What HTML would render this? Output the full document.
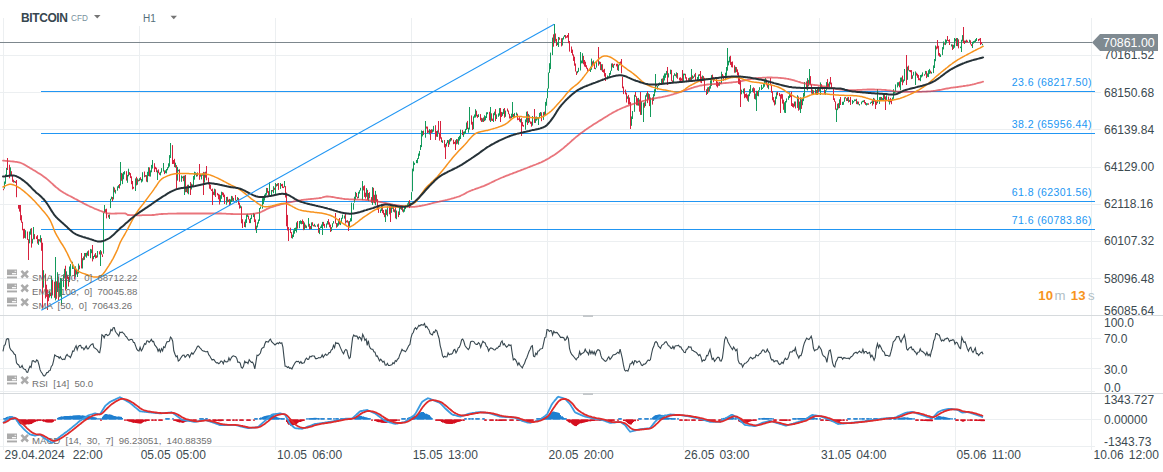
<!DOCTYPE html><html><head><meta charset="utf-8"><style>
html,body{margin:0;padding:0;background:#fff;width:1163px;height:472px;overflow:hidden}
svg{display:block}
text{font-family:"Liberation Sans",sans-serif}
</style></head><body>
<svg width="1163" height="472" viewBox="0 0 1163 472" shape-rendering="auto">
<rect width="1163" height="472" fill="#fff"/>
<line x1="3.5" y1="18" x2="3.5" y2="450" stroke="#eceff1" stroke-width="1"/>
<line x1="139.5" y1="18" x2="139.5" y2="450" stroke="#eceff1" stroke-width="1"/>
<line x1="275.5" y1="18" x2="275.5" y2="450" stroke="#eceff1" stroke-width="1"/>
<line x1="411.5" y1="18" x2="411.5" y2="450" stroke="#eceff1" stroke-width="1"/>
<line x1="547.5" y1="18" x2="547.5" y2="450" stroke="#eceff1" stroke-width="1"/>
<line x1="683.5" y1="18" x2="683.5" y2="450" stroke="#eceff1" stroke-width="1"/>
<line x1="819.5" y1="18" x2="819.5" y2="450" stroke="#eceff1" stroke-width="1"/>
<line x1="955.5" y1="18" x2="955.5" y2="450" stroke="#eceff1" stroke-width="1"/>
<line x1="1091.5" y1="18" x2="1091.5" y2="450" stroke="#eceff1" stroke-width="1"/>
<line x1="0" y1="55.5" x2="1101" y2="55.5" stroke="#eceff1" stroke-width="1"/>
<line x1="0" y1="92.5" x2="1101" y2="92.5" stroke="#eceff1" stroke-width="1"/>
<line x1="0" y1="129.5" x2="1101" y2="129.5" stroke="#eceff1" stroke-width="1"/>
<line x1="0" y1="167.5" x2="1101" y2="167.5" stroke="#eceff1" stroke-width="1"/>
<line x1="0" y1="204.5" x2="1101" y2="204.5" stroke="#eceff1" stroke-width="1"/>
<line x1="0" y1="241.5" x2="1101" y2="241.5" stroke="#eceff1" stroke-width="1"/>
<line x1="0" y1="278.5" x2="1101" y2="278.5" stroke="#eceff1" stroke-width="1"/>
<line x1="0" y1="338.5" x2="1101" y2="338.5" stroke="#eceff1" stroke-width="1"/>
<line x1="0" y1="368.5" x2="1101" y2="368.5" stroke="#eceff1" stroke-width="1"/>
<line x1="0" y1="391.5" x2="1095" y2="391.5" stroke="#eceff1" stroke-width="1"/>
<line x1="0" y1="419.5" x2="1101" y2="419.5" stroke="#eceff1" stroke-width="1"/>
<line x1="0" y1="446.5" x2="1095" y2="446.5" stroke="#eceff1" stroke-width="1"/>
<line x1="0" y1="315.5" x2="1163" y2="315.5" stroke="#d6dadd" stroke-width="1"/>
<line x1="0" y1="393.5" x2="1163" y2="393.5" stroke="#d6dadd" stroke-width="1"/>
<rect x="583" y="315" width="10" height="2" fill="#c4c8cb"/>
<rect x="583" y="393" width="10" height="2" fill="#c4c8cb"/>
<line x1="41" y1="91.5" x2="1095" y2="91.5" stroke="#2196f3" stroke-width="1"/>
<text x="1092" y="85.5" font-size="10.5" fill="#2196f3" text-anchor="end" letter-spacing="0.4">23.6 (68217.50)</text>
<line x1="41" y1="133.5" x2="1095" y2="133.5" stroke="#2196f3" stroke-width="1"/>
<text x="1092" y="127.5" font-size="10.5" fill="#2196f3" text-anchor="end" letter-spacing="0.4">38.2 (65956.44)</text>
<line x1="41" y1="201.5" x2="1095" y2="201.5" stroke="#2196f3" stroke-width="1"/>
<text x="1092" y="195.5" font-size="10.5" fill="#2196f3" text-anchor="end" letter-spacing="0.4">61.8 (62301.56)</text>
<line x1="41" y1="229.5" x2="1095" y2="229.5" stroke="#2196f3" stroke-width="1"/>
<text x="1092" y="223.5" font-size="10.5" fill="#2196f3" text-anchor="end" letter-spacing="0.4">71.6 (60783.86)</text>
<line x1="0" y1="42.5" x2="1092" y2="42.5" stroke="#7d878d" stroke-width="1"/>
<g><rect x="3" y="188.7" width="1" height="1.5" fill="#d7223e"/><rect x="4" y="181.5" width="1" height="7.1" fill="#139a5b"/><rect x="5" y="174.4" width="1" height="9.4" fill="#139a5b"/><rect x="6" y="167.9" width="1" height="9.2" fill="#139a5b"/><rect x="7" y="158.0" width="1" height="12.0" fill="#d7223e"/><rect x="9" y="164.7" width="1" height="13.6" fill="#d7223e"/><rect x="10" y="167.3" width="1" height="8.5" fill="#139a5b"/><rect x="11" y="171.2" width="1" height="4.1" fill="#d7223e"/><rect x="12" y="175.0" width="1" height="6.8" fill="#d7223e"/><rect x="13" y="179.7" width="1" height="2.9" fill="#d7223e"/><rect x="14" y="180.9" width="1" height="1.5" fill="#139a5b"/><rect x="15" y="181.3" width="1" height="1.7" fill="#d7223e"/><rect x="16" y="180.0" width="1" height="17.2" fill="#d7223e"/><rect x="18" y="205.0" width="1" height="3.7" fill="#d7223e"/><rect x="19" y="205.0" width="1" height="6.6" fill="#d7223e"/><rect x="20" y="205.0" width="1" height="15.3" fill="#d7223e"/><rect x="21" y="215.2" width="1" height="7.5" fill="#d7223e"/><rect x="22" y="221.8" width="1" height="8.5" fill="#d7223e"/><rect x="23" y="228.9" width="1" height="9.7" fill="#d7223e"/><rect x="24" y="228.8" width="1" height="9.1" fill="#d7223e"/><rect x="25" y="230.2" width="1" height="8.3" fill="#139a5b"/><rect x="27" y="231.5" width="1" height="8.4" fill="#d7223e"/><rect x="28" y="239.2" width="1" height="20.8" fill="#d7223e"/><rect x="29" y="231.5" width="1" height="11.8" fill="#139a5b"/><rect x="30" y="228.8" width="1" height="5.9" fill="#139a5b"/><rect x="31" y="228.1" width="1" height="19.5" fill="#d7223e"/><rect x="32" y="238.8" width="1" height="4.7" fill="#139a5b"/><rect x="33" y="227.0" width="1" height="12.3" fill="#139a5b"/><rect x="34" y="234.1" width="1" height="5.2" fill="#d7223e"/><rect x="36" y="236.3" width="1" height="2.7" fill="#d7223e"/><rect x="37" y="235.1" width="1" height="8.5" fill="#d7223e"/><rect x="38" y="239.1" width="1" height="5.8" fill="#139a5b"/><rect x="39" y="239.2" width="1" height="2.1" fill="#d7223e"/><rect x="40" y="235.2" width="1" height="7.2" fill="#139a5b"/><rect x="41" y="238.0" width="1" height="12.8" fill="#d7223e"/><rect x="42" y="242.7" width="1" height="65.4" fill="#d7223e"/><rect x="43" y="270.2" width="1" height="17.4" fill="#139a5b"/><rect x="45" y="273.7" width="1" height="24.7" fill="#d7223e"/><rect x="46" y="284.7" width="1" height="12.1" fill="#d7223e"/><rect x="47" y="289.5" width="1" height="20.5" fill="#d7223e"/><rect x="48" y="293.9" width="1" height="7.3" fill="#d7223e"/><rect x="49" y="290.5" width="1" height="7.1" fill="#139a5b"/><rect x="50" y="292.9" width="1" height="3.2" fill="#d7223e"/><rect x="51" y="275.7" width="1" height="22.7" fill="#139a5b"/><rect x="52" y="280.0" width="1" height="15.5" fill="#d7223e"/><rect x="54" y="281.7" width="1" height="16.1" fill="#d7223e"/><rect x="55" y="257.0" width="1" height="43.4" fill="#139a5b"/><rect x="56" y="281.3" width="1" height="17.5" fill="#d7223e"/><rect x="57" y="272.2" width="1" height="19.8" fill="#139a5b"/><rect x="58" y="276.7" width="1" height="23.7" fill="#d7223e"/><rect x="59" y="282.9" width="1" height="14.3" fill="#139a5b"/><rect x="60" y="277.9" width="1" height="18.6" fill="#139a5b"/><rect x="61" y="278.3" width="1" height="26.7" fill="#139a5b"/><rect x="63" y="274.3" width="1" height="12.8" fill="#139a5b"/><rect x="64" y="268.8" width="1" height="9.6" fill="#139a5b"/><rect x="65" y="265.7" width="1" height="24.9" fill="#d7223e"/><rect x="66" y="271.3" width="1" height="17.6" fill="#139a5b"/><rect x="67" y="274.7" width="1" height="4.2" fill="#d7223e"/><rect x="68" y="276.7" width="1" height="9.9" fill="#d7223e"/><rect x="69" y="266.5" width="1" height="15.6" fill="#139a5b"/><rect x="70" y="264.1" width="1" height="12.3" fill="#139a5b"/><rect x="72" y="261.8" width="1" height="7.2" fill="#139a5b"/><rect x="73" y="267.3" width="1" height="1.5" fill="#139a5b"/><rect x="74" y="266.8" width="1" height="12.4" fill="#d7223e"/><rect x="75" y="266.3" width="1" height="10.8" fill="#139a5b"/><rect x="76" y="268.9" width="1" height="5.5" fill="#d7223e"/><rect x="77" y="271.4" width="1" height="5.6" fill="#139a5b"/><rect x="78" y="263.6" width="1" height="9.9" fill="#139a5b"/><rect x="79" y="265.5" width="1" height="3.7" fill="#d7223e"/><rect x="81" y="253.0" width="1" height="15.4" fill="#d7223e"/><rect x="82" y="258.2" width="1" height="10.3" fill="#139a5b"/><rect x="83" y="256.5" width="1" height="3.7" fill="#d7223e"/><rect x="84" y="253.0" width="1" height="6.8" fill="#139a5b"/><rect x="85" y="253.0" width="1" height="3.6" fill="#d7223e"/><rect x="86" y="252.8" width="1" height="4.9" fill="#139a5b"/><rect x="87" y="251.3" width="1" height="4.3" fill="#139a5b"/><rect x="88" y="250.4" width="1" height="5.7" fill="#d7223e"/><rect x="90" y="248.9" width="1" height="9.3" fill="#139a5b"/><rect x="91" y="249.4" width="1" height="3.8" fill="#139a5b"/><rect x="92" y="245.0" width="1" height="16.4" fill="#d7223e"/><rect x="93" y="256.0" width="1" height="3.2" fill="#139a5b"/><rect x="94" y="254.5" width="1" height="2.5" fill="#139a5b"/><rect x="95" y="253.0" width="1" height="5.4" fill="#d7223e"/><rect x="96" y="255.4" width="1" height="2.6" fill="#d7223e"/><rect x="97" y="251.0" width="1" height="6.4" fill="#139a5b"/><rect x="99" y="251.3" width="1" height="3.1" fill="#d7223e"/><rect x="100" y="250.0" width="1" height="16.0" fill="#139a5b"/><rect x="101" y="251.3" width="1" height="3.3" fill="#d7223e"/><rect x="102" y="254.4" width="1" height="2.6" fill="#d7223e"/><rect x="103" y="212.7" width="1" height="41.0" fill="#139a5b"/><rect x="104" y="205.0" width="1" height="7.7" fill="#139a5b"/><rect x="105" y="209.2" width="1" height="2.8" fill="#d7223e"/><rect x="106" y="208.7" width="1" height="9.7" fill="#d7223e"/><rect x="108" y="215.0" width="1" height="2.5" fill="#d7223e"/><rect x="109" y="214.5" width="1" height="4.5" fill="#139a5b"/><rect x="110" y="198.8" width="1" height="9.3" fill="#139a5b"/><rect x="111" y="196.6" width="1" height="2.7" fill="#139a5b"/><rect x="112" y="197.0" width="1" height="4.3" fill="#d7223e"/><rect x="113" y="186.7" width="1" height="12.7" fill="#139a5b"/><rect x="114" y="187.6" width="1" height="4.7" fill="#d7223e"/><rect x="115" y="189.8" width="1" height="3.8" fill="#139a5b"/><rect x="117" y="186.3" width="1" height="4.4" fill="#139a5b"/><rect x="118" y="185.1" width="1" height="2.8" fill="#139a5b"/><rect x="119" y="184.0" width="1" height="4.5" fill="#d7223e"/><rect x="120" y="162.0" width="1" height="23.5" fill="#139a5b"/><rect x="121" y="172.9" width="1" height="7.9" fill="#d7223e"/><rect x="122" y="173.5" width="1" height="10.6" fill="#139a5b"/><rect x="123" y="172.0" width="1" height="7.3" fill="#139a5b"/><rect x="124" y="171.1" width="1" height="3.4" fill="#139a5b"/><rect x="126" y="171.2" width="1" height="9.4" fill="#d7223e"/><rect x="127" y="174.9" width="1" height="7.9" fill="#139a5b"/><rect x="128" y="168.7" width="1" height="7.6" fill="#139a5b"/><rect x="129" y="172.1" width="1" height="2.8" fill="#d7223e"/><rect x="130" y="173.1" width="1" height="5.0" fill="#d7223e"/><rect x="131" y="176.3" width="1" height="7.9" fill="#d7223e"/><rect x="132" y="181.0" width="1" height="8.4" fill="#d7223e"/><rect x="133" y="186.8" width="1" height="1.9" fill="#d7223e"/><rect x="135" y="178.4" width="1" height="12.6" fill="#139a5b"/><rect x="136" y="176.8" width="1" height="8.6" fill="#d7223e"/><rect x="137" y="178.4" width="1" height="6.3" fill="#139a5b"/><rect x="138" y="179.7" width="1" height="1.7" fill="#d7223e"/><rect x="139" y="178.2" width="1" height="2.8" fill="#139a5b"/><rect x="140" y="177.2" width="1" height="3.0" fill="#d7223e"/><rect x="141" y="178.9" width="1" height="3.6" fill="#139a5b"/><rect x="142" y="172.2" width="1" height="9.3" fill="#139a5b"/><rect x="144" y="171.5" width="1" height="5.7" fill="#d7223e"/><rect x="145" y="175.1" width="1" height="1.6" fill="#139a5b"/><rect x="146" y="175.1" width="1" height="6.6" fill="#d7223e"/><rect x="147" y="171.8" width="1" height="10.4" fill="#139a5b"/><rect x="148" y="167.2" width="1" height="8.9" fill="#139a5b"/><rect x="149" y="167.4" width="1" height="9.0" fill="#d7223e"/><rect x="150" y="170.4" width="1" height="6.2" fill="#139a5b"/><rect x="151" y="164.9" width="1" height="7.4" fill="#139a5b"/><rect x="152" y="160.0" width="1" height="8.5" fill="#139a5b"/><rect x="154" y="163.2" width="1" height="8.8" fill="#d7223e"/><rect x="155" y="166.8" width="1" height="2.4" fill="#d7223e"/><rect x="156" y="167.7" width="1" height="4.5" fill="#d7223e"/><rect x="157" y="170.4" width="1" height="9.6" fill="#139a5b"/><rect x="158" y="169.4" width="1" height="3.8" fill="#d7223e"/><rect x="159" y="172.6" width="1" height="2.2" fill="#d7223e"/><rect x="160" y="171.8" width="1" height="3.6" fill="#139a5b"/><rect x="161" y="168.1" width="1" height="4.5" fill="#139a5b"/><rect x="163" y="163.0" width="1" height="8.5" fill="#139a5b"/><rect x="164" y="170.4" width="1" height="3.7" fill="#d7223e"/><rect x="165" y="170.3" width="1" height="2.8" fill="#139a5b"/><rect x="166" y="169.0" width="1" height="4.4" fill="#139a5b"/><rect x="167" y="167.1" width="1" height="3.2" fill="#139a5b"/><rect x="168" y="163.3" width="1" height="4.9" fill="#139a5b"/><rect x="169" y="155.1" width="1" height="11.5" fill="#139a5b"/><rect x="170" y="143.0" width="1" height="15.0" fill="#139a5b"/><rect x="172" y="145.1" width="1" height="18.9" fill="#d7223e"/><rect x="173" y="160.0" width="1" height="3.9" fill="#d7223e"/><rect x="174" y="158.8" width="1" height="8.3" fill="#d7223e"/><rect x="175" y="162.7" width="1" height="5.0" fill="#139a5b"/><rect x="176" y="165.1" width="1" height="24.9" fill="#d7223e"/><rect x="177" y="166.9" width="1" height="13.7" fill="#139a5b"/><rect x="178" y="169.8" width="1" height="1.5" fill="#139a5b"/><rect x="179" y="169.3" width="1" height="12.4" fill="#d7223e"/><rect x="181" y="175.5" width="1" height="6.3" fill="#139a5b"/><rect x="182" y="176.5" width="1" height="1.7" fill="#139a5b"/><rect x="183" y="175.8" width="1" height="5.4" fill="#d7223e"/><rect x="184" y="175.6" width="1" height="19.4" fill="#139a5b"/><rect x="185" y="175.0" width="1" height="17.2" fill="#d7223e"/><rect x="186" y="186.5" width="1" height="5.6" fill="#139a5b"/><rect x="187" y="184.8" width="1" height="8.5" fill="#d7223e"/><rect x="188" y="184.7" width="1" height="9.6" fill="#139a5b"/><rect x="190" y="182.0" width="1" height="13.0" fill="#d7223e"/><rect x="191" y="183.6" width="1" height="5.9" fill="#139a5b"/><rect x="192" y="184.4" width="1" height="2.0" fill="#d7223e"/><rect x="193" y="176.0" width="1" height="9.8" fill="#139a5b"/><rect x="194" y="171.7" width="1" height="8.0" fill="#139a5b"/><rect x="195" y="172.3" width="1" height="2.8" fill="#139a5b"/><rect x="196" y="173.0" width="1" height="3.7" fill="#139a5b"/><rect x="197" y="172.4" width="1" height="3.9" fill="#d7223e"/><rect x="199" y="164.0" width="1" height="15.8" fill="#d7223e"/><rect x="200" y="174.2" width="1" height="2.4" fill="#d7223e"/><rect x="201" y="174.3" width="1" height="5.1" fill="#139a5b"/><rect x="202" y="173.5" width="1" height="2.2" fill="#139a5b"/><rect x="203" y="171.9" width="1" height="23.1" fill="#d7223e"/><rect x="204" y="172.3" width="1" height="10.3" fill="#139a5b"/><rect x="205" y="171.7" width="1" height="6.0" fill="#d7223e"/><rect x="206" y="166.0" width="1" height="14.3" fill="#d7223e"/><rect x="208" y="177.6" width="1" height="6.8" fill="#d7223e"/><rect x="209" y="182.1" width="1" height="6.6" fill="#d7223e"/><rect x="210" y="184.7" width="1" height="4.8" fill="#d7223e"/><rect x="211" y="189.3" width="1" height="1.7" fill="#d7223e"/><rect x="212" y="188.6" width="1" height="16.4" fill="#d7223e"/><rect x="213" y="191.7" width="1" height="3.2" fill="#d7223e"/><rect x="214" y="188.7" width="1" height="6.7" fill="#139a5b"/><rect x="215" y="189.3" width="1" height="7.7" fill="#d7223e"/><rect x="217" y="192.9" width="1" height="2.4" fill="#d7223e"/><rect x="218" y="193.9" width="1" height="5.4" fill="#d7223e"/><rect x="219" y="194.6" width="1" height="9.9" fill="#d7223e"/><rect x="220" y="195.2" width="1" height="6.9" fill="#139a5b"/><rect x="221" y="191.7" width="1" height="7.1" fill="#139a5b"/><rect x="222" y="192.1" width="1" height="3.1" fill="#d7223e"/><rect x="223" y="192.7" width="1" height="4.4" fill="#d7223e"/><rect x="224" y="194.6" width="1" height="9.4" fill="#d7223e"/><rect x="226" y="197.0" width="1" height="7.7" fill="#139a5b"/><rect x="227" y="196.8" width="1" height="5.6" fill="#d7223e"/><rect x="228" y="199.6" width="1" height="2.4" fill="#139a5b"/><rect x="229" y="198.9" width="1" height="7.0" fill="#d7223e"/><rect x="230" y="199.4" width="1" height="5.5" fill="#139a5b"/><rect x="231" y="195.9" width="1" height="6.1" fill="#139a5b"/><rect x="232" y="196.3" width="1" height="4.5" fill="#d7223e"/><rect x="233" y="197.9" width="1" height="3.1" fill="#139a5b"/><rect x="235" y="195.0" width="1" height="5.6" fill="#d7223e"/><rect x="236" y="199.9" width="1" height="2.7" fill="#139a5b"/><rect x="237" y="197.1" width="1" height="2.9" fill="#139a5b"/><rect x="238" y="197.9" width="1" height="6.8" fill="#d7223e"/><rect x="239" y="202.7" width="1" height="5.9" fill="#d7223e"/><rect x="240" y="205.4" width="1" height="2.7" fill="#139a5b"/><rect x="241" y="206.4" width="1" height="16.9" fill="#d7223e"/><rect x="242" y="219.2" width="1" height="8.8" fill="#d7223e"/><rect x="244" y="221.7" width="1" height="5.3" fill="#d7223e"/><rect x="245" y="219.4" width="1" height="8.0" fill="#139a5b"/><rect x="246" y="214.4" width="1" height="8.5" fill="#139a5b"/><rect x="247" y="213.8" width="1" height="3.1" fill="#139a5b"/><rect x="248" y="215.6" width="1" height="3.8" fill="#d7223e"/><rect x="249" y="219.1" width="1" height="4.0" fill="#d7223e"/><rect x="250" y="217.9" width="1" height="5.2" fill="#139a5b"/><rect x="251" y="214.6" width="1" height="4.5" fill="#139a5b"/><rect x="253" y="213.0" width="1" height="4.1" fill="#139a5b"/><rect x="254" y="213.8" width="1" height="8.3" fill="#d7223e"/><rect x="255" y="219.4" width="1" height="10.8" fill="#d7223e"/><rect x="256" y="225.7" width="1" height="7.3" fill="#139a5b"/><rect x="257" y="222.3" width="1" height="5.1" fill="#139a5b"/><rect x="258" y="219.5" width="1" height="4.1" fill="#139a5b"/><rect x="259" y="208.0" width="1" height="12.9" fill="#139a5b"/><rect x="260" y="206.5" width="1" height="2.3" fill="#139a5b"/><rect x="262" y="198.2" width="1" height="10.4" fill="#139a5b"/><rect x="263" y="197.2" width="1" height="6.9" fill="#139a5b"/><rect x="264" y="194.6" width="1" height="6.0" fill="#139a5b"/><rect x="265" y="193.2" width="1" height="4.4" fill="#139a5b"/><rect x="266" y="187.9" width="1" height="6.9" fill="#139a5b"/><rect x="267" y="188.0" width="1" height="4.8" fill="#d7223e"/><rect x="268" y="191.1" width="1" height="4.3" fill="#d7223e"/><rect x="269" y="182.0" width="1" height="13.0" fill="#139a5b"/><rect x="271" y="190.0" width="1" height="5.0" fill="#139a5b"/><rect x="272" y="190.0" width="1" height="1.5" fill="#d7223e"/><rect x="273" y="186.2" width="1" height="7.0" fill="#139a5b"/><rect x="274" y="187.7" width="1" height="2.2" fill="#d7223e"/><rect x="275" y="183.0" width="1" height="12.0" fill="#139a5b"/><rect x="276" y="184.1" width="1" height="2.4" fill="#d7223e"/><rect x="277" y="183.4" width="1" height="2.4" fill="#139a5b"/><rect x="278" y="183.0" width="1" height="6.9" fill="#d7223e"/><rect x="280" y="183.0" width="1" height="5.9" fill="#139a5b"/><rect x="281" y="184.1" width="1" height="2.1" fill="#d7223e"/><rect x="282" y="183.8" width="1" height="4.2" fill="#d7223e"/><rect x="283" y="186.6" width="1" height="1.5" fill="#d7223e"/><rect x="284" y="181.0" width="1" height="6.2" fill="#139a5b"/><rect x="285" y="186.1" width="1" height="11.4" fill="#d7223e"/><rect x="286" y="192.6" width="1" height="33.7" fill="#d7223e"/><rect x="287" y="214.9" width="1" height="15.6" fill="#d7223e"/><rect x="288" y="227.1" width="1" height="13.9" fill="#d7223e"/><rect x="290" y="227.7" width="1" height="5.4" fill="#d7223e"/><rect x="291" y="232.1" width="1" height="6.0" fill="#d7223e"/><rect x="292" y="234.6" width="1" height="4.0" fill="#139a5b"/><rect x="293" y="230.3" width="1" height="6.7" fill="#139a5b"/><rect x="294" y="228.1" width="1" height="5.6" fill="#139a5b"/><rect x="295" y="227.6" width="1" height="3.4" fill="#139a5b"/><rect x="296" y="222.4" width="1" height="10.1" fill="#139a5b"/><rect x="297" y="221.0" width="1" height="7.6" fill="#d7223e"/><rect x="299" y="221.0" width="1" height="7.2" fill="#139a5b"/><rect x="300" y="220.3" width="1" height="3.5" fill="#139a5b"/><rect x="301" y="221.0" width="1" height="3.3" fill="#139a5b"/><rect x="302" y="219.5" width="1" height="4.5" fill="#d7223e"/><rect x="303" y="221.1" width="1" height="9.1" fill="#d7223e"/><rect x="304" y="222.5" width="1" height="7.4" fill="#139a5b"/><rect x="305" y="224.6" width="1" height="3.3" fill="#d7223e"/><rect x="306" y="225.6" width="1" height="2.6" fill="#139a5b"/><rect x="308" y="218.0" width="1" height="8.7" fill="#139a5b"/><rect x="309" y="223.8" width="1" height="5.6" fill="#d7223e"/><rect x="310" y="226.0" width="1" height="3.0" fill="#d7223e"/><rect x="311" y="222.4" width="1" height="6.8" fill="#139a5b"/><rect x="312" y="222.2" width="1" height="3.4" fill="#d7223e"/><rect x="313" y="224.9" width="1" height="1.5" fill="#d7223e"/><rect x="314" y="223.8" width="1" height="2.7" fill="#139a5b"/><rect x="315" y="225.4" width="1" height="1.5" fill="#d7223e"/><rect x="317" y="224.4" width="1" height="2.4" fill="#139a5b"/><rect x="318" y="223.6" width="1" height="9.2" fill="#d7223e"/><rect x="319" y="228.0" width="1" height="6.1" fill="#139a5b"/><rect x="320" y="226.5" width="1" height="1.8" fill="#139a5b"/><rect x="321" y="224.5" width="1" height="3.5" fill="#139a5b"/><rect x="322" y="221.9" width="1" height="13.1" fill="#139a5b"/><rect x="323" y="221.9" width="1" height="4.0" fill="#d7223e"/><rect x="324" y="223.9" width="1" height="3.9" fill="#d7223e"/><rect x="326" y="223.4" width="1" height="4.4" fill="#139a5b"/><rect x="327" y="221.0" width="1" height="3.5" fill="#139a5b"/><rect x="328" y="219.1" width="1" height="5.5" fill="#d7223e"/><rect x="329" y="222.3" width="1" height="5.0" fill="#d7223e"/><rect x="330" y="224.6" width="1" height="7.4" fill="#d7223e"/><rect x="331" y="227.1" width="1" height="4.1" fill="#139a5b"/><rect x="332" y="223.2" width="1" height="4.1" fill="#139a5b"/><rect x="333" y="221.1" width="1" height="2.4" fill="#139a5b"/><rect x="335" y="213.0" width="1" height="10.6" fill="#d7223e"/><rect x="336" y="223.0" width="1" height="4.7" fill="#d7223e"/><rect x="337" y="223.2" width="1" height="3.6" fill="#139a5b"/><rect x="338" y="219.6" width="1" height="6.0" fill="#139a5b"/><rect x="339" y="218.0" width="1" height="6.4" fill="#d7223e"/><rect x="340" y="221.4" width="1" height="3.7" fill="#139a5b"/><rect x="341" y="217.8" width="1" height="5.1" fill="#139a5b"/><rect x="342" y="214.6" width="1" height="4.1" fill="#139a5b"/><rect x="344" y="215.5" width="1" height="3.1" fill="#139a5b"/><rect x="345" y="214.0" width="1" height="9.6" fill="#d7223e"/><rect x="346" y="220.6" width="1" height="1.8" fill="#139a5b"/><rect x="347" y="220.2" width="1" height="2.4" fill="#d7223e"/><rect x="348" y="221.3" width="1" height="9.7" fill="#d7223e"/><rect x="349" y="220.9" width="1" height="6.3" fill="#139a5b"/><rect x="350" y="218.2" width="1" height="3.5" fill="#139a5b"/><rect x="351" y="202.7" width="1" height="18.6" fill="#139a5b"/><rect x="353" y="203.2" width="1" height="6.5" fill="#139a5b"/><rect x="354" y="196.7" width="1" height="5.9" fill="#139a5b"/><rect x="355" y="191.9" width="1" height="7.7" fill="#139a5b"/><rect x="356" y="192.9" width="1" height="4.0" fill="#d7223e"/><rect x="357" y="196.7" width="1" height="1.8" fill="#d7223e"/><rect x="358" y="191.8" width="1" height="6.3" fill="#139a5b"/><rect x="359" y="190.2" width="1" height="3.4" fill="#139a5b"/><rect x="360" y="187.8" width="1" height="2.8" fill="#139a5b"/><rect x="362" y="181.0" width="1" height="19.0" fill="#139a5b"/><rect x="363" y="186.2" width="1" height="4.2" fill="#d7223e"/><rect x="364" y="185.4" width="1" height="11.5" fill="#d7223e"/><rect x="365" y="192.7" width="1" height="5.9" fill="#d7223e"/><rect x="366" y="188.1" width="1" height="8.7" fill="#139a5b"/><rect x="367" y="189.8" width="1" height="10.2" fill="#d7223e"/><rect x="368" y="193.0" width="1" height="8.2" fill="#139a5b"/><rect x="369" y="192.2" width="1" height="6.1" fill="#d7223e"/><rect x="371" y="197.1" width="1" height="5.6" fill="#d7223e"/><rect x="372" y="187.1" width="1" height="17.8" fill="#139a5b"/><rect x="373" y="187.8" width="1" height="14.8" fill="#d7223e"/><rect x="374" y="194.8" width="1" height="8.5" fill="#d7223e"/><rect x="375" y="190.9" width="1" height="14.4" fill="#139a5b"/><rect x="376" y="194.6" width="1" height="6.6" fill="#d7223e"/><rect x="377" y="199.2" width="1" height="10.4" fill="#d7223e"/><rect x="378" y="205.1" width="1" height="7.8" fill="#d7223e"/><rect x="380" y="209.5" width="1" height="3.4" fill="#139a5b"/><rect x="381" y="204.1" width="1" height="7.0" fill="#139a5b"/><rect x="382" y="205.7" width="1" height="7.4" fill="#d7223e"/><rect x="383" y="210.0" width="1" height="4.6" fill="#d7223e"/><rect x="384" y="213.1" width="1" height="4.1" fill="#d7223e"/><rect x="385" y="209.4" width="1" height="12.6" fill="#139a5b"/><rect x="386" y="209.5" width="1" height="5.4" fill="#d7223e"/><rect x="387" y="206.3" width="1" height="10.0" fill="#139a5b"/><rect x="389" y="206.0" width="1" height="8.3" fill="#d7223e"/><rect x="390" y="205.0" width="1" height="17.0" fill="#d7223e"/><rect x="391" y="205.5" width="1" height="7.3" fill="#139a5b"/><rect x="392" y="206.3" width="1" height="2.5" fill="#139a5b"/><rect x="393" y="205.2" width="1" height="6.6" fill="#d7223e"/><rect x="394" y="209.4" width="1" height="3.0" fill="#139a5b"/><rect x="395" y="205.0" width="1" height="13.4" fill="#d7223e"/><rect x="396" y="210.5" width="1" height="8.7" fill="#139a5b"/><rect x="398" y="211.4" width="1" height="5.7" fill="#d7223e"/><rect x="399" y="206.3" width="1" height="8.7" fill="#139a5b"/><rect x="400" y="205.0" width="1" height="4.2" fill="#d7223e"/><rect x="401" y="205.2" width="1" height="4.7" fill="#139a5b"/><rect x="402" y="205.4" width="1" height="6.2" fill="#d7223e"/><rect x="403" y="209.4" width="1" height="3.1" fill="#139a5b"/><rect x="404" y="206.3" width="1" height="5.4" fill="#139a5b"/><rect x="405" y="205.2" width="1" height="3.9" fill="#139a5b"/><rect x="407" y="203.4" width="1" height="3.9" fill="#139a5b"/><rect x="408" y="201.3" width="1" height="3.5" fill="#139a5b"/><rect x="409" y="200.1" width="1" height="8.0" fill="#d7223e"/><rect x="410" y="202.7" width="1" height="3.9" fill="#139a5b"/><rect x="411" y="192.1" width="1" height="7.8" fill="#139a5b"/><rect x="412" y="168.6" width="1" height="22.8" fill="#139a5b"/><rect x="413" y="161.3" width="1" height="10.0" fill="#139a5b"/><rect x="414" y="162.8" width="1" height="2.1" fill="#139a5b"/><rect x="416" y="160.0" width="1" height="3.1" fill="#139a5b"/><rect x="417" y="158.2" width="1" height="5.0" fill="#139a5b"/><rect x="418" y="153.5" width="1" height="5.5" fill="#139a5b"/><rect x="419" y="150.9" width="1" height="4.9" fill="#139a5b"/><rect x="420" y="145.0" width="1" height="5.0" fill="#139a5b"/><rect x="421" y="130.4" width="1" height="16.7" fill="#139a5b"/><rect x="422" y="131.0" width="1" height="5.4" fill="#139a5b"/><rect x="423" y="130.6" width="1" height="4.3" fill="#d7223e"/><rect x="425" y="121.0" width="1" height="16.7" fill="#139a5b"/><rect x="426" y="126.5" width="1" height="2.1" fill="#d7223e"/><rect x="427" y="126.6" width="1" height="6.6" fill="#d7223e"/><rect x="428" y="130.5" width="1" height="2.1" fill="#d7223e"/><rect x="429" y="129.1" width="1" height="5.3" fill="#139a5b"/><rect x="430" y="129.9" width="1" height="10.1" fill="#d7223e"/><rect x="431" y="129.2" width="1" height="3.8" fill="#d7223e"/><rect x="432" y="129.5" width="1" height="3.1" fill="#139a5b"/><rect x="433" y="125.9" width="1" height="5.7" fill="#139a5b"/><rect x="435" y="125.2" width="1" height="14.8" fill="#d7223e"/><rect x="436" y="131.0" width="1" height="5.7" fill="#d7223e"/><rect x="437" y="130.5" width="1" height="6.4" fill="#139a5b"/><rect x="438" y="121.0" width="1" height="11.8" fill="#d7223e"/><rect x="439" y="132.7" width="1" height="7.9" fill="#d7223e"/><rect x="440" y="121.0" width="1" height="17.7" fill="#d7223e"/><rect x="441" y="137.3" width="1" height="4.9" fill="#d7223e"/><rect x="442" y="140.3" width="1" height="2.6" fill="#139a5b"/><rect x="444" y="140.0" width="1" height="7.4" fill="#d7223e"/><rect x="445" y="144.0" width="1" height="15.0" fill="#d7223e"/><rect x="446" y="142.7" width="1" height="3.8" fill="#139a5b"/><rect x="447" y="140.0" width="1" height="3.2" fill="#139a5b"/><rect x="448" y="140.2" width="1" height="6.8" fill="#d7223e"/><rect x="449" y="139.2" width="1" height="5.3" fill="#139a5b"/><rect x="450" y="138.0" width="1" height="3.5" fill="#139a5b"/><rect x="451" y="138.0" width="1" height="2.5" fill="#d7223e"/><rect x="453" y="139.7" width="1" height="4.5" fill="#d7223e"/><rect x="454" y="141.9" width="1" height="1.9" fill="#d7223e"/><rect x="455" y="140.2" width="1" height="9.8" fill="#d7223e"/><rect x="456" y="139.0" width="1" height="5.3" fill="#139a5b"/><rect x="457" y="139.3" width="1" height="4.4" fill="#d7223e"/><rect x="458" y="137.1" width="1" height="7.6" fill="#139a5b"/><rect x="459" y="135.8" width="1" height="4.8" fill="#139a5b"/><rect x="460" y="129.6" width="1" height="9.4" fill="#139a5b"/><rect x="462" y="129.9" width="1" height="5.2" fill="#d7223e"/><rect x="463" y="131.7" width="1" height="5.2" fill="#139a5b"/><rect x="464" y="131.3" width="1" height="3.0" fill="#139a5b"/><rect x="465" y="128.9" width="1" height="4.5" fill="#139a5b"/><rect x="466" y="122.5" width="1" height="7.5" fill="#139a5b"/><rect x="467" y="120.9" width="1" height="8.1" fill="#d7223e"/><rect x="468" y="127.7" width="1" height="5.0" fill="#139a5b"/><rect x="469" y="107.0" width="1" height="22.5" fill="#139a5b"/><rect x="471" y="115.4" width="1" height="9.2" fill="#d7223e"/><rect x="472" y="121.8" width="1" height="8.2" fill="#d7223e"/><rect x="473" y="116.4" width="1" height="12.8" fill="#139a5b"/><rect x="474" y="114.5" width="1" height="3.2" fill="#139a5b"/><rect x="475" y="109.2" width="1" height="8.3" fill="#139a5b"/><rect x="476" y="110.7" width="1" height="5.7" fill="#d7223e"/><rect x="477" y="114.8" width="1" height="3.1" fill="#d7223e"/><rect x="478" y="114.2" width="1" height="2.8" fill="#139a5b"/><rect x="480" y="114.1" width="1" height="6.4" fill="#d7223e"/><rect x="481" y="117.8" width="1" height="4.2" fill="#d7223e"/><rect x="482" y="118.3" width="1" height="3.5" fill="#139a5b"/><rect x="483" y="117.4" width="1" height="4.6" fill="#d7223e"/><rect x="484" y="115.3" width="1" height="5.8" fill="#139a5b"/><rect x="485" y="116.2" width="1" height="4.1" fill="#139a5b"/><rect x="486" y="112.3" width="1" height="5.7" fill="#139a5b"/><rect x="487" y="112.2" width="1" height="2.0" fill="#139a5b"/><rect x="489" y="111.8" width="1" height="8.7" fill="#d7223e"/><rect x="490" y="107.0" width="1" height="15.0" fill="#139a5b"/><rect x="491" y="113.3" width="1" height="7.4" fill="#d7223e"/><rect x="492" y="118.6" width="1" height="2.4" fill="#d7223e"/><rect x="493" y="113.2" width="1" height="8.8" fill="#139a5b"/><rect x="494" y="111.6" width="1" height="3.6" fill="#139a5b"/><rect x="495" y="109.1" width="1" height="12.0" fill="#d7223e"/><rect x="496" y="114.4" width="1" height="4.6" fill="#139a5b"/><rect x="498" y="113.4" width="1" height="3.4" fill="#139a5b"/><rect x="499" y="108.1" width="1" height="7.5" fill="#139a5b"/><rect x="500" y="108.0" width="1" height="14.0" fill="#d7223e"/><rect x="501" y="111.9" width="1" height="5.1" fill="#d7223e"/><rect x="502" y="112.3" width="1" height="3.5" fill="#139a5b"/><rect x="503" y="108.9" width="1" height="5.0" fill="#139a5b"/><rect x="504" y="108.0" width="1" height="9.7" fill="#d7223e"/><rect x="505" y="110.6" width="1" height="6.2" fill="#139a5b"/><rect x="507" y="108.5" width="1" height="3.0" fill="#d7223e"/><rect x="508" y="110.5" width="1" height="3.7" fill="#d7223e"/><rect x="509" y="113.8" width="1" height="4.7" fill="#d7223e"/><rect x="510" y="116.3" width="1" height="2.3" fill="#d7223e"/><rect x="511" y="113.7" width="1" height="4.4" fill="#139a5b"/><rect x="512" y="102.0" width="1" height="15.0" fill="#139a5b"/><rect x="513" y="114.0" width="1" height="4.0" fill="#d7223e"/><rect x="514" y="112.9" width="1" height="5.2" fill="#139a5b"/><rect x="516" y="112.5" width="1" height="2.9" fill="#139a5b"/><rect x="517" y="113.7" width="1" height="6.5" fill="#d7223e"/><rect x="518" y="118.4" width="1" height="1.5" fill="#d7223e"/><rect x="519" y="117.1" width="1" height="4.5" fill="#d7223e"/><rect x="520" y="118.9" width="1" height="3.5" fill="#139a5b"/><rect x="521" y="118.2" width="1" height="17.8" fill="#d7223e"/><rect x="522" y="122.1" width="1" height="4.1" fill="#d7223e"/><rect x="523" y="124.9" width="1" height="1.9" fill="#d7223e"/><rect x="525" y="119.5" width="1" height="10.2" fill="#139a5b"/><rect x="526" y="111.7" width="1" height="10.6" fill="#139a5b"/><rect x="527" y="111.3" width="1" height="13.6" fill="#d7223e"/><rect x="528" y="113.9" width="1" height="9.2" fill="#139a5b"/><rect x="529" y="115.3" width="1" height="6.9" fill="#d7223e"/><rect x="530" y="121.4" width="1" height="2.4" fill="#d7223e"/><rect x="531" y="121.7" width="1" height="5.0" fill="#d7223e"/><rect x="532" y="116.0" width="1" height="9.6" fill="#139a5b"/><rect x="534" y="109.0" width="1" height="13.9" fill="#d7223e"/><rect x="535" y="116.8" width="1" height="6.1" fill="#139a5b"/><rect x="536" y="116.5" width="1" height="4.2" fill="#139a5b"/><rect x="537" y="117.1" width="1" height="2.4" fill="#139a5b"/><rect x="538" y="117.4" width="1" height="7.6" fill="#139a5b"/><rect x="539" y="112.9" width="1" height="5.3" fill="#139a5b"/><rect x="540" y="112.0" width="1" height="3.9" fill="#139a5b"/><rect x="541" y="112.4" width="1" height="8.8" fill="#d7223e"/><rect x="543" y="112.1" width="1" height="7.8" fill="#139a5b"/><rect x="544" y="111.6" width="1" height="3.7" fill="#d7223e"/><rect x="545" y="101.9" width="1" height="13.6" fill="#139a5b"/><rect x="546" y="98.4" width="1" height="7.3" fill="#139a5b"/><rect x="547" y="88.4" width="1" height="9.8" fill="#139a5b"/><rect x="548" y="72.5" width="1" height="16.1" fill="#139a5b"/><rect x="549" y="63.2" width="1" height="9.7" fill="#139a5b"/><rect x="550" y="52.6" width="1" height="16.5" fill="#139a5b"/><rect x="552" y="37.6" width="1" height="17.5" fill="#139a5b"/><rect x="553" y="34.3" width="1" height="12.4" fill="#d7223e"/><rect x="554" y="24.0" width="1" height="19.1" fill="#139a5b"/><rect x="555" y="33.5" width="1" height="8.0" fill="#d7223e"/><rect x="556" y="38.9" width="1" height="7.1" fill="#d7223e"/><rect x="557" y="42.4" width="1" height="2.7" fill="#139a5b"/><rect x="558" y="37.0" width="1" height="10.0" fill="#139a5b"/><rect x="559" y="37.4" width="1" height="2.4" fill="#d7223e"/><rect x="561" y="38.2" width="1" height="8.2" fill="#d7223e"/><rect x="562" y="38.1" width="1" height="7.4" fill="#139a5b"/><rect x="563" y="36.6" width="1" height="2.9" fill="#139a5b"/><rect x="564" y="35.0" width="1" height="1.9" fill="#139a5b"/><rect x="565" y="35.0" width="1" height="3.5" fill="#d7223e"/><rect x="566" y="36.3" width="1" height="1.5" fill="#d7223e"/><rect x="567" y="35.0" width="1" height="2.6" fill="#d7223e"/><rect x="568" y="33.0" width="1" height="10.2" fill="#d7223e"/><rect x="569" y="41.0" width="1" height="10.6" fill="#d7223e"/><rect x="571" y="46.5" width="1" height="6.5" fill="#d7223e"/><rect x="572" y="49.6" width="1" height="5.9" fill="#d7223e"/><rect x="573" y="54.4" width="1" height="6.5" fill="#d7223e"/><rect x="574" y="56.7" width="1" height="9.0" fill="#d7223e"/><rect x="575" y="63.5" width="1" height="8.0" fill="#d7223e"/><rect x="576" y="71.4" width="1" height="3.6" fill="#d7223e"/><rect x="577" y="70.9" width="1" height="2.4" fill="#139a5b"/><rect x="578" y="67.8" width="1" height="4.0" fill="#139a5b"/><rect x="580" y="52.0" width="1" height="18.5" fill="#139a5b"/><rect x="581" y="60.5" width="1" height="2.9" fill="#139a5b"/><rect x="582" y="53.2" width="1" height="10.1" fill="#139a5b"/><rect x="583" y="55.9" width="1" height="8.4" fill="#d7223e"/><rect x="584" y="60.0" width="1" height="6.5" fill="#d7223e"/><rect x="585" y="61.7" width="1" height="5.4" fill="#d7223e"/><rect x="586" y="65.2" width="1" height="3.5" fill="#d7223e"/><rect x="587" y="67.8" width="1" height="3.2" fill="#d7223e"/><rect x="589" y="69.4" width="1" height="1.5" fill="#d7223e"/><rect x="590" y="66.7" width="1" height="5.3" fill="#139a5b"/><rect x="591" y="58.6" width="1" height="11.2" fill="#139a5b"/><rect x="592" y="61.4" width="1" height="3.8" fill="#d7223e"/><rect x="593" y="60.4" width="1" height="4.6" fill="#139a5b"/><rect x="594" y="62.5" width="1" height="6.5" fill="#d7223e"/><rect x="595" y="67.8" width="1" height="1.5" fill="#139a5b"/><rect x="596" y="61.2" width="1" height="6.4" fill="#139a5b"/><rect x="598" y="47.0" width="1" height="18.7" fill="#d7223e"/><rect x="599" y="61.4" width="1" height="2.9" fill="#139a5b"/><rect x="600" y="61.9" width="1" height="8.2" fill="#d7223e"/><rect x="601" y="64.2" width="1" height="6.2" fill="#139a5b"/><rect x="602" y="64.2" width="1" height="7.8" fill="#d7223e"/><rect x="603" y="69.7" width="1" height="2.9" fill="#d7223e"/><rect x="604" y="68.8" width="1" height="7.7" fill="#d7223e"/><rect x="605" y="73.1" width="1" height="7.9" fill="#d7223e"/><rect x="607" y="75.5" width="1" height="3.9" fill="#139a5b"/><rect x="608" y="76.5" width="1" height="1.8" fill="#139a5b"/><rect x="609" y="73.0" width="1" height="3.7" fill="#139a5b"/><rect x="610" y="70.7" width="1" height="4.0" fill="#139a5b"/><rect x="611" y="63.5" width="1" height="7.3" fill="#139a5b"/><rect x="612" y="63.3" width="1" height="4.0" fill="#d7223e"/><rect x="613" y="64.3" width="1" height="3.7" fill="#139a5b"/><rect x="614" y="63.7" width="1" height="1.5" fill="#d7223e"/><rect x="616" y="63.8" width="1" height="2.6" fill="#d7223e"/><rect x="617" y="63.7" width="1" height="6.5" fill="#d7223e"/><rect x="618" y="64.6" width="1" height="6.3" fill="#139a5b"/><rect x="619" y="62.2" width="1" height="3.1" fill="#139a5b"/><rect x="620" y="61.5" width="1" height="3.4" fill="#d7223e"/><rect x="621" y="59.0" width="1" height="14.3" fill="#d7223e"/><rect x="622" y="76.8" width="1" height="11.4" fill="#d7223e"/><rect x="623" y="86.6" width="1" height="7.5" fill="#d7223e"/><rect x="625" y="89.6" width="1" height="4.8" fill="#d7223e"/><rect x="626" y="92.7" width="1" height="9.8" fill="#d7223e"/><rect x="627" y="96.3" width="1" height="2.5" fill="#139a5b"/><rect x="628" y="94.9" width="1" height="9.7" fill="#d7223e"/><rect x="629" y="97.5" width="1" height="7.0" fill="#d7223e"/><rect x="630" y="102.1" width="1" height="26.9" fill="#d7223e"/><rect x="631" y="116.4" width="1" height="9.4" fill="#139a5b"/><rect x="632" y="111.0" width="1" height="8.0" fill="#139a5b"/><rect x="634" y="94.8" width="1" height="17.0" fill="#139a5b"/><rect x="635" y="92.0" width="1" height="4.9" fill="#d7223e"/><rect x="636" y="96.3" width="1" height="9.0" fill="#d7223e"/><rect x="637" y="98.2" width="1" height="7.3" fill="#d7223e"/><rect x="638" y="97.9" width="1" height="7.8" fill="#139a5b"/><rect x="639" y="99.5" width="1" height="12.2" fill="#d7223e"/><rect x="640" y="92.0" width="1" height="22.9" fill="#d7223e"/><rect x="641" y="101.4" width="1" height="13.5" fill="#139a5b"/><rect x="643" y="102.6" width="1" height="19.4" fill="#139a5b"/><rect x="644" y="102.3" width="1" height="5.4" fill="#d7223e"/><rect x="645" y="95.3" width="1" height="10.8" fill="#139a5b"/><rect x="646" y="93.3" width="1" height="3.4" fill="#139a5b"/><rect x="647" y="91.2" width="1" height="11.9" fill="#d7223e"/><rect x="648" y="93.3" width="1" height="6.3" fill="#139a5b"/><rect x="649" y="94.1" width="1" height="12.0" fill="#d7223e"/><rect x="650" y="97.5" width="1" height="19.5" fill="#139a5b"/><rect x="652" y="97.4" width="1" height="7.2" fill="#d7223e"/><rect x="653" y="94.1" width="1" height="6.8" fill="#139a5b"/><rect x="654" y="89.2" width="1" height="7.0" fill="#139a5b"/><rect x="655" y="74.0" width="1" height="18.3" fill="#139a5b"/><rect x="656" y="83.8" width="1" height="2.6" fill="#d7223e"/><rect x="657" y="85.9" width="1" height="3.6" fill="#139a5b"/><rect x="658" y="83.4" width="1" height="2.7" fill="#139a5b"/><rect x="659" y="82.5" width="1" height="1.5" fill="#139a5b"/><rect x="661" y="78.8" width="1" height="5.4" fill="#139a5b"/><rect x="662" y="78.4" width="1" height="4.6" fill="#d7223e"/><rect x="663" y="75.6" width="1" height="8.2" fill="#139a5b"/><rect x="664" y="73.4" width="1" height="7.1" fill="#139a5b"/><rect x="665" y="73.4" width="1" height="4.4" fill="#139a5b"/><rect x="666" y="70.9" width="1" height="3.9" fill="#139a5b"/><rect x="667" y="67.0" width="1" height="18.0" fill="#d7223e"/><rect x="668" y="73.3" width="1" height="4.2" fill="#139a5b"/><rect x="670" y="69.6" width="1" height="4.6" fill="#139a5b"/><rect x="671" y="69.9" width="1" height="11.0" fill="#d7223e"/><rect x="672" y="80.4" width="1" height="2.7" fill="#d7223e"/><rect x="673" y="75.3" width="1" height="6.8" fill="#139a5b"/><rect x="674" y="73.2" width="1" height="2.6" fill="#139a5b"/><rect x="675" y="74.3" width="1" height="1.9" fill="#d7223e"/><rect x="676" y="72.3" width="1" height="5.4" fill="#139a5b"/><rect x="677" y="73.0" width="1" height="5.8" fill="#d7223e"/><rect x="679" y="77.7" width="1" height="2.8" fill="#d7223e"/><rect x="680" y="77.3" width="1" height="4.7" fill="#d7223e"/><rect x="681" y="78.3" width="1" height="2.4" fill="#d7223e"/><rect x="682" y="70.0" width="1" height="12.0" fill="#d7223e"/><rect x="683" y="73.6" width="1" height="8.4" fill="#139a5b"/><rect x="684" y="73.6" width="1" height="1.6" fill="#139a5b"/><rect x="685" y="73.8" width="1" height="4.8" fill="#d7223e"/><rect x="686" y="77.2" width="1" height="4.8" fill="#d7223e"/><rect x="688" y="78.1" width="1" height="3.9" fill="#d7223e"/><rect x="689" y="77.6" width="1" height="3.7" fill="#139a5b"/><rect x="690" y="77.2" width="1" height="3.7" fill="#d7223e"/><rect x="691" y="69.0" width="1" height="12.2" fill="#139a5b"/><rect x="692" y="75.4" width="1" height="3.5" fill="#d7223e"/><rect x="693" y="76.3" width="1" height="1.9" fill="#139a5b"/><rect x="694" y="74.3" width="1" height="2.5" fill="#139a5b"/><rect x="695" y="72.9" width="1" height="7.2" fill="#d7223e"/><rect x="697" y="76.9" width="1" height="3.3" fill="#139a5b"/><rect x="698" y="74.5" width="1" height="5.2" fill="#139a5b"/><rect x="699" y="74.1" width="1" height="1.8" fill="#d7223e"/><rect x="700" y="71.0" width="1" height="11.5" fill="#d7223e"/><rect x="701" y="76.7" width="1" height="6.4" fill="#d7223e"/><rect x="702" y="75.5" width="1" height="5.1" fill="#139a5b"/><rect x="703" y="76.1" width="1" height="5.0" fill="#d7223e"/><rect x="704" y="77.8" width="1" height="12.9" fill="#d7223e"/><rect x="706" y="89.2" width="1" height="5.8" fill="#d7223e"/><rect x="707" y="87.4" width="1" height="6.6" fill="#139a5b"/><rect x="708" y="87.1" width="1" height="5.3" fill="#d7223e"/><rect x="709" y="86.2" width="1" height="5.0" fill="#139a5b"/><rect x="710" y="80.3" width="1" height="8.3" fill="#139a5b"/><rect x="711" y="75.1" width="1" height="10.8" fill="#139a5b"/><rect x="712" y="74.6" width="1" height="4.8" fill="#d7223e"/><rect x="713" y="77.2" width="1" height="5.0" fill="#d7223e"/><rect x="714" y="77.9" width="1" height="2.2" fill="#139a5b"/><rect x="716" y="78.1" width="1" height="8.2" fill="#d7223e"/><rect x="717" y="81.6" width="1" height="5.9" fill="#d7223e"/><rect x="718" y="82.6" width="1" height="3.2" fill="#d7223e"/><rect x="719" y="82.1" width="1" height="3.7" fill="#139a5b"/><rect x="720" y="82.5" width="1" height="1.5" fill="#d7223e"/><rect x="721" y="71.7" width="1" height="11.8" fill="#139a5b"/><rect x="722" y="74.0" width="1" height="4.1" fill="#d7223e"/><rect x="723" y="75.6" width="1" height="5.2" fill="#d7223e"/><rect x="725" y="72.7" width="1" height="7.5" fill="#139a5b"/><rect x="726" y="67.0" width="1" height="8.9" fill="#139a5b"/><rect x="727" y="48.0" width="1" height="22.7" fill="#139a5b"/><rect x="728" y="60.8" width="1" height="4.6" fill="#139a5b"/><rect x="729" y="56.6" width="1" height="5.8" fill="#139a5b"/><rect x="730" y="55.8" width="1" height="9.1" fill="#d7223e"/><rect x="731" y="61.9" width="1" height="5.3" fill="#d7223e"/><rect x="732" y="61.5" width="1" height="6.0" fill="#d7223e"/><rect x="734" y="65.3" width="1" height="7.4" fill="#d7223e"/><rect x="735" y="66.8" width="1" height="5.8" fill="#139a5b"/><rect x="736" y="67.1" width="1" height="5.0" fill="#d7223e"/><rect x="737" y="69.4" width="1" height="5.9" fill="#d7223e"/><rect x="738" y="72.4" width="1" height="11.5" fill="#d7223e"/><rect x="739" y="77.0" width="1" height="7.5" fill="#d7223e"/><rect x="740" y="80.3" width="1" height="26.7" fill="#d7223e"/><rect x="741" y="89.7" width="1" height="4.6" fill="#139a5b"/><rect x="743" y="88.7" width="1" height="4.8" fill="#139a5b"/><rect x="744" y="88.2" width="1" height="10.0" fill="#d7223e"/><rect x="745" y="94.0" width="1" height="3.4" fill="#d7223e"/><rect x="746" y="93.4" width="1" height="5.1" fill="#d7223e"/><rect x="747" y="94.8" width="1" height="5.9" fill="#d7223e"/><rect x="748" y="94.3" width="1" height="7.5" fill="#139a5b"/><rect x="749" y="89.2" width="1" height="7.0" fill="#139a5b"/><rect x="750" y="85.0" width="1" height="8.5" fill="#139a5b"/><rect x="752" y="88.3" width="1" height="3.4" fill="#139a5b"/><rect x="753" y="87.3" width="1" height="5.4" fill="#d7223e"/><rect x="754" y="88.2" width="1" height="10.7" fill="#d7223e"/><rect x="755" y="93.6" width="1" height="6.0" fill="#139a5b"/><rect x="756" y="90.8" width="1" height="20.2" fill="#139a5b"/><rect x="757" y="91.0" width="1" height="4.9" fill="#d7223e"/><rect x="758" y="90.2" width="1" height="6.1" fill="#139a5b"/><rect x="759" y="87.2" width="1" height="3.3" fill="#139a5b"/><rect x="761" y="84.8" width="1" height="5.2" fill="#139a5b"/><rect x="762" y="87.5" width="1" height="1.5" fill="#139a5b"/><rect x="763" y="83.4" width="1" height="4.4" fill="#139a5b"/><rect x="764" y="79.4" width="1" height="7.3" fill="#139a5b"/><rect x="765" y="78.0" width="1" height="4.8" fill="#139a5b"/><rect x="766" y="79.4" width="1" height="5.9" fill="#d7223e"/><rect x="767" y="83.8" width="1" height="3.9" fill="#d7223e"/><rect x="768" y="81.2" width="1" height="8.0" fill="#139a5b"/><rect x="770" y="78.0" width="1" height="7.2" fill="#d7223e"/><rect x="771" y="84.9" width="1" height="7.9" fill="#d7223e"/><rect x="772" y="91.1" width="1" height="9.2" fill="#d7223e"/><rect x="773" y="97.1" width="1" height="5.2" fill="#d7223e"/><rect x="774" y="100.3" width="1" height="5.1" fill="#d7223e"/><rect x="775" y="96.6" width="1" height="7.9" fill="#139a5b"/><rect x="776" y="92.4" width="1" height="6.4" fill="#139a5b"/><rect x="777" y="91.7" width="1" height="3.5" fill="#d7223e"/><rect x="779" y="93.0" width="1" height="3.2" fill="#d7223e"/><rect x="780" y="94.5" width="1" height="18.5" fill="#d7223e"/><rect x="781" y="93.9" width="1" height="4.8" fill="#d7223e"/><rect x="782" y="94.2" width="1" height="9.4" fill="#d7223e"/><rect x="783" y="99.7" width="1" height="10.1" fill="#d7223e"/><rect x="784" y="102.3" width="1" height="10.4" fill="#139a5b"/><rect x="785" y="101.0" width="1" height="12.0" fill="#139a5b"/><rect x="786" y="98.4" width="1" height="4.0" fill="#139a5b"/><rect x="788" y="96.1" width="1" height="3.7" fill="#139a5b"/><rect x="789" y="92.3" width="1" height="5.7" fill="#139a5b"/><rect x="790" y="93.8" width="1" height="3.3" fill="#d7223e"/><rect x="791" y="91.6" width="1" height="14.4" fill="#d7223e"/><rect x="792" y="103.2" width="1" height="3.7" fill="#d7223e"/><rect x="793" y="103.6" width="1" height="4.0" fill="#d7223e"/><rect x="794" y="101.5" width="1" height="5.0" fill="#139a5b"/><rect x="795" y="101.5" width="1" height="6.9" fill="#d7223e"/><rect x="797" y="95.2" width="1" height="12.7" fill="#139a5b"/><rect x="798" y="96.5" width="1" height="14.2" fill="#d7223e"/><rect x="799" y="101.6" width="1" height="8.1" fill="#139a5b"/><rect x="800" y="97.3" width="1" height="15.7" fill="#139a5b"/><rect x="801" y="99.3" width="1" height="9.6" fill="#d7223e"/><rect x="802" y="98.8" width="1" height="6.4" fill="#139a5b"/><rect x="803" y="93.0" width="1" height="8.1" fill="#139a5b"/><rect x="804" y="82.0" width="1" height="14.6" fill="#139a5b"/><rect x="806" y="81.4" width="1" height="7.9" fill="#d7223e"/><rect x="807" y="78.1" width="1" height="12.4" fill="#139a5b"/><rect x="808" y="79.9" width="1" height="6.5" fill="#d7223e"/><rect x="809" y="69.0" width="1" height="15.4" fill="#139a5b"/><rect x="810" y="76.1" width="1" height="9.1" fill="#d7223e"/><rect x="811" y="84.4" width="1" height="9.2" fill="#d7223e"/><rect x="812" y="89.5" width="1" height="5.5" fill="#139a5b"/><rect x="813" y="90.4" width="1" height="4.6" fill="#d7223e"/><rect x="815" y="87.8" width="1" height="6.5" fill="#139a5b"/><rect x="816" y="89.9" width="1" height="5.1" fill="#d7223e"/><rect x="817" y="88.0" width="1" height="7.0" fill="#139a5b"/><rect x="818" y="86.6" width="1" height="5.9" fill="#d7223e"/><rect x="819" y="87.3" width="1" height="3.7" fill="#139a5b"/><rect x="820" y="82.4" width="1" height="12.6" fill="#139a5b"/><rect x="821" y="84.2" width="1" height="3.7" fill="#d7223e"/><rect x="822" y="86.6" width="1" height="3.0" fill="#d7223e"/><rect x="824" y="89.2" width="1" height="5.0" fill="#d7223e"/><rect x="825" y="90.1" width="1" height="4.9" fill="#139a5b"/><rect x="826" y="82.1" width="1" height="8.4" fill="#139a5b"/><rect x="827" y="79.1" width="1" height="8.8" fill="#d7223e"/><rect x="828" y="83.5" width="1" height="3.8" fill="#d7223e"/><rect x="829" y="81.8" width="1" height="7.3" fill="#139a5b"/><rect x="830" y="77.0" width="1" height="7.4" fill="#d7223e"/><rect x="831" y="82.6" width="1" height="5.8" fill="#d7223e"/><rect x="833" y="88.8" width="1" height="11.2" fill="#d7223e"/><rect x="834" y="98.3" width="1" height="3.5" fill="#d7223e"/><rect x="835" y="101.4" width="1" height="8.3" fill="#d7223e"/><rect x="836" y="108.6" width="1" height="13.4" fill="#139a5b"/><rect x="837" y="103.7" width="1" height="6.4" fill="#139a5b"/><rect x="838" y="103.1" width="1" height="5.4" fill="#d7223e"/><rect x="839" y="99.3" width="1" height="8.8" fill="#139a5b"/><rect x="840" y="97.0" width="1" height="8.0" fill="#d7223e"/><rect x="842" y="101.8" width="1" height="3.2" fill="#139a5b"/><rect x="843" y="101.6" width="1" height="3.2" fill="#139a5b"/><rect x="844" y="97.4" width="1" height="4.4" fill="#139a5b"/><rect x="845" y="97.0" width="1" height="1.5" fill="#d7223e"/><rect x="846" y="98.2" width="1" height="2.8" fill="#d7223e"/><rect x="847" y="97.4" width="1" height="3.6" fill="#139a5b"/><rect x="848" y="97.0" width="1" height="5.5" fill="#d7223e"/><rect x="849" y="99.9" width="1" height="2.0" fill="#139a5b"/><rect x="850" y="97.0" width="1" height="8.0" fill="#d7223e"/><rect x="852" y="100.1" width="1" height="4.0" fill="#139a5b"/><rect x="853" y="101.1" width="1" height="1.5" fill="#139a5b"/><rect x="854" y="99.4" width="1" height="1.9" fill="#139a5b"/><rect x="855" y="99.5" width="1" height="1.5" fill="#139a5b"/><rect x="856" y="98.8" width="1" height="5.3" fill="#d7223e"/><rect x="857" y="101.3" width="1" height="3.0" fill="#139a5b"/><rect x="858" y="101.6" width="1" height="2.9" fill="#d7223e"/><rect x="859" y="104.0" width="1" height="1.5" fill="#139a5b"/><rect x="861" y="101.6" width="1" height="2.7" fill="#139a5b"/><rect x="862" y="100.8" width="1" height="1.5" fill="#139a5b"/><rect x="863" y="100.4" width="1" height="1.7" fill="#139a5b"/><rect x="864" y="100.0" width="1" height="3.4" fill="#d7223e"/><rect x="865" y="102.0" width="1" height="2.9" fill="#d7223e"/><rect x="866" y="103.1" width="1" height="2.4" fill="#139a5b"/><rect x="867" y="103.3" width="1" height="1.5" fill="#139a5b"/><rect x="868" y="103.3" width="1" height="1.5" fill="#d7223e"/><rect x="870" y="102.4" width="1" height="1.5" fill="#139a5b"/><rect x="871" y="101.5" width="1" height="1.5" fill="#139a5b"/><rect x="872" y="100.2" width="1" height="5.4" fill="#d7223e"/><rect x="873" y="97.9" width="1" height="6.3" fill="#139a5b"/><rect x="874" y="98.6" width="1" height="3.1" fill="#d7223e"/><rect x="875" y="100.5" width="1" height="8.5" fill="#d7223e"/><rect x="876" y="101.3" width="1" height="3.6" fill="#d7223e"/><rect x="877" y="89.0" width="1" height="14.3" fill="#139a5b"/><rect x="879" y="97.1" width="1" height="6.9" fill="#139a5b"/><rect x="880" y="96.9" width="1" height="3.2" fill="#139a5b"/><rect x="881" y="97.0" width="1" height="3.8" fill="#d7223e"/><rect x="882" y="98.1" width="1" height="2.4" fill="#139a5b"/><rect x="883" y="94.8" width="1" height="6.2" fill="#139a5b"/><rect x="884" y="94.5" width="1" height="5.0" fill="#d7223e"/><rect x="885" y="96.5" width="1" height="13.5" fill="#d7223e"/><rect x="886" y="95.3" width="1" height="5.8" fill="#139a5b"/><rect x="888" y="96.6" width="1" height="5.2" fill="#d7223e"/><rect x="889" y="99.4" width="1" height="5.1" fill="#139a5b"/><rect x="890" y="97.9" width="1" height="4.4" fill="#d7223e"/><rect x="891" y="99.4" width="1" height="4.8" fill="#d7223e"/><rect x="892" y="97.5" width="1" height="2.4" fill="#139a5b"/><rect x="893" y="89.2" width="1" height="9.6" fill="#139a5b"/><rect x="894" y="91.8" width="1" height="1.8" fill="#139a5b"/><rect x="895" y="84.4" width="1" height="8.2" fill="#139a5b"/><rect x="897" y="82.3" width="1" height="5.1" fill="#139a5b"/><rect x="898" y="82.2" width="1" height="3.5" fill="#139a5b"/><rect x="899" y="81.5" width="1" height="5.8" fill="#d7223e"/><rect x="900" y="77.6" width="1" height="12.6" fill="#139a5b"/><rect x="901" y="77.4" width="1" height="4.4" fill="#139a5b"/><rect x="902" y="75.6" width="1" height="9.6" fill="#d7223e"/><rect x="903" y="79.5" width="1" height="3.0" fill="#139a5b"/><rect x="904" y="69.0" width="1" height="11.9" fill="#139a5b"/><rect x="906" y="55.0" width="1" height="30.0" fill="#d7223e"/><rect x="907" y="66.6" width="1" height="13.2" fill="#139a5b"/><rect x="908" y="65.6" width="1" height="4.9" fill="#d7223e"/><rect x="909" y="70.0" width="1" height="1.6" fill="#139a5b"/><rect x="910" y="70.1" width="1" height="2.1" fill="#d7223e"/><rect x="911" y="70.1" width="1" height="9.0" fill="#d7223e"/><rect x="912" y="75.3" width="1" height="3.4" fill="#139a5b"/><rect x="913" y="71.8" width="1" height="3.8" fill="#139a5b"/><rect x="915" y="71.4" width="1" height="13.6" fill="#139a5b"/><rect x="916" y="72.7" width="1" height="2.9" fill="#d7223e"/><rect x="917" y="73.8" width="1" height="4.0" fill="#d7223e"/><rect x="918" y="74.9" width="1" height="5.3" fill="#d7223e"/><rect x="919" y="78.3" width="1" height="2.0" fill="#d7223e"/><rect x="920" y="75.0" width="1" height="6.2" fill="#139a5b"/><rect x="921" y="74.6" width="1" height="2.8" fill="#139a5b"/><rect x="922" y="72.4" width="1" height="4.0" fill="#139a5b"/><rect x="924" y="74.2" width="1" height="1.5" fill="#d7223e"/><rect x="925" y="70.9" width="1" height="3.5" fill="#139a5b"/><rect x="926" y="71.1" width="1" height="7.0" fill="#d7223e"/><rect x="927" y="73.4" width="1" height="3.4" fill="#139a5b"/><rect x="928" y="70.2" width="1" height="6.9" fill="#139a5b"/><rect x="929" y="68.9" width="1" height="5.0" fill="#139a5b"/><rect x="930" y="70.6" width="1" height="2.8" fill="#d7223e"/><rect x="931" y="71.8" width="1" height="1.9" fill="#139a5b"/><rect x="933" y="65.4" width="1" height="7.7" fill="#139a5b"/><rect x="934" y="59.0" width="1" height="9.0" fill="#139a5b"/><rect x="935" y="45.5" width="1" height="15.7" fill="#139a5b"/><rect x="936" y="46.5" width="1" height="2.9" fill="#d7223e"/><rect x="937" y="40.0" width="1" height="8.5" fill="#d7223e"/><rect x="938" y="45.8" width="1" height="9.8" fill="#d7223e"/><rect x="939" y="53.0" width="1" height="3.6" fill="#d7223e"/><rect x="940" y="54.4" width="1" height="2.6" fill="#139a5b"/><rect x="942" y="47.1" width="1" height="8.0" fill="#139a5b"/><rect x="943" y="41.4" width="1" height="8.0" fill="#139a5b"/><rect x="944" y="43.2" width="1" height="1.5" fill="#d7223e"/><rect x="945" y="39.3" width="1" height="5.8" fill="#139a5b"/><rect x="946" y="39.8" width="1" height="3.6" fill="#139a5b"/><rect x="947" y="36.0" width="1" height="4.9" fill="#d7223e"/><rect x="948" y="40.0" width="1" height="1.5" fill="#d7223e"/><rect x="949" y="39.3" width="1" height="5.7" fill="#d7223e"/><rect x="951" y="44.3" width="1" height="2.2" fill="#139a5b"/><rect x="952" y="44.5" width="1" height="5.5" fill="#d7223e"/><rect x="953" y="44.8" width="1" height="4.1" fill="#139a5b"/><rect x="954" y="38.0" width="1" height="9.7" fill="#139a5b"/><rect x="955" y="38.8" width="1" height="2.6" fill="#139a5b"/><rect x="956" y="38.0" width="1" height="8.0" fill="#d7223e"/><rect x="957" y="38.0" width="1" height="8.2" fill="#139a5b"/><rect x="958" y="39.3" width="1" height="9.1" fill="#d7223e"/><rect x="960" y="46.6" width="1" height="1.5" fill="#139a5b"/><rect x="961" y="39.8" width="1" height="12.2" fill="#139a5b"/><rect x="962" y="35.1" width="1" height="6.3" fill="#139a5b"/><rect x="963" y="27.0" width="1" height="16.1" fill="#d7223e"/><rect x="964" y="40.6" width="1" height="3.4" fill="#d7223e"/><rect x="965" y="40.6" width="1" height="2.2" fill="#139a5b"/><rect x="966" y="39.7" width="1" height="2.5" fill="#d7223e"/><rect x="967" y="40.6" width="1" height="1.5" fill="#d7223e"/><rect x="969" y="39.7" width="1" height="2.4" fill="#139a5b"/><rect x="970" y="40.3" width="1" height="4.1" fill="#d7223e"/><rect x="971" y="44.2" width="1" height="1.9" fill="#d7223e"/><rect x="972" y="41.8" width="1" height="6.2" fill="#139a5b"/><rect x="973" y="41.1" width="1" height="2.5" fill="#139a5b"/><rect x="974" y="40.6" width="1" height="2.1" fill="#139a5b"/><rect x="975" y="39.2" width="1" height="2.8" fill="#139a5b"/><rect x="976" y="38.0" width="1" height="3.0" fill="#139a5b"/><rect x="978" y="39.0" width="1" height="2.2" fill="#d7223e"/><rect x="979" y="38.6" width="1" height="1.7" fill="#d7223e"/><rect x="980" y="38.0" width="1" height="7.0" fill="#d7223e"/><rect x="981" y="42.0" width="1" height="2.1" fill="#d7223e"/><rect x="982" y="43.8" width="1" height="1.5" fill="#139a5b"/></g>
<polyline points="3.0,160.6 4.1,160.7 5.2,160.8 6.4,160.9 7.5,161.0 8.6,161.1 9.7,161.2 10.9,161.3 12.0,161.4 13.1,161.5 14.2,161.6 15.4,161.8 16.5,161.9 17.6,162.1 18.7,162.4 19.9,162.7 21.0,163.0 22.1,163.5 23.2,164.0 24.4,164.6 25.5,165.2 26.6,165.9 27.7,166.6 28.9,167.3 30.0,168.0 31.1,168.6 32.2,169.3 33.3,170.0 34.5,170.6 35.6,171.3 36.7,172.0 37.8,172.7 39.0,173.4 40.1,174.1 41.2,174.8 42.3,175.6 43.5,176.4 44.6,177.2 45.7,178.0 46.8,178.9 48.0,179.9 49.1,180.9 50.2,181.9 51.3,182.9 52.5,183.9 53.6,185.0 54.7,186.0 55.8,187.0 57.0,187.9 58.1,188.8 59.2,189.7 60.3,190.5 61.4,191.3 62.6,192.0 63.7,192.7 64.8,193.3 65.9,194.0 67.1,194.6 68.2,195.2 69.3,195.8 70.4,196.3 71.6,196.9 72.7,197.5 73.8,198.1 74.9,198.7 76.1,199.3 77.2,199.9 78.3,200.5 79.4,201.1 80.6,201.7 81.7,202.3 82.8,202.9 83.9,203.5 85.1,204.1 86.2,204.6 87.3,205.2 88.4,205.8 89.5,206.3 90.7,206.8 91.8,207.3 92.9,207.8 94.0,208.3 95.2,208.8 96.3,209.2 97.4,209.7 98.5,210.1 99.7,210.6 100.8,211.0 101.9,211.4 103.0,211.8 104.2,212.3 105.3,212.7 106.4,213.0 107.5,213.3 108.7,213.5 109.8,213.5 110.9,213.6 112.0,213.6 113.2,213.6 114.3,213.6 115.4,213.5 116.5,213.5 117.6,213.4 118.8,213.4 119.9,213.4 121.0,213.4 122.1,213.4 123.3,213.4 124.4,213.4 125.5,213.5 126.6,214.1 127.8,215.0 128.9,215.0 130.0,215.1 131.1,215.1 132.3,215.2 133.4,215.2 134.5,215.2 135.6,215.2 136.8,215.3 137.9,215.3 139.0,215.3 140.1,215.3 141.3,215.3 142.4,215.2 143.5,215.2 144.6,215.2 145.7,215.2 146.9,215.2 148.0,215.1 149.1,215.1 150.2,215.1 151.4,215.1 152.5,215.0 153.6,215.0 154.7,214.9 155.9,214.7 157.0,214.5 158.1,214.3 159.2,214.2 160.4,214.1 161.5,214.0 162.6,214.0 163.7,213.9 164.9,213.9 166.0,213.8 167.1,213.8 168.2,213.7 169.4,213.7 170.5,213.7 171.6,213.7 172.7,213.6 173.8,213.6 175.0,213.6 176.1,213.6 177.2,213.5 178.3,213.5 179.5,213.5 180.6,213.5 181.7,213.5 182.8,213.5 184.0,213.5 185.1,213.5 186.2,213.5 187.3,213.5 188.5,213.5 189.6,213.5 190.7,213.5 191.8,213.5 193.0,213.5 194.1,213.5 195.2,213.5 196.3,213.5 197.5,213.5 198.6,213.5 199.7,213.5 200.8,213.5 201.9,213.5 203.1,213.5 204.2,213.5 205.3,213.5 206.4,213.5 207.6,213.5 208.7,213.5 209.8,213.5 210.9,213.5 212.1,213.4 213.2,213.4 214.3,213.4 215.4,213.5 216.6,213.5 217.7,213.5 218.8,213.5 219.9,213.5 221.1,213.5 222.2,213.6 223.3,213.6 224.4,213.6 225.6,213.7 226.7,213.8 227.8,213.8 228.9,213.9 230.0,213.9 231.2,214.0 232.3,214.0 233.4,214.1 234.5,214.1 235.7,214.2 236.8,214.2 237.9,214.2 239.0,214.2 240.2,214.2 241.3,214.2 242.4,214.2 243.5,214.2 244.7,214.2 245.8,214.1 246.9,214.1 248.0,214.1 249.2,214.1 250.3,214.0 251.4,213.9 252.5,213.8 253.7,213.7 254.8,213.6 255.9,213.4 257.0,213.2 258.1,213.0 259.3,212.7 260.4,212.3 261.5,211.8 262.6,211.2 263.8,210.7 264.9,210.1 266.0,209.5 267.1,208.9 268.3,208.4 269.4,207.9 270.5,207.5 271.6,207.1 272.8,206.8 273.9,206.4 275.0,206.1 276.1,205.7 277.3,205.4 278.4,205.1 279.5,204.8 280.6,204.5 281.8,204.2 282.9,203.9 284.0,203.6 285.1,203.4 286.2,203.1 287.4,202.8 288.5,202.6 289.6,202.3 290.7,202.1 291.9,201.8 293.0,201.6 294.1,201.3 295.2,201.1 296.4,200.9 297.5,200.7 298.6,200.5 299.7,200.3 300.9,200.2 302.0,200.0 303.1,199.9 304.2,199.7 305.4,199.6 306.5,199.5 307.6,199.4 308.7,199.2 309.9,199.1 311.0,199.0 312.1,198.9 313.2,198.8 314.3,198.7 315.5,198.6 316.6,198.4 317.7,198.3 318.8,198.2 320.0,198.0 321.1,197.8 322.2,197.5 323.3,197.1 324.5,196.8 325.6,196.6 326.7,196.5 327.8,196.5 329.0,196.6 330.1,196.7 331.2,196.9 332.3,197.0 333.5,197.2 334.6,197.4 335.7,197.6 336.8,197.8 338.0,198.0 339.1,198.2 340.2,198.4 341.3,198.5 342.4,198.7 343.6,198.8 344.7,199.0 345.8,199.1 346.9,199.2 348.1,199.2 349.2,199.3 350.3,199.4 351.4,199.4 352.6,199.4 353.7,199.5 354.8,199.5 355.9,199.6 357.1,199.6 358.2,199.6 359.3,199.7 360.4,199.7 361.6,199.7 362.7,199.8 363.8,199.9 364.9,199.9 366.1,200.0 367.2,200.1 368.3,200.2 369.4,200.3 370.5,200.5 371.7,200.6 372.8,200.8 373.9,200.9 375.0,201.1 376.2,201.3 377.3,201.5 378.4,201.7 379.5,201.9 380.7,202.1 381.8,202.3 382.9,202.6 384.0,202.8 385.2,203.0 386.3,203.2 387.4,203.5 388.5,203.7 389.7,203.9 390.8,204.1 391.9,204.3 393.0,204.6 394.2,204.8 395.3,205.0 396.4,205.1 397.5,205.3 398.6,205.5 399.8,205.7 400.9,205.8 402.0,206.0 403.1,206.1 404.3,206.3 405.4,206.4 406.5,206.6 407.6,206.7 408.8,206.8 409.9,206.8 411.0,206.9 412.1,206.9 413.3,206.8 414.4,206.8 415.5,206.6 416.6,206.5 417.8,206.3 418.9,206.2 420.0,206.0 421.1,205.8 422.3,205.5 423.4,205.3 424.5,205.1 425.6,204.8 426.7,204.6 427.9,204.3 429.0,204.0 430.1,203.8 431.2,203.5 432.4,203.2 433.5,202.9 434.6,202.6 435.7,202.4 436.9,202.1 438.0,201.8 439.1,201.6 440.2,201.3 441.4,201.1 442.5,200.9 443.6,200.6 444.7,200.4 445.9,200.1 447.0,199.9 448.1,199.6 449.2,199.3 450.4,199.0 451.5,198.7 452.6,198.4 453.7,198.1 454.8,197.7 456.0,197.4 457.1,197.0 458.2,196.7 459.3,196.3 460.5,195.8 461.6,195.3 462.7,194.8 463.8,194.2 465.0,193.6 466.1,192.9 467.2,192.3 468.3,191.8 469.5,191.2 470.6,190.8 471.7,190.3 472.8,189.9 474.0,189.5 475.1,189.1 476.2,188.7 477.3,188.3 478.5,187.9 479.6,187.5 480.7,187.1 481.8,186.7 482.9,186.3 484.1,185.9 485.2,185.4 486.3,184.9 487.4,184.4 488.6,183.9 489.7,183.3 490.8,182.8 491.9,182.2 493.1,181.7 494.2,181.1 495.3,180.5 496.4,180.0 497.6,179.5 498.7,179.0 499.8,178.5 500.9,178.0 502.1,177.5 503.2,177.1 504.3,176.6 505.4,176.2 506.6,175.7 507.7,175.3 508.8,174.9 509.9,174.4 511.0,174.0 512.2,173.6 513.3,173.1 514.4,172.7 515.5,172.3 516.7,171.8 517.8,171.4 518.9,171.0 520.0,170.6 521.2,170.1 522.3,169.7 523.4,169.3 524.5,168.8 525.7,168.4 526.8,168.0 527.9,167.5 529.0,167.1 530.2,166.6 531.3,166.2 532.4,165.8 533.5,165.3 534.7,164.9 535.8,164.5 536.9,164.0 538.0,163.6 539.1,163.1 540.3,162.7 541.4,162.2 542.5,161.6 543.6,161.1 544.8,160.5 545.9,159.9 547.0,159.3 548.1,158.7 549.3,158.0 550.4,157.3 551.5,156.6 552.6,155.9 553.8,155.2 554.9,154.5 556.0,153.7 557.1,152.9 558.3,152.1 559.4,151.3 560.5,150.4 561.6,149.5 562.8,148.6 563.9,147.7 565.0,146.7 566.1,145.8 567.2,144.8 568.4,143.8 569.5,142.8 570.6,141.8 571.7,140.8 572.9,139.8 574.0,138.8 575.1,137.9 576.2,136.9 577.4,136.0 578.5,135.1 579.6,134.2 580.7,133.3 581.9,132.5 583.0,131.7 584.1,130.9 585.2,130.1 586.4,129.3 587.5,128.5 588.6,127.8 589.7,127.0 590.9,126.3 592.0,125.6 593.1,124.8 594.2,124.1 595.3,123.4 596.5,122.7 597.6,122.0 598.7,121.3 599.8,120.6 601.0,119.9 602.1,119.2 603.2,118.5 604.3,117.8 605.5,117.1 606.6,116.4 607.7,115.7 608.8,115.0 610.0,114.3 611.1,113.7 612.2,113.0 613.3,112.4 614.5,111.8 615.6,111.2 616.7,110.6 617.8,110.0 619.0,109.5 620.1,109.0 621.2,108.5 622.3,108.0 623.4,107.5 624.6,107.1 625.7,106.6 626.8,106.2 627.9,105.8 629.1,105.4 630.2,105.0 631.3,104.6 632.4,104.2 633.6,103.9 634.7,103.5 635.8,103.2 636.9,102.8 638.1,102.5 639.2,102.1 640.3,101.8 641.4,101.5 642.6,101.2 643.7,100.9 644.8,100.6 645.9,100.3 647.1,100.0 648.2,99.7 649.3,99.4 650.4,99.2 651.5,99.0 652.7,98.7 653.8,98.5 654.9,98.3 656.0,98.1 657.2,97.9 658.3,97.7 659.4,97.5 660.5,97.3 661.7,97.1 662.8,96.8 663.9,96.6 665.0,96.4 666.2,96.1 667.3,95.9 668.4,95.6 669.5,95.3 670.7,95.0 671.8,94.7 672.9,94.4 674.0,94.0 675.2,93.7 676.3,93.3 677.4,92.9 678.5,92.6 679.6,92.2 680.8,91.8 681.9,91.4 683.0,91.0 684.1,90.6 685.3,90.2 686.4,89.8 687.5,89.4 688.6,89.1 689.8,88.7 690.9,88.3 692.0,87.9 693.1,87.6 694.3,87.2 695.4,86.9 696.5,86.6 697.6,86.3 698.8,86.0 699.9,85.7 701.0,85.5 702.1,85.3 703.3,85.1 704.4,84.9 705.5,84.8 706.6,84.6 707.7,84.5 708.9,84.4 710.0,84.3 711.1,84.3 712.2,84.2 713.4,84.1 714.5,84.0 715.6,84.0 716.7,83.9 717.9,83.8 719.0,83.7 720.1,83.6 721.2,83.5 722.4,83.4 723.5,83.2 724.6,83.1 725.7,83.0 726.9,82.9 728.0,82.8 729.1,82.7 730.2,82.6 731.4,82.5 732.5,82.4 733.6,82.2 734.7,82.1 735.8,82.0 737.0,81.8 738.1,81.7 739.2,81.5 740.3,81.3 741.5,81.1 742.6,80.9 743.7,80.7 744.8,80.4 746.0,80.1 747.1,79.9 748.2,79.6 749.3,79.3 750.5,79.1 751.6,78.8 752.7,78.6 753.8,78.4 755.0,78.3 756.1,78.2 757.2,78.1 758.3,78.0 759.5,77.9 760.6,77.8 761.7,77.8 762.8,77.7 763.9,77.6 765.1,77.6 766.2,77.6 767.3,77.5 768.4,77.5 769.6,77.5 770.7,77.5 771.8,77.5 772.9,77.6 774.1,77.6 775.2,77.6 776.3,77.6 777.4,77.7 778.6,77.8 779.7,77.9 780.8,78.0 781.9,78.1 783.1,78.2 784.2,78.3 785.3,78.5 786.4,78.7 787.6,78.8 788.7,79.0 789.8,79.3 790.9,79.5 792.0,79.8 793.2,80.1 794.3,80.4 795.4,80.8 796.5,81.1 797.7,81.5 798.8,81.8 799.9,82.2 801.0,82.6 802.2,82.9 803.3,83.2 804.4,83.5 805.5,83.7 806.7,83.9 807.8,84.1 808.9,84.3 810.0,84.4 811.2,84.6 812.3,84.7 813.4,84.9 814.5,85.0 815.7,85.1 816.8,85.2 817.9,85.4 819.0,85.6 820.1,85.7 821.3,85.9 822.4,86.1 823.5,86.3 824.6,86.5 825.8,86.7 826.9,87.0 828.0,87.2 829.1,87.4 830.3,87.7 831.4,87.9 832.5,88.1 833.6,88.3 834.8,88.6 835.9,88.8 837.0,89.0 838.1,89.1 839.3,89.3 840.4,89.5 841.5,89.6 842.6,89.8 843.8,89.9 844.9,90.0 846.0,90.1 847.1,90.1 848.2,90.2 849.4,90.2 850.5,90.2 851.6,90.2 852.7,90.2 853.9,90.1 855.0,90.1 856.1,90.1 857.2,90.0 858.4,89.9 859.5,89.9 860.6,89.8 861.7,89.8 862.9,89.7 864.0,89.7 865.1,89.6 866.2,89.6 867.4,89.5 868.5,89.5 869.6,89.5 870.7,89.5 871.9,89.5 873.0,89.5 874.1,89.5 875.2,89.6 876.3,89.6 877.5,89.6 878.6,89.7 879.7,89.7 880.8,89.7 882.0,89.8 883.1,89.9 884.2,89.9 885.3,90.0 886.5,90.1 887.6,90.3 888.7,90.4 889.8,90.5 891.0,90.7 892.1,90.9 893.2,91.0 894.3,91.2 895.5,91.3 896.6,91.5 897.7,91.6 898.8,91.6 900.0,91.7 901.1,91.7 902.2,91.8 903.3,91.8 904.4,91.8 905.6,91.8 906.7,91.9 907.8,91.9 908.9,91.9 910.1,91.9 911.2,91.9 912.3,91.9 913.4,91.9 914.6,91.9 915.7,91.9 916.8,91.9 917.9,91.8 919.1,91.8 920.2,91.8 921.3,91.8 922.4,91.7 923.6,91.7 924.7,91.6 925.8,91.6 926.9,91.5 928.1,91.4 929.2,91.4 930.3,91.3 931.4,91.2 932.5,91.1 933.7,90.9 934.8,90.8 935.9,90.6 937.0,90.4 938.2,90.2 939.3,90.0 940.4,89.8 941.5,89.6 942.7,89.3 943.8,89.1 944.9,88.9 946.0,88.7 947.2,88.5 948.3,88.3 949.4,88.1 950.5,87.9 951.7,87.7 952.8,87.6 953.9,87.4 955.0,87.3 956.2,87.1 957.3,87.0 958.4,86.8 959.5,86.6 960.6,86.5 961.8,86.3 962.9,86.2 964.0,86.0 965.1,85.8 966.3,85.7 967.4,85.5 968.5,85.3 969.6,85.1 970.8,84.8 971.9,84.6 973.0,84.3 974.1,84.1 975.3,83.8 976.4,83.5 977.5,83.2 978.6,82.9 979.8,82.6 980.9,82.3 982.0,82.0 983.1,81.7" fill="none" stroke="#e0404a" stroke-width="1.8" stroke-opacity="0.72" stroke-linejoin="round" stroke-linecap="round"/>
<polyline points="3.0,187.0 4.1,186.5 5.2,185.9 6.4,185.4 7.5,184.9 8.6,184.5 9.7,184.3 10.9,184.3 12.0,184.5 13.1,184.8 14.2,185.1 15.4,185.6 16.5,186.1 17.6,186.8 18.7,187.5 19.9,188.2 21.0,189.0 22.1,189.8 23.2,190.7 24.4,191.6 25.5,192.6 26.6,193.5 27.7,194.5 28.9,195.6 30.0,196.6 31.1,197.6 32.2,198.7 33.3,199.9 34.5,201.0 35.6,202.2 36.7,203.5 37.8,204.7 39.0,206.0 40.1,207.3 41.2,208.6 42.3,209.9 43.5,211.2 44.6,212.5 45.7,213.9 46.8,215.3 48.0,216.9 49.1,218.5 50.2,220.4 51.3,222.7 52.5,225.6 53.6,228.6 54.7,231.4 55.8,233.7 57.0,235.8 58.1,237.7 59.2,239.6 60.3,241.5 61.4,243.3 62.6,245.0 63.7,246.8 64.8,248.7 65.9,250.8 67.1,253.0 68.2,255.4 69.3,257.7 70.4,260.1 71.6,262.4 72.7,264.5 73.8,266.3 74.9,267.9 76.1,269.2 77.2,270.3 78.3,271.1 79.4,271.8 80.6,272.4 81.7,272.9 82.8,273.3 83.9,273.6 85.1,274.0 86.2,274.4 87.3,274.8 88.4,275.3 89.5,275.7 90.7,276.1 91.8,276.4 92.9,276.7 94.0,276.9 95.2,277.1 96.3,277.1 97.4,277.1 98.5,276.9 99.7,276.5 100.8,276.0 101.9,275.1 103.0,274.0 104.2,272.6 105.3,271.0 106.4,269.3 107.5,267.6 108.7,265.8 109.8,264.0 110.9,262.3 112.0,260.3 113.2,258.3 114.3,256.1 115.4,253.9 116.5,251.6 117.6,249.2 118.8,246.1 119.9,243.2 121.0,241.0 122.1,238.9 123.3,236.9 124.4,235.0 125.5,233.0 126.6,231.0 127.8,228.9 128.9,226.7 130.0,224.6 131.1,222.4 132.3,220.2 133.4,218.1 134.5,216.1 135.6,214.2 136.8,212.5 137.9,210.8 139.0,209.3 140.1,207.8 141.3,206.3 142.4,204.9 143.5,203.5 144.6,202.0 145.7,200.5 146.9,198.9 148.0,197.4 149.1,195.9 150.2,194.4 151.4,192.9 152.5,191.4 153.6,189.8 154.7,188.2 155.9,186.5 157.0,184.8 158.1,183.1 159.2,181.6 160.4,180.3 161.5,179.2 162.6,178.4 163.7,177.6 164.9,177.1 166.0,176.6 167.1,176.1 168.2,175.6 169.4,175.2 170.5,174.8 171.6,174.5 172.7,174.2 173.8,174.0 175.0,173.8 176.1,173.7 177.2,173.6 178.3,173.6 179.5,173.5 180.6,173.5 181.7,173.5 182.8,173.5 184.0,173.5 185.1,173.5 186.2,173.5 187.3,173.6 188.5,173.6 189.6,173.7 190.7,173.7 191.8,173.8 193.0,173.8 194.1,173.9 195.2,173.9 196.3,173.9 197.5,173.9 198.6,173.9 199.7,173.9 200.8,173.9 201.9,173.9 203.1,174.0 204.2,174.0 205.3,174.1 206.4,174.2 207.6,174.4 208.7,174.6 209.8,174.9 210.9,175.3 212.1,175.7 213.2,176.1 214.3,176.6 215.4,177.1 216.6,177.6 217.7,178.1 218.8,178.7 219.9,179.2 221.1,179.8 222.2,180.4 223.3,181.0 224.4,181.6 225.6,182.2 226.7,182.8 227.8,183.4 228.9,184.0 230.0,184.5 231.2,185.1 232.3,185.6 233.4,186.1 234.5,186.7 235.7,187.3 236.8,187.9 237.9,188.5 239.0,189.2 240.2,189.9 241.3,190.7 242.4,191.5 243.5,192.4 244.7,193.3 245.8,194.2 246.9,195.1 248.0,196.0 249.2,197.0 250.3,197.9 251.4,198.8 252.5,199.6 253.7,200.5 254.8,201.2 255.9,202.0 257.0,202.8 258.1,203.6 259.3,204.3 260.4,205.0 261.5,205.6 262.6,206.1 263.8,206.5 264.9,206.7 266.0,206.7 267.1,206.7 268.3,206.6 269.4,206.4 270.5,206.2 271.6,206.0 272.8,205.7 273.9,205.4 275.0,205.1 276.1,204.8 277.3,204.5 278.4,204.2 279.5,204.0 280.6,203.8 281.8,203.6 282.9,203.6 284.0,203.5 285.1,203.6 286.2,203.8 287.4,204.1 288.5,204.5 289.6,205.0 290.7,205.6 291.9,206.1 293.0,206.8 294.1,207.4 295.2,208.0 296.4,208.6 297.5,209.1 298.6,209.6 299.7,209.9 300.9,210.2 302.0,210.5 303.1,210.7 304.2,210.9 305.4,211.1 306.5,211.3 307.6,211.5 308.7,211.6 309.9,211.7 311.0,211.9 312.1,212.0 313.2,212.1 314.3,212.3 315.5,212.4 316.6,212.5 317.7,212.7 318.8,212.8 320.0,213.0 321.1,213.1 322.2,213.3 323.3,213.5 324.5,213.7 325.6,214.0 326.7,214.3 327.8,214.6 329.0,214.9 330.1,215.2 331.2,215.7 332.3,216.2 333.5,216.8 334.6,217.5 335.7,218.2 336.8,219.0 338.0,219.8 339.1,220.6 340.2,221.4 341.3,222.3 342.4,223.1 343.6,223.8 344.7,224.5 345.8,225.2 346.9,226.1 348.1,226.7 349.2,227.0 350.3,226.8 351.4,226.2 352.6,225.6 353.7,224.8 354.8,224.1 355.9,223.2 357.1,222.4 358.2,221.5 359.3,220.6 360.4,219.7 361.6,218.8 362.7,217.9 363.8,217.1 364.9,216.3 366.1,215.6 367.2,214.9 368.3,214.1 369.4,213.4 370.5,212.6 371.7,211.9 372.8,211.2 373.9,210.5 375.0,209.9 376.2,209.3 377.3,208.8 378.4,208.3 379.5,207.9 380.7,207.6 381.8,207.4 382.9,207.2 384.0,207.1 385.2,207.0 386.3,206.9 387.4,206.9 388.5,206.9 389.7,206.9 390.8,207.0 391.9,207.0 393.0,207.0 394.2,207.0 395.3,207.0 396.4,207.0 397.5,207.0 398.6,206.9 399.8,206.7 400.9,206.6 402.0,206.4 403.1,206.3 404.3,206.2 405.4,206.0 406.5,205.8 407.6,205.6 408.8,205.4 409.9,205.0 411.0,204.6 412.1,204.2 413.3,203.6 414.4,202.9 415.5,202.1 416.6,201.0 417.8,199.6 418.9,198.0 420.0,196.3 421.1,194.5 422.3,192.8 423.4,191.1 424.5,189.6 425.6,188.3 426.7,187.1 427.9,185.9 429.0,184.8 430.1,183.8 431.2,182.7 432.4,181.7 433.5,180.6 434.6,179.5 435.7,178.4 436.9,177.2 438.0,175.9 439.1,174.6 440.2,173.2 441.4,171.8 442.5,170.5 443.6,169.1 444.7,167.7 445.9,166.2 447.0,164.8 448.1,163.4 449.2,162.0 450.4,160.6 451.5,159.2 452.6,157.8 453.7,156.5 454.8,155.2 456.0,153.9 457.1,152.7 458.2,151.5 459.3,150.3 460.5,149.1 461.6,148.0 462.7,146.9 463.8,145.7 465.0,144.5 466.1,143.3 467.2,142.0 468.3,140.6 469.5,139.3 470.6,137.9 471.7,136.7 472.8,135.6 474.0,134.6 475.1,133.9 476.2,133.2 477.3,132.7 478.5,132.3 479.6,132.0 480.7,131.7 481.8,131.4 482.9,131.2 484.1,131.0 485.2,130.8 486.3,130.6 487.4,130.4 488.6,130.1 489.7,129.8 490.8,129.4 491.9,129.1 493.1,128.8 494.2,128.4 495.3,128.1 496.4,127.7 497.6,127.4 498.7,127.0 499.8,126.6 500.9,126.2 502.1,125.8 503.2,125.3 504.3,124.7 505.4,124.2 506.6,123.4 507.7,122.6 508.8,121.6 509.9,120.6 511.0,119.6 512.2,118.7 513.3,117.9 514.4,117.2 515.5,116.8 516.7,116.6 517.8,116.4 518.9,116.4 520.0,116.5 521.2,116.6 522.3,116.8 523.4,116.9 524.5,117.0 525.7,117.0 526.8,117.1 527.9,117.2 529.0,117.3 530.2,117.4 531.3,117.6 532.4,117.7 533.5,117.8 534.7,117.9 535.8,117.9 536.9,117.9 538.0,117.9 539.1,117.7 540.3,117.5 541.4,117.2 542.5,116.8 543.6,116.3 544.8,115.7 545.9,115.0 547.0,114.2 548.1,113.4 549.3,112.6 550.4,111.7 551.5,110.7 552.6,109.6 553.8,108.5 554.9,107.3 556.0,106.1 557.1,104.8 558.3,103.5 559.4,102.3 560.5,101.0 561.6,99.7 562.8,98.4 563.9,97.1 565.0,95.7 566.1,94.3 567.2,93.0 568.4,91.7 569.5,90.5 570.6,89.4 571.7,88.4 572.9,87.4 574.0,86.5 575.1,85.7 576.2,84.8 577.4,83.9 578.5,82.9 579.6,81.8 580.7,80.6 581.9,79.3 583.0,77.8 584.1,76.4 585.2,74.9 586.4,73.4 587.5,71.9 588.6,70.4 589.7,69.0 590.9,67.7 592.0,66.4 593.1,65.1 594.2,63.8 595.3,62.6 596.5,61.4 597.6,60.2 598.7,59.1 599.8,58.1 601.0,57.3 602.1,56.6 603.2,56.2 604.3,56.0 605.5,56.0 606.6,56.1 607.7,56.3 608.8,56.6 610.0,57.0 611.1,57.5 612.2,58.1 613.3,58.8 614.5,59.6 615.6,60.4 616.7,61.2 617.8,62.1 619.0,63.0 620.1,63.9 621.2,64.8 622.3,65.6 623.4,66.5 624.6,67.4 625.7,68.2 626.8,69.0 627.9,69.8 629.1,70.6 630.2,71.4 631.3,72.2 632.4,73.0 633.6,73.9 634.7,74.8 635.8,75.7 636.9,76.6 638.1,77.7 639.2,78.7 640.3,79.8 641.4,80.8 642.6,81.8 643.7,82.7 644.8,83.5 645.9,84.2 647.1,84.8 648.2,85.3 649.3,85.8 650.4,86.3 651.5,86.7 652.7,87.1 653.8,87.4 654.9,87.8 656.0,88.1 657.2,88.4 658.3,88.7 659.4,89.0 660.5,89.2 661.7,89.5 662.8,89.7 663.9,89.9 665.0,90.1 666.2,90.3 667.3,90.5 668.4,90.7 669.5,90.9 670.7,91.1 671.8,91.4 672.9,91.6 674.0,91.9 675.2,92.1 676.3,92.2 677.4,92.3 678.5,92.3 679.6,92.1 680.8,91.7 681.9,91.2 683.0,90.6 684.1,89.8 685.3,89.0 686.4,88.1 687.5,87.3 688.6,86.5 689.8,85.8 690.9,85.2 692.0,84.7 693.1,84.1 694.3,83.5 695.4,82.9 696.5,82.4 697.6,81.8 698.8,81.3 699.9,80.8 701.0,80.4 702.1,80.0 703.3,79.7 704.4,79.4 705.5,79.2 706.6,79.1 707.7,79.1 708.9,79.2 710.0,79.3 711.1,79.4 712.2,79.6 713.4,79.8 714.5,80.0 715.6,80.2 716.7,80.3 717.9,80.4 719.0,80.4 720.1,80.4 721.2,80.3 722.4,80.1 723.5,79.8 724.6,79.5 725.7,79.2 726.9,78.8 728.0,78.5 729.1,78.1 730.2,77.8 731.4,77.6 732.5,77.4 733.6,77.2 734.7,77.2 735.8,77.3 737.0,77.4 738.1,77.6 739.2,77.9 740.3,78.2 741.5,78.6 742.6,79.0 743.7,79.4 744.8,79.8 746.0,80.2 747.1,80.6 748.2,80.9 749.3,81.2 750.5,81.5 751.6,81.7 752.7,81.9 753.8,82.1 755.0,82.2 756.1,82.3 757.2,82.5 758.3,82.6 759.5,82.7 760.6,82.9 761.7,83.0 762.8,83.2 763.9,83.4 765.1,83.6 766.2,83.9 767.3,84.1 768.4,84.3 769.6,84.6 770.7,84.9 771.8,85.1 772.9,85.4 774.1,85.7 775.2,86.1 776.3,86.4 777.4,86.8 778.6,87.2 779.7,87.7 780.8,88.2 781.9,88.8 783.1,89.5 784.2,90.2 785.3,91.0 786.4,91.8 787.6,92.5 788.7,93.2 789.8,93.9 790.9,94.5 792.0,95.2 793.2,95.8 794.3,96.5 795.4,97.1 796.5,97.6 797.7,98.0 798.8,98.3 799.9,98.4 801.0,98.3 802.2,98.2 803.3,97.9 804.4,97.6 805.5,97.1 806.7,96.7 807.8,96.2 808.9,95.8 810.0,95.3 811.2,94.9 812.3,94.5 813.4,94.2 814.5,94.0 815.7,94.0 816.8,93.9 817.9,93.8 819.0,93.8 820.1,93.8 821.3,93.8 822.4,93.9 823.5,93.9 824.6,94.0 825.8,94.1 826.9,94.1 828.0,94.2 829.1,94.3 830.3,94.4 831.4,94.5 832.5,94.6 833.6,94.7 834.8,94.8 835.9,94.9 837.0,95.0 838.1,95.1 839.3,95.2 840.4,95.2 841.5,95.3 842.6,95.3 843.8,95.3 844.9,95.4 846.0,95.4 847.1,95.4 848.2,95.4 849.4,95.5 850.5,95.5 851.6,95.6 852.7,95.6 853.9,95.7 855.0,95.7 856.1,95.8 857.2,95.9 858.4,96.1 859.5,96.2 860.6,96.4 861.7,96.6 862.9,96.9 864.0,97.2 865.1,97.5 866.2,97.9 867.4,98.2 868.5,98.6 869.6,99.0 870.7,99.3 871.9,99.7 873.0,100.0 874.1,100.3 875.2,100.5 876.3,100.7 877.5,100.8 878.6,100.8 879.7,100.8 880.8,100.8 882.0,100.7 883.1,100.7 884.2,100.7 885.3,100.7 886.5,100.6 887.6,100.6 888.7,100.5 889.8,100.4 891.0,100.3 892.1,100.2 893.2,100.0 894.3,99.8 895.5,99.6 896.6,99.3 897.7,99.0 898.8,98.7 900.0,98.4 901.1,98.0 902.2,97.6 903.3,97.2 904.4,96.8 905.6,96.3 906.7,95.9 907.8,95.4 908.9,94.9 910.1,94.4 911.2,93.8 912.3,93.3 913.4,92.8 914.6,92.2 915.7,91.6 916.8,91.0 917.9,90.4 919.1,89.8 920.2,89.1 921.3,88.4 922.4,87.7 923.6,87.0 924.7,86.2 925.8,85.4 926.9,84.6 928.1,83.7 929.2,82.7 930.3,81.8 931.4,80.8 932.5,79.8 933.7,78.8 934.8,77.8 935.9,76.8 937.0,75.8 938.2,74.8 939.3,73.9 940.4,73.0 941.5,72.0 942.7,71.1 943.8,70.2 944.9,69.3 946.0,68.4 947.2,67.5 948.3,66.6 949.4,65.7 950.5,64.8 951.7,64.0 952.8,63.2 953.9,62.4 955.0,61.6 956.2,60.8 957.3,60.1 958.4,59.4 959.5,58.8 960.6,58.1 961.8,57.5 962.9,56.9 964.0,56.3 965.1,55.7 966.3,55.1 967.4,54.5 968.5,53.9 969.6,53.3 970.8,52.7 971.9,52.1 973.0,51.5 974.1,50.9 975.3,50.3 976.4,49.8 977.5,49.2 978.6,48.6 979.8,48.1 980.9,47.5 982.0,46.9 983.1,46.4" fill="none" stroke="#f7931e" stroke-width="1.5" stroke-opacity="1.0" stroke-linejoin="round" stroke-linecap="round"/>
<polyline points="3.0,176.5 4.1,176.4 5.2,176.3 6.4,176.1 7.5,175.9 8.6,175.8 9.7,175.6 10.9,175.5 12.0,175.5 13.1,175.5 14.2,175.6 15.4,175.9 16.5,176.3 17.6,176.8 18.7,177.4 19.9,178.0 21.0,178.8 22.1,179.6 23.2,180.4 24.4,181.3 25.5,182.2 26.6,183.1 27.7,184.1 28.9,185.2 30.0,186.3 31.1,187.4 32.2,188.6 33.3,189.7 34.5,190.8 35.6,191.9 36.7,192.9 37.8,193.8 39.0,194.8 40.1,195.8 41.2,196.8 42.3,197.9 43.5,199.0 44.6,200.3 45.7,201.7 46.8,203.3 48.0,205.0 49.1,206.8 50.2,208.6 51.3,210.4 52.5,212.2 53.6,213.8 54.7,215.3 55.8,216.7 57.0,217.9 58.1,219.1 59.2,220.1 60.3,221.1 61.4,222.1 62.6,223.1 63.7,224.1 64.8,225.0 65.9,226.1 67.1,227.1 68.2,228.2 69.3,229.3 70.4,230.3 71.6,231.3 72.7,232.2 73.8,233.0 74.9,233.7 76.1,234.3 77.2,234.8 78.3,235.3 79.4,235.7 80.6,236.1 81.7,236.5 82.8,236.9 83.9,237.2 85.1,237.5 86.2,237.9 87.3,238.2 88.4,238.5 89.5,238.9 90.7,239.2 91.8,239.6 92.9,240.0 94.0,240.4 95.2,240.8 96.3,241.1 97.4,241.4 98.5,241.5 99.7,241.5 100.8,241.4 101.9,241.2 103.0,241.0 104.2,240.6 105.3,240.2 106.4,239.7 107.5,239.2 108.7,238.5 109.8,237.8 110.9,236.9 112.0,236.0 113.2,235.0 114.3,234.0 115.4,232.9 116.5,231.8 117.6,230.7 118.8,229.7 119.9,228.6 121.0,227.6 122.1,226.7 123.3,225.7 124.4,224.7 125.5,223.6 126.6,222.7 127.8,221.7 128.9,220.7 130.0,219.7 131.1,218.7 132.3,217.8 133.4,216.9 134.5,216.0 135.6,215.1 136.8,214.3 137.9,213.5 139.0,212.7 140.1,211.9 141.3,211.2 142.4,210.4 143.5,209.7 144.6,208.9 145.7,208.2 146.9,207.4 148.0,206.6 149.1,205.9 150.2,205.1 151.4,204.3 152.5,203.5 153.6,202.7 154.7,201.9 155.9,201.1 157.0,200.3 158.1,199.6 159.2,198.9 160.4,198.2 161.5,197.4 162.6,196.7 163.7,196.0 164.9,195.3 166.0,194.6 167.1,193.9 168.2,193.2 169.4,192.5 170.5,191.9 171.6,191.3 172.7,190.8 173.8,190.3 175.0,189.8 176.1,189.4 177.2,189.1 178.3,188.8 179.5,188.5 180.6,188.3 181.7,188.1 182.8,188.0 184.0,187.8 185.1,187.7 186.2,187.6 187.3,187.4 188.5,187.3 189.6,187.1 190.7,186.9 191.8,186.6 193.0,186.4 194.1,186.2 195.2,186.0 196.3,185.7 197.5,185.5 198.6,185.3 199.7,185.1 200.8,184.8 201.9,184.6 203.1,184.3 204.2,184.0 205.3,183.7 206.4,183.5 207.6,183.3 208.7,183.2 209.8,183.2 210.9,183.3 212.1,183.4 213.2,183.5 214.3,183.7 215.4,183.9 216.6,184.1 217.7,184.3 218.8,184.5 219.9,184.8 221.1,185.0 222.2,185.3 223.3,185.6 224.4,185.8 225.6,186.1 226.7,186.3 227.8,186.6 228.9,186.8 230.0,187.0 231.2,187.2 232.3,187.3 233.4,187.5 234.5,187.6 235.7,187.7 236.8,187.9 237.9,188.1 239.0,188.4 240.2,188.8 241.3,189.2 242.4,189.7 243.5,190.2 244.7,190.7 245.8,191.3 246.9,191.9 248.0,192.5 249.2,193.1 250.3,193.7 251.4,194.2 252.5,194.8 253.7,195.3 254.8,195.8 255.9,196.2 257.0,196.5 258.1,196.8 259.3,197.0 260.4,197.1 261.5,197.1 262.6,197.1 263.8,197.0 264.9,196.8 266.0,196.6 267.1,196.4 268.3,196.2 269.4,196.1 270.5,195.9 271.6,195.8 272.8,195.6 273.9,195.3 275.0,195.0 276.1,194.8 277.3,194.5 278.4,194.3 279.5,194.1 280.6,193.9 281.8,193.8 282.9,193.8 284.0,193.9 285.1,194.0 286.2,194.3 287.4,194.7 288.5,195.2 289.6,195.7 290.7,196.3 291.9,197.0 293.0,197.7 294.1,198.4 295.2,199.1 296.4,199.7 297.5,200.3 298.6,200.8 299.7,201.3 300.9,201.7 302.0,202.1 303.1,202.4 304.2,202.7 305.4,203.1 306.5,203.4 307.6,203.7 308.7,204.0 309.9,204.3 311.0,204.5 312.1,204.8 313.2,205.1 314.3,205.3 315.5,205.6 316.6,205.9 317.7,206.1 318.8,206.4 320.0,206.6 321.1,206.9 322.2,207.1 323.3,207.4 324.5,207.7 325.6,207.9 326.7,208.2 327.8,208.6 329.0,208.9 330.1,209.2 331.2,209.5 332.3,209.9 333.5,210.2 334.6,210.6 335.7,210.9 336.8,211.2 338.0,211.6 339.1,211.9 340.2,212.2 341.3,212.5 342.4,212.7 343.6,212.9 344.7,213.2 345.8,213.3 346.9,213.5 348.1,213.6 349.2,213.7 350.3,213.7 351.4,213.7 352.6,213.6 353.7,213.5 354.8,213.3 355.9,213.1 357.1,212.8 358.2,212.5 359.3,212.2 360.4,211.9 361.6,211.5 362.7,211.2 363.8,210.8 364.9,210.4 366.1,210.1 367.2,209.7 368.3,209.4 369.4,209.1 370.5,208.8 371.7,208.4 372.8,208.1 373.9,207.7 375.0,207.3 376.2,206.9 377.3,206.5 378.4,206.1 379.5,205.7 380.7,205.4 381.8,205.1 382.9,204.9 384.0,204.7 385.2,204.6 386.3,204.6 387.4,204.6 388.5,204.7 389.7,204.8 390.8,205.0 391.9,205.2 393.0,205.4 394.2,205.6 395.3,205.8 396.4,206.0 397.5,206.2 398.6,206.4 399.8,206.6 400.9,206.7 402.0,206.8 403.1,206.8 404.3,206.8 405.4,206.7 406.5,206.4 407.6,206.1 408.8,205.6 409.9,205.0 411.0,204.4 412.1,203.6 413.3,202.8 414.4,201.9 415.5,201.0 416.6,199.9 417.8,198.8 418.9,197.7 420.0,196.5 421.1,195.3 422.3,194.0 423.4,192.8 424.5,191.5 425.6,190.2 426.7,189.0 427.9,187.7 429.0,186.5 430.1,185.4 431.2,184.2 432.4,183.1 433.5,182.0 434.6,180.8 435.7,179.8 436.9,178.7 438.0,177.8 439.1,176.9 440.2,176.1 441.4,175.4 442.5,174.7 443.6,174.1 444.7,173.5 445.9,172.9 447.0,172.3 448.1,171.7 449.2,171.2 450.4,170.6 451.5,170.1 452.6,169.5 453.7,169.0 454.8,168.4 456.0,167.9 457.1,167.3 458.2,166.7 459.3,166.1 460.5,165.4 461.6,164.8 462.7,164.1 463.8,163.4 465.0,162.7 466.1,161.9 467.2,161.2 468.3,160.5 469.5,159.7 470.6,159.0 471.7,158.2 472.8,157.5 474.0,156.7 475.1,155.9 476.2,155.2 477.3,154.4 478.5,153.6 479.6,152.8 480.7,151.9 481.8,151.1 482.9,150.3 484.1,149.5 485.2,148.7 486.3,147.9 487.4,147.2 488.6,146.5 489.7,145.8 490.8,145.1 491.9,144.5 493.1,143.9 494.2,143.3 495.3,142.7 496.4,142.1 497.6,141.5 498.7,140.9 499.8,140.4 500.9,139.9 502.1,139.3 503.2,138.8 504.3,138.3 505.4,137.8 506.6,137.4 507.7,136.9 508.8,136.5 509.9,136.0 511.0,135.6 512.2,135.2 513.3,134.9 514.4,134.5 515.5,134.2 516.7,133.9 517.8,133.6 518.9,133.4 520.0,133.1 521.2,132.8 522.3,132.6 523.4,132.3 524.5,132.0 525.7,131.8 526.8,131.5 527.9,131.2 529.0,131.0 530.2,130.7 531.3,130.4 532.4,130.1 533.5,129.9 534.7,129.7 535.8,129.4 536.9,129.2 538.0,129.0 539.1,128.7 540.3,128.4 541.4,128.0 542.5,127.6 543.6,127.2 544.8,126.6 545.9,125.9 547.0,125.0 548.1,123.8 549.3,122.5 550.4,121.1 551.5,119.6 552.6,118.1 553.8,116.5 554.9,114.7 556.0,112.9 557.1,111.1 558.3,109.3 559.4,107.7 560.5,106.3 561.6,104.9 562.8,103.6 563.9,102.4 565.0,101.1 566.1,100.0 567.2,98.9 568.4,97.8 569.5,96.8 570.6,95.7 571.7,94.8 572.9,93.8 574.0,92.9 575.1,92.0 576.2,91.2 577.4,90.4 578.5,89.7 579.6,89.1 580.7,88.5 581.9,88.0 583.0,87.4 584.1,86.9 585.2,86.4 586.4,86.0 587.5,85.5 588.6,85.1 589.7,84.6 590.9,84.2 592.0,83.8 593.1,83.4 594.2,83.0 595.3,82.6 596.5,82.1 597.6,81.7 598.7,81.3 599.8,80.9 601.0,80.4 602.1,80.0 603.2,79.5 604.3,79.1 605.5,78.6 606.6,78.2 607.7,77.9 608.8,77.5 610.0,77.2 611.1,76.9 612.2,76.6 613.3,76.3 614.5,76.1 615.6,75.8 616.7,75.6 617.8,75.4 619.0,75.3 620.1,75.3 621.2,75.3 622.3,75.4 623.4,75.7 624.6,76.0 625.7,76.4 626.8,76.8 627.9,77.3 629.1,77.8 630.2,78.4 631.3,78.9 632.4,79.4 633.6,79.9 634.7,80.3 635.8,80.7 636.9,81.0 638.1,81.4 639.2,81.8 640.3,82.2 641.4,82.6 642.6,82.9 643.7,83.3 644.8,83.6 645.9,83.9 647.1,84.1 648.2,84.3 649.3,84.4 650.4,84.5 651.5,84.6 652.7,84.6 653.8,84.6 654.9,84.6 656.0,84.5 657.2,84.4 658.3,84.3 659.4,84.2 660.5,84.1 661.7,84.0 662.8,83.8 663.9,83.7 665.0,83.5 666.2,83.4 667.3,83.3 668.4,83.2 669.5,83.0 670.7,82.9 671.8,82.8 672.9,82.7 674.0,82.6 675.2,82.5 676.3,82.4 677.4,82.3 678.5,82.2 679.6,82.1 680.8,82.0 681.9,81.9 683.0,81.8 684.1,81.7 685.3,81.6 686.4,81.5 687.5,81.3 688.6,81.2 689.8,81.1 690.9,81.0 692.0,80.9 693.1,80.8 694.3,80.7 695.4,80.6 696.5,80.4 697.6,80.3 698.8,80.2 699.9,80.1 701.0,80.0 702.1,79.9 703.3,79.7 704.4,79.6 705.5,79.5 706.6,79.3 707.7,79.2 708.9,79.0 710.0,78.9 711.1,78.7 712.2,78.6 713.4,78.4 714.5,78.3 715.6,78.1 716.7,78.0 717.9,77.9 719.0,77.7 720.1,77.6 721.2,77.5 722.4,77.3 723.5,77.2 724.6,77.1 725.7,77.0 726.9,76.9 728.0,76.8 729.1,76.7 730.2,76.7 731.4,76.6 732.5,76.6 733.6,76.5 734.7,76.5 735.8,76.5 737.0,76.5 738.1,76.5 739.2,76.6 740.3,76.6 741.5,76.7 742.6,76.8 743.7,76.9 744.8,77.0 746.0,77.2 747.1,77.3 748.2,77.5 749.3,77.6 750.5,77.8 751.6,78.0 752.7,78.2 753.8,78.4 755.0,78.6 756.1,78.8 757.2,79.0 758.3,79.2 759.5,79.4 760.6,79.6 761.7,79.8 762.8,80.1 763.9,80.3 765.1,80.6 766.2,80.9 767.3,81.2 768.4,81.5 769.6,81.8 770.7,82.1 771.8,82.4 772.9,82.7 774.1,83.1 775.2,83.4 776.3,83.7 777.4,84.0 778.6,84.3 779.7,84.6 780.8,84.9 781.9,85.2 783.1,85.5 784.2,85.8 785.3,86.1 786.4,86.3 787.6,86.5 788.7,86.8 789.8,87.0 790.9,87.1 792.0,87.3 793.2,87.4 794.3,87.5 795.4,87.6 796.5,87.7 797.7,87.8 798.8,87.8 799.9,87.8 801.0,87.9 802.2,87.9 803.3,87.9 804.4,87.9 805.5,87.9 806.7,87.9 807.8,87.9 808.9,88.0 810.0,88.0 811.2,88.0 812.3,88.1 813.4,88.1 814.5,88.1 815.7,88.1 816.8,88.1 817.9,88.1 819.0,88.1 820.1,88.1 821.3,88.1 822.4,88.1 823.5,88.1 824.6,88.1 825.8,88.1 826.9,88.1 828.0,88.2 829.1,88.2 830.3,88.2 831.4,88.2 832.5,88.2 833.6,88.3 834.8,88.3 835.9,88.4 837.0,88.4 838.1,88.5 839.3,88.5 840.4,88.6 841.5,88.8 842.6,89.0 843.8,89.3 844.9,89.7 846.0,90.0 847.1,90.3 848.2,90.6 849.4,90.9 850.5,91.1 851.6,91.2 852.7,91.4 853.9,91.5 855.0,91.6 856.1,91.8 857.2,91.9 858.4,92.0 859.5,92.1 860.6,92.2 861.7,92.3 862.9,92.4 864.0,92.5 865.1,92.6 866.2,92.7 867.4,92.8 868.5,92.9 869.6,93.0 870.7,93.1 871.9,93.2 873.0,93.2 874.1,93.3 875.2,93.4 876.3,93.5 877.5,93.6 878.6,93.6 879.7,93.7 880.8,93.8 882.0,93.8 883.1,93.9 884.2,94.0 885.3,94.0 886.5,94.1 887.6,94.2 888.7,94.4 889.8,94.5 891.0,94.6 892.1,94.6 893.2,94.6 894.3,94.5 895.5,94.3 896.6,94.0 897.7,93.5 898.8,93.0 900.0,92.5 901.1,91.9 902.2,91.4 903.3,90.8 904.4,90.4 905.6,90.0 906.7,89.7 907.8,89.4 908.9,89.1 910.1,88.8 911.2,88.5 912.3,88.2 913.4,87.9 914.6,87.7 915.7,87.4 916.8,87.1 917.9,86.8 919.1,86.6 920.2,86.3 921.3,86.0 922.4,85.7 923.6,85.3 924.7,85.0 925.8,84.6 926.9,84.3 928.1,83.9 929.2,83.5 930.3,83.0 931.4,82.5 932.5,82.0 933.7,81.4 934.8,80.8 935.9,80.1 937.0,79.4 938.2,78.6 939.3,77.8 940.4,77.0 941.5,76.1 942.7,75.2 943.8,74.4 944.9,73.5 946.0,72.7 947.2,71.9 948.3,71.1 949.4,70.4 950.5,69.7 951.7,69.0 952.8,68.4 953.9,67.8 955.0,67.2 956.2,66.6 957.3,66.0 958.4,65.5 959.5,65.0 960.6,64.5 961.8,64.0 962.9,63.5 964.0,63.1 965.1,62.6 966.3,62.2 967.4,61.8 968.5,61.5 969.6,61.1 970.8,60.8 971.9,60.4 973.0,60.1 974.1,59.8 975.3,59.5 976.4,59.2 977.5,58.9 978.6,58.6 979.8,58.3 980.9,58.0 982.0,57.7 983.1,57.4" fill="none" stroke="#263238" stroke-width="2.0" stroke-opacity="1.0" stroke-linejoin="round" stroke-linecap="round"/>
<line x1="41.3" y1="310.3" x2="554.2" y2="24.2" stroke="#2196f3" stroke-width="1.1"/>
<g fill="#ababab"><rect x="7" y="269.5" width="10" height="5.6"/><rect x="7" y="276.5" width="10" height="1.9"/></g><rect x="12" y="273.1" width="4.2" height="1.2" fill="#fff"/><rect x="14.6" y="270.8" width="1.6" height="0.9" fill="#fff"/><path d="M21.4 270.9 l6.6 6.6 M28 270.9 l-6.6 6.6" stroke="#ababab" stroke-width="2.5"/>
<text x="32" y="280.7" font-size="9.6" fill="#707070" word-spacing="2.6">SMA [200, 0] 68712.22</text>
<g fill="#ababab"><rect x="7" y="283.5" width="10" height="5.6"/><rect x="7" y="290.5" width="10" height="1.9"/></g><rect x="12" y="287.1" width="4.2" height="1.2" fill="#fff"/><rect x="14.6" y="284.8" width="1.6" height="0.9" fill="#fff"/><path d="M21.4 284.9 l6.6 6.6 M28 284.9 l-6.6 6.6" stroke="#ababab" stroke-width="2.5"/>
<text x="32" y="294.7" font-size="9.6" fill="#707070" word-spacing="2.6">EMA [100, 0] 70045.88</text>
<g fill="#ababab"><rect x="7" y="297.5" width="10" height="5.6"/><rect x="7" y="304.5" width="10" height="1.9"/></g><rect x="12" y="301.1" width="4.2" height="1.2" fill="#fff"/><rect x="14.6" y="298.8" width="1.6" height="0.9" fill="#fff"/><path d="M21.4 298.9 l6.6 6.6 M28 298.9 l-6.6 6.6" stroke="#ababab" stroke-width="2.5"/>
<text x="32" y="308.7" font-size="9.6" fill="#707070" word-spacing="2.6">SMA [50, 0] 70643.26</text>
<g fill="#ababab"><rect x="7" y="375.5" width="10" height="5.6"/><rect x="7" y="382.5" width="10" height="1.9"/></g><rect x="12" y="379.1" width="4.2" height="1.2" fill="#fff"/><rect x="14.6" y="376.8" width="1.6" height="0.9" fill="#fff"/><path d="M21.4 376.9 l6.6 6.6 M28 376.9 l-6.6 6.6" stroke="#ababab" stroke-width="2.5"/>
<text x="32" y="386.5" font-size="9.6" fill="#707070" word-spacing="2.6">RSI [14] 50.0</text>
<g fill="#ababab"><rect x="7" y="433.5" width="10" height="5.6"/><rect x="7" y="440.5" width="10" height="1.9"/></g><rect x="12" y="437.1" width="4.2" height="1.2" fill="#fff"/><rect x="14.6" y="434.8" width="1.6" height="0.9" fill="#fff"/><path d="M21.4 434.9 l6.6 6.6 M28 434.9 l-6.6 6.6" stroke="#ababab" stroke-width="2.5"/>
<text x="32" y="444" font-size="9.6" fill="#707070" word-spacing="2.6">MACD [14, 30, 7] 96.23051, 140.88359</text>
<polyline points="3.0,351.3 4.1,345.6 5.2,344.8 6.4,339.3 7.5,338.7 8.6,339.0 9.7,347.6 10.9,349.9 12.0,350.9 13.1,352.1 14.2,354.0 15.4,354.8 16.5,362.9 17.6,364.3 18.7,364.9 19.9,367.4 21.0,367.3 22.1,365.5 23.2,368.4 24.4,369.2 25.5,369.4 26.6,372.1 27.7,372.4 28.9,368.8 30.0,366.3 31.1,367.4 32.2,360.9 33.3,360.6 34.5,361.7 35.6,362.1 36.7,359.9 37.8,360.8 39.0,365.0 40.1,369.9 41.2,372.0 42.3,373.5 43.5,375.7 44.6,375.9 45.7,374.6 46.8,372.6 48.0,372.4 49.1,370.8 50.2,370.4 51.3,366.4 52.5,365.1 53.6,360.6 54.7,354.9 55.8,355.8 57.0,356.5 58.1,356.6 59.2,358.2 60.3,356.7 61.4,358.7 62.6,359.7 63.7,359.1 64.8,359.6 65.9,356.1 67.1,354.5 68.2,356.1 69.3,356.2 70.4,357.7 71.6,354.8 72.7,351.0 73.8,351.4 74.9,348.1 76.1,345.7 77.2,349.8 78.3,346.5 79.4,345.5 80.6,345.3 81.7,348.1 82.8,347.6 83.9,349.7 85.1,347.9 86.2,346.0 87.3,348.8 88.4,348.7 89.5,346.7 90.7,345.2 91.8,344.2 92.9,343.8 94.0,347.7 95.2,348.3 96.3,349.1 97.4,350.0 98.5,352.0 99.7,352.6 100.8,346.6 101.9,334.7 103.0,335.5 104.2,337.9 105.3,334.6 106.4,334.3 107.5,335.5 108.7,335.1 109.8,333.7 110.9,329.5 112.0,330.7 113.2,327.8 114.3,327.6 115.4,331.6 116.5,333.0 117.6,334.3 118.8,336.2 119.9,332.1 121.0,332.7 122.1,331.9 123.3,333.2 124.4,334.1 125.5,336.2 126.6,337.0 127.8,339.0 128.9,340.3 130.0,339.7 131.1,339.3 132.3,339.6 133.4,342.3 134.5,342.7 135.6,345.9 136.8,349.2 137.9,350.5 139.0,351.0 140.1,347.3 141.3,350.8 142.4,349.3 143.5,346.3 144.6,343.6 145.7,344.4 146.9,340.9 148.0,341.0 149.1,342.4 150.2,341.1 151.4,339.4 152.5,341.6 153.6,341.4 154.7,344.9 155.9,346.3 157.0,347.8 158.1,351.3 159.2,349.0 160.4,351.9 161.5,348.6 162.6,350.9 163.7,346.7 164.9,347.6 166.0,343.9 167.1,341.6 168.2,341.8 169.4,341.2 170.5,337.1 171.6,338.2 172.7,341.2 173.8,350.8 175.0,354.3 176.1,356.8 177.2,355.8 178.3,361.1 179.5,360.1 180.6,358.2 181.7,356.7 182.8,355.2 184.0,355.1 185.1,357.3 186.2,356.2 187.3,354.6 188.5,354.8 189.6,357.4 190.7,354.6 191.8,352.8 193.0,354.3 194.1,352.5 195.2,350.8 196.3,348.8 197.5,346.3 198.6,346.2 199.7,347.7 200.8,348.7 201.9,350.1 203.1,351.0 204.2,351.1 205.3,351.8 206.4,351.7 207.6,351.4 208.7,354.7 209.8,356.0 210.9,358.0 212.1,360.0 213.2,359.4 214.3,359.9 215.4,361.9 216.6,363.0 217.7,362.7 218.8,363.8 219.9,362.6 221.1,360.9 222.2,361.6 223.3,363.8 224.4,360.4 225.6,361.8 226.7,361.9 227.8,361.6 228.9,357.9 230.0,360.5 231.2,358.0 232.3,356.5 233.4,355.8 234.5,356.3 235.7,356.7 236.8,358.4 237.9,362.3 239.0,362.0 240.2,363.1 241.3,367.5 242.4,368.2 243.5,366.4 244.7,361.2 245.8,362.7 246.9,362.1 248.0,363.6 249.2,359.6 250.3,361.1 251.4,362.3 252.5,362.1 253.7,364.5 254.8,368.8 255.9,362.3 257.0,355.2 258.1,355.6 259.3,354.5 260.4,353.0 261.5,349.0 262.6,347.8 263.8,347.5 264.9,343.8 266.0,341.5 267.1,341.8 268.3,342.1 269.4,340.2 270.5,339.1 271.6,341.6 272.8,342.8 273.9,343.9 275.0,345.0 276.1,344.0 277.3,342.9 278.4,343.7 279.5,342.4 280.6,343.4 281.8,342.8 282.9,347.1 284.0,357.1 285.1,366.2 286.2,366.2 287.4,367.5 288.5,366.7 289.6,368.3 290.7,367.9 291.9,369.0 293.0,366.5 294.1,364.5 295.2,362.5 296.4,361.3 297.5,361.6 298.6,361.3 299.7,363.3 300.9,361.5 302.0,363.5 303.1,363.0 304.2,362.7 305.4,359.5 306.5,358.2 307.6,359.4 308.7,359.2 309.9,356.2 311.0,356.9 312.1,355.8 313.2,356.0 314.3,356.0 315.5,358.6 316.6,358.6 317.7,358.2 318.8,357.5 320.0,357.9 321.1,357.2 322.2,354.9 323.3,357.3 324.5,355.3 325.6,354.1 326.7,355.4 327.8,354.7 329.0,352.6 330.1,352.6 331.2,350.1 332.3,349.3 333.5,345.3 334.6,347.7 335.7,342.5 336.8,343.4 338.0,343.1 339.1,344.4 340.2,347.1 341.3,349.6 342.4,352.0 343.6,353.8 344.7,350.7 345.8,349.5 346.9,350.4 348.1,355.3 349.2,358.4 350.3,357.3 351.4,347.7 352.6,337.9 353.7,335.0 354.8,336.2 355.9,335.9 357.1,336.2 358.2,338.9 359.3,336.8 360.4,337.9 361.6,340.3 362.7,334.3 363.8,336.7 364.9,340.3 366.1,338.9 367.2,345.4 368.3,340.7 369.4,346.3 370.5,348.6 371.7,349.2 372.8,349.3 373.9,351.8 375.0,352.2 376.2,356.1 377.3,355.9 378.4,358.2 379.5,360.9 380.7,359.2 381.8,360.6 382.9,362.2 384.0,361.2 385.2,365.0 386.3,365.2 387.4,363.3 388.5,365.5 389.7,365.5 390.8,365.0 391.9,364.8 393.0,362.7 394.2,363.6 395.3,360.6 396.4,361.4 397.5,359.2 398.6,358.5 399.8,354.7 400.9,352.3 402.0,349.3 403.1,350.7 404.3,350.8 405.4,351.8 406.5,350.3 407.6,348.0 408.8,345.6 409.9,344.4 411.0,337.9 412.1,334.0 413.3,332.5 414.4,329.0 415.5,327.6 416.6,329.2 417.8,327.2 418.9,325.2 420.0,325.9 421.1,324.6 422.3,324.9 423.4,325.1 424.5,323.5 425.6,327.3 426.7,326.4 427.9,328.5 429.0,329.9 430.1,333.4 431.2,334.3 432.4,335.0 433.5,331.8 434.6,332.5 435.7,330.0 436.9,331.1 438.0,335.0 439.1,338.5 440.2,345.6 441.4,350.0 442.5,355.7 443.6,357.4 444.7,356.2 445.9,357.0 447.0,356.8 448.1,352.9 449.2,354.8 450.4,354.0 451.5,354.1 452.6,353.1 453.7,350.2 454.8,349.4 456.0,352.9 457.1,351.1 458.2,347.8 459.3,347.3 460.5,344.4 461.6,339.9 462.7,339.0 463.8,341.3 465.0,345.5 466.1,347.2 467.2,348.5 468.3,349.6 469.5,347.8 470.6,341.9 471.7,341.3 472.8,341.2 474.0,341.8 475.1,343.7 476.2,344.4 477.3,344.4 478.5,342.7 479.6,343.7 480.7,347.3 481.8,343.9 482.9,341.3 484.1,342.5 485.2,342.9 486.3,346.1 487.4,347.1 488.6,351.0 489.7,348.9 490.8,347.9 491.9,348.3 493.1,348.9 494.2,350.0 495.3,349.8 496.4,348.0 497.6,348.2 498.7,346.4 499.8,346.4 500.9,342.5 502.1,340.9 503.2,344.9 504.3,343.7 505.4,345.7 506.6,347.2 507.7,346.2 508.8,344.6 509.9,345.5 511.0,345.0 512.2,353.4 513.3,359.9 514.4,358.8 515.5,359.7 516.7,362.0 517.8,365.1 518.9,362.8 520.0,365.3 521.2,366.5 522.3,368.0 523.4,365.3 524.5,363.5 525.7,359.8 526.8,357.8 527.9,354.6 529.0,351.5 530.2,349.2 531.3,346.4 532.4,345.7 533.5,356.2 534.7,356.7 535.8,353.1 536.9,354.5 538.0,351.0 539.1,350.7 540.3,349.0 541.4,348.8 542.5,348.4 543.6,343.4 544.8,337.6 545.9,337.2 547.0,329.6 548.1,329.7 549.3,331.5 550.4,330.6 551.5,330.7 552.6,335.0 553.8,331.3 554.9,332.9 556.0,332.4 557.1,332.6 558.3,334.2 559.4,335.6 560.5,337.4 561.6,337.3 562.8,337.4 563.9,338.0 565.0,340.3 566.1,339.4 567.2,336.3 568.4,338.7 569.5,348.5 570.6,352.3 571.7,354.5 572.9,355.7 574.0,357.0 575.1,358.4 576.2,359.7 577.4,357.8 578.5,357.1 579.6,351.6 580.7,354.9 581.9,353.4 583.0,353.0 584.1,352.2 585.2,349.2 586.4,351.8 587.5,352.5 588.6,354.7 589.7,350.4 590.9,353.7 592.0,351.1 593.1,353.9 594.2,351.7 595.3,354.9 596.5,351.6 597.6,349.8 598.7,349.9 599.8,350.8 601.0,355.9 602.1,358.6 603.2,359.2 604.3,360.5 605.5,361.4 606.6,360.7 607.7,358.2 608.8,356.8 610.0,359.4 611.1,358.2 612.2,356.4 613.3,354.7 614.5,354.6 615.6,354.2 616.7,353.3 617.8,352.2 619.0,353.4 620.1,349.2 621.2,353.6 622.3,358.3 623.4,364.7 624.6,370.0 625.7,371.1 626.8,370.4 627.9,371.1 629.1,367.9 630.2,363.8 631.3,363.8 632.4,361.5 633.6,364.4 634.7,360.7 635.8,361.0 636.9,362.6 638.1,361.6 639.2,360.9 640.3,362.4 641.4,365.0 642.6,365.6 643.7,364.0 644.8,364.2 645.9,363.3 647.1,361.3 648.2,359.9 649.3,360.6 650.4,359.8 651.5,354.0 652.7,348.7 653.8,346.3 654.9,342.6 656.0,341.6 657.2,342.8 658.3,346.2 659.4,347.1 660.5,348.5 661.7,345.3 662.8,344.6 663.9,343.9 665.0,342.3 666.2,341.7 667.3,343.5 668.4,345.7 669.5,345.9 670.7,348.0 671.8,348.6 672.9,346.3 674.0,348.8 675.2,345.9 676.3,345.8 677.4,345.8 678.5,345.3 679.6,346.9 680.8,346.8 681.9,349.1 683.0,350.3 684.1,352.4 685.3,352.7 686.4,349.2 687.5,349.0 688.6,346.6 689.8,347.2 690.9,346.9 692.0,350.2 693.1,350.5 694.3,351.6 695.4,351.9 696.5,352.7 697.6,354.2 698.8,355.7 699.9,354.5 701.0,357.1 702.1,361.6 703.3,360.0 704.4,360.6 705.5,359.4 706.6,355.4 707.7,355.8 708.9,352.2 710.0,349.5 711.1,354.8 712.2,359.4 713.4,358.3 714.5,361.4 715.6,360.0 716.7,358.4 717.9,357.2 719.0,357.5 720.1,360.7 721.2,361.0 722.4,358.2 723.5,349.7 724.6,339.8 725.7,337.0 726.9,338.4 728.0,342.0 729.1,343.9 730.2,346.0 731.4,348.0 732.5,349.6 733.6,347.0 734.7,348.7 735.8,350.7 737.0,349.3 738.1,360.2 739.2,363.0 740.3,364.0 741.5,363.9 742.6,367.1 743.7,364.7 744.8,363.3 746.0,363.0 747.1,361.8 748.2,360.8 749.3,358.7 750.5,357.2 751.6,358.0 752.7,358.9 753.8,357.7 755.0,357.7 756.1,354.8 757.2,355.8 758.3,355.8 759.5,353.7 760.6,353.6 761.7,351.3 762.8,349.8 763.9,350.2 765.1,352.3 766.2,351.9 767.3,349.2 768.4,351.7 769.6,353.0 770.7,358.1 771.8,360.1 772.9,359.7 774.1,361.9 775.2,360.8 776.3,360.9 777.4,360.9 778.6,363.7 779.7,364.5 780.8,363.8 781.9,362.2 783.1,363.4 784.2,360.2 785.3,358.2 786.4,359.5 787.6,359.0 788.7,356.5 789.8,352.2 790.9,351.8 792.0,352.2 793.2,350.3 794.3,350.9 795.4,347.8 796.5,353.4 797.7,355.6 798.8,358.2 799.9,355.6 801.0,355.6 802.2,352.0 803.3,346.7 804.4,342.9 805.5,340.6 806.7,338.1 807.8,339.1 808.9,339.5 810.0,338.2 811.2,336.2 812.3,340.2 813.4,348.0 814.5,350.8 815.7,349.8 816.8,349.8 817.9,348.6 819.0,346.2 820.1,347.7 821.3,349.8 822.4,354.2 823.5,356.1 824.6,356.4 825.8,358.2 826.9,362.4 828.0,355.8 829.1,350.9 830.3,349.9 831.4,355.7 832.5,362.3 833.6,365.9 834.8,367.0 835.9,361.9 837.0,360.1 838.1,357.4 839.3,357.4 840.4,357.4 841.5,357.3 842.6,359.2 843.8,357.7 844.9,357.9 846.0,358.2 847.1,358.5 848.2,358.1 849.4,359.0 850.5,357.2 851.6,356.6 852.7,355.6 853.9,353.5 855.0,352.8 856.1,352.1 857.2,353.4 858.4,352.1 859.5,351.1 860.6,352.4 861.7,352.8 862.9,349.4 864.0,353.2 865.1,351.5 866.2,351.5 867.4,353.5 868.5,352.9 869.6,352.3 870.7,357.1 871.9,355.1 873.0,357.3 874.1,360.3 875.2,357.4 876.3,348.2 877.5,343.6 878.6,347.7 879.7,345.0 880.8,347.0 882.0,349.8 883.1,351.6 884.2,352.1 885.3,355.5 886.5,355.2 887.6,355.4 888.7,356.1 889.8,355.9 891.0,351.7 892.1,347.5 893.2,342.0 894.3,340.8 895.5,339.4 896.6,336.6 897.7,336.8 898.8,336.4 900.0,340.0 901.1,342.2 902.2,339.3 903.3,337.6 904.4,334.8 905.6,340.4 906.7,349.1 907.8,350.1 908.9,348.3 910.1,347.5 911.2,346.9 912.3,349.8 913.4,349.3 914.6,351.6 915.7,352.2 916.8,354.4 917.9,352.2 919.1,352.1 920.2,348.8 921.3,351.2 922.4,351.3 923.6,352.5 924.7,353.3 925.8,355.3 926.9,352.4 928.1,355.6 929.2,354.2 930.3,356.2 931.4,351.2 932.5,348.1 933.7,340.9 934.8,338.8 935.9,333.5 937.0,333.6 938.2,334.9 939.3,335.0 940.4,338.5 941.5,341.0 942.7,339.9 943.8,340.9 944.9,339.0 946.0,338.9 947.2,338.0 948.3,338.8 949.4,341.6 950.5,340.4 951.7,340.4 952.8,339.7 953.9,340.1 955.0,344.1 956.2,342.2 957.3,342.9 958.4,345.5 959.5,347.8 960.6,348.6 961.8,337.4 962.9,340.0 964.0,342.5 965.1,341.9 966.3,345.2 967.4,348.9 968.5,351.1 969.6,348.4 970.8,347.2 971.9,350.7 973.0,352.4 974.1,350.4 975.3,348.0 976.4,353.6 977.5,353.5 978.6,355.4 979.8,353.8 980.9,352.7 982.0,352.1 983.1,354.3" fill="none" stroke="#37474f" stroke-width="1.1" stroke-linejoin="miter"/>
<g><rect x="3" y="418.3" width="2" height="1.2" fill="#1e7fd0"/><rect x="4" y="418.3" width="2" height="1.2" fill="#1e7fd0"/><rect x="5" y="417.7" width="2" height="1.8" fill="#1e7fd0"/><rect x="6" y="417.1" width="2" height="2.4" fill="#1e7fd0"/><rect x="7" y="416.7" width="2" height="2.8" fill="#1e7fd0"/><rect x="9" y="416.3" width="2" height="3.2" fill="#1e7fd0"/><rect x="10" y="416.0" width="2" height="3.5" fill="#1e7fd0"/><rect x="11" y="416.8" width="2" height="2.7" fill="#1e7fd0"/><rect x="12" y="417.6" width="2" height="1.9" fill="#1e7fd0"/><rect x="13" y="418.3" width="2" height="1.2" fill="#1e7fd0"/><rect x="16" y="419.5" width="2" height="1.7" fill="#d50f1f"/><rect x="18" y="419.5" width="2" height="2.9" fill="#d50f1f"/><rect x="19" y="419.5" width="2" height="3.9" fill="#d50f1f"/><rect x="20" y="419.5" width="2" height="4.6" fill="#d50f1f"/><rect x="21" y="419.5" width="2" height="4.8" fill="#d50f1f"/><rect x="22" y="419.5" width="2" height="4.9" fill="#d50f1f"/><rect x="23" y="419.5" width="2" height="5.0" fill="#d50f1f"/><rect x="24" y="419.5" width="2" height="5.1" fill="#d50f1f"/><rect x="25" y="419.5" width="2" height="5.0" fill="#d50f1f"/><rect x="27" y="419.5" width="2" height="4.8" fill="#d50f1f"/><rect x="28" y="419.5" width="2" height="4.7" fill="#d50f1f"/><rect x="29" y="419.5" width="2" height="4.6" fill="#d50f1f"/><rect x="30" y="419.5" width="2" height="4.5" fill="#d50f1f"/><rect x="31" y="419.5" width="2" height="3.8" fill="#d50f1f"/><rect x="32" y="419.5" width="2" height="3.2" fill="#d50f1f"/><rect x="33" y="419.5" width="2" height="2.7" fill="#d50f1f"/><rect x="34" y="419.5" width="2" height="2.4" fill="#d50f1f"/><rect x="36" y="419.5" width="2" height="1.8" fill="#d50f1f"/><rect x="37" y="419.5" width="2" height="1.2" fill="#d50f1f"/><rect x="38" y="419.5" width="2" height="1.2" fill="#d50f1f"/><rect x="39" y="419.5" width="2" height="1.2" fill="#d50f1f"/><rect x="40" y="419.5" width="2" height="1.2" fill="#d50f1f"/><rect x="42" y="419.5" width="2" height="1.7" fill="#d50f1f"/><rect x="43" y="419.5" width="2" height="2.2" fill="#d50f1f"/><rect x="45" y="419.5" width="2" height="2.7" fill="#d50f1f"/><rect x="46" y="419.5" width="2" height="2.8" fill="#d50f1f"/><rect x="47" y="419.5" width="2" height="2.9" fill="#d50f1f"/><rect x="48" y="419.5" width="2" height="2.9" fill="#d50f1f"/><rect x="49" y="419.5" width="2" height="2.9" fill="#d50f1f"/><rect x="50" y="419.5" width="2" height="2.9" fill="#d50f1f"/><rect x="51" y="419.5" width="2" height="2.9" fill="#d50f1f"/><rect x="52" y="419.5" width="2" height="2.3" fill="#d50f1f"/><rect x="54" y="419.5" width="2" height="1.2" fill="#d50f1f"/><rect x="57" y="417.9" width="2" height="1.6" fill="#1e7fd0"/><rect x="58" y="417.4" width="2" height="2.1" fill="#1e7fd0"/><rect x="59" y="417.0" width="2" height="2.5" fill="#1e7fd0"/><rect x="60" y="416.7" width="2" height="2.8" fill="#1e7fd0"/><rect x="61" y="416.5" width="2" height="3.0" fill="#1e7fd0"/><rect x="63" y="416.3" width="2" height="3.2" fill="#1e7fd0"/><rect x="64" y="416.2" width="2" height="3.3" fill="#1e7fd0"/><rect x="65" y="416.1" width="2" height="3.4" fill="#1e7fd0"/><rect x="66" y="416.1" width="2" height="3.4" fill="#1e7fd0"/><rect x="67" y="416.0" width="2" height="3.5" fill="#1e7fd0"/><rect x="68" y="416.0" width="2" height="3.5" fill="#1e7fd0"/><rect x="69" y="415.9" width="2" height="3.6" fill="#1e7fd0"/><rect x="70" y="415.9" width="2" height="3.6" fill="#1e7fd0"/><rect x="72" y="415.7" width="2" height="3.8" fill="#1e7fd0"/><rect x="73" y="415.6" width="2" height="3.9" fill="#1e7fd0"/><rect x="74" y="415.6" width="2" height="3.9" fill="#1e7fd0"/><rect x="75" y="415.5" width="2" height="4.0" fill="#1e7fd0"/><rect x="76" y="415.5" width="2" height="4.0" fill="#1e7fd0"/><rect x="77" y="415.4" width="2" height="4.1" fill="#1e7fd0"/><rect x="78" y="415.4" width="2" height="4.1" fill="#1e7fd0"/><rect x="79" y="415.4" width="2" height="4.1" fill="#1e7fd0"/><rect x="81" y="415.5" width="2" height="4.0" fill="#1e7fd0"/><rect x="82" y="415.6" width="2" height="3.9" fill="#1e7fd0"/><rect x="83" y="415.8" width="2" height="3.7" fill="#1e7fd0"/><rect x="84" y="415.9" width="2" height="3.6" fill="#1e7fd0"/><rect x="85" y="415.9" width="2" height="3.6" fill="#1e7fd0"/><rect x="86" y="416.0" width="2" height="3.5" fill="#1e7fd0"/><rect x="87" y="416.0" width="2" height="3.5" fill="#1e7fd0"/><rect x="88" y="416.2" width="2" height="3.3" fill="#1e7fd0"/><rect x="90" y="416.6" width="2" height="2.9" fill="#1e7fd0"/><rect x="91" y="416.9" width="2" height="2.6" fill="#1e7fd0"/><rect x="92" y="417.2" width="2" height="2.3" fill="#1e7fd0"/><rect x="93" y="417.3" width="2" height="2.2" fill="#1e7fd0"/><rect x="94" y="417.5" width="2" height="2.0" fill="#1e7fd0"/><rect x="95" y="417.7" width="2" height="1.8" fill="#1e7fd0"/><rect x="97" y="418.3" width="2" height="1.2" fill="#1e7fd0"/><rect x="99" y="418.3" width="2" height="1.2" fill="#1e7fd0"/><rect x="100" y="419.5" width="2" height="1.2" fill="#d50f1f"/><rect x="101" y="418.3" width="2" height="1.2" fill="#1e7fd0"/><rect x="102" y="416.7" width="2" height="2.8" fill="#1e7fd0"/><rect x="103" y="415.5" width="2" height="4.0" fill="#1e7fd0"/><rect x="104" y="414.5" width="2" height="5.0" fill="#1e7fd0"/><rect x="105" y="414.0" width="2" height="5.5" fill="#1e7fd0"/><rect x="106" y="414.3" width="2" height="5.2" fill="#1e7fd0"/><rect x="108" y="414.5" width="2" height="5.0" fill="#1e7fd0"/><rect x="109" y="414.7" width="2" height="4.8" fill="#1e7fd0"/><rect x="110" y="414.8" width="2" height="4.7" fill="#1e7fd0"/><rect x="111" y="415.3" width="2" height="4.2" fill="#1e7fd0"/><rect x="112" y="415.7" width="2" height="3.8" fill="#1e7fd0"/><rect x="113" y="416.0" width="2" height="3.5" fill="#1e7fd0"/><rect x="114" y="416.3" width="2" height="3.2" fill="#1e7fd0"/><rect x="115" y="416.5" width="2" height="3.0" fill="#1e7fd0"/><rect x="117" y="416.6" width="2" height="2.9" fill="#1e7fd0"/><rect x="118" y="416.7" width="2" height="2.8" fill="#1e7fd0"/><rect x="119" y="416.8" width="2" height="2.7" fill="#1e7fd0"/><rect x="120" y="416.9" width="2" height="2.6" fill="#1e7fd0"/><rect x="121" y="418.0" width="2" height="1.5" fill="#1e7fd0"/><rect x="124" y="419.5" width="2" height="1.2" fill="#d50f1f"/><rect x="126" y="419.5" width="2" height="1.2" fill="#d50f1f"/><rect x="127" y="419.5" width="2" height="1.6" fill="#d50f1f"/><rect x="128" y="419.5" width="2" height="1.9" fill="#d50f1f"/><rect x="129" y="419.5" width="2" height="2.1" fill="#d50f1f"/><rect x="130" y="419.5" width="2" height="2.2" fill="#d50f1f"/><rect x="131" y="419.5" width="2" height="2.7" fill="#d50f1f"/><rect x="132" y="419.5" width="2" height="3.0" fill="#d50f1f"/><rect x="133" y="419.5" width="2" height="3.3" fill="#d50f1f"/><rect x="135" y="419.5" width="2" height="3.5" fill="#d50f1f"/><rect x="136" y="419.5" width="2" height="3.6" fill="#d50f1f"/><rect x="137" y="419.5" width="2" height="3.7" fill="#d50f1f"/><rect x="138" y="419.5" width="2" height="3.8" fill="#d50f1f"/><rect x="139" y="419.5" width="2" height="3.9" fill="#d50f1f"/><rect x="140" y="419.5" width="2" height="3.9" fill="#d50f1f"/><rect x="141" y="419.5" width="2" height="3.2" fill="#d50f1f"/><rect x="142" y="419.5" width="2" height="2.6" fill="#d50f1f"/><rect x="144" y="419.5" width="2" height="2.1" fill="#d50f1f"/><rect x="145" y="419.5" width="2" height="1.8" fill="#d50f1f"/><rect x="146" y="419.5" width="2" height="1.5" fill="#d50f1f"/><rect x="147" y="419.5" width="2" height="1.3" fill="#d50f1f"/><rect x="148" y="419.5" width="2" height="1.2" fill="#d50f1f"/><rect x="151" y="419.5" width="2" height="1.2" fill="#d50f1f"/><rect x="152" y="419.5" width="2" height="1.2" fill="#d50f1f"/><rect x="154" y="419.5" width="2" height="1.2" fill="#d50f1f"/><rect x="155" y="419.5" width="2" height="1.2" fill="#d50f1f"/><rect x="158" y="419.5" width="2" height="1.2" fill="#d50f1f"/><rect x="159" y="419.5" width="2" height="1.2" fill="#d50f1f"/><rect x="160" y="419.5" width="2" height="1.2" fill="#d50f1f"/><rect x="161" y="419.5" width="2" height="1.2" fill="#d50f1f"/><rect x="165" y="418.3" width="2" height="1.2" fill="#1e7fd0"/><rect x="166" y="418.3" width="2" height="1.2" fill="#1e7fd0"/><rect x="167" y="418.3" width="2" height="1.2" fill="#1e7fd0"/><rect x="168" y="418.3" width="2" height="1.2" fill="#1e7fd0"/><rect x="172" y="418.3" width="2" height="1.2" fill="#1e7fd0"/><rect x="173" y="419.5" width="2" height="1.2" fill="#d50f1f"/><rect x="174" y="419.5" width="2" height="1.2" fill="#d50f1f"/><rect x="175" y="419.5" width="2" height="1.6" fill="#d50f1f"/><rect x="176" y="419.5" width="2" height="2.0" fill="#d50f1f"/><rect x="177" y="419.5" width="2" height="2.4" fill="#d50f1f"/><rect x="178" y="419.5" width="2" height="2.7" fill="#d50f1f"/><rect x="179" y="419.5" width="2" height="2.9" fill="#d50f1f"/><rect x="181" y="419.5" width="2" height="3.1" fill="#d50f1f"/><rect x="182" y="419.5" width="2" height="3.2" fill="#d50f1f"/><rect x="183" y="419.5" width="2" height="2.8" fill="#d50f1f"/><rect x="184" y="419.5" width="2" height="2.4" fill="#d50f1f"/><rect x="185" y="419.5" width="2" height="2.0" fill="#d50f1f"/><rect x="186" y="419.5" width="2" height="1.8" fill="#d50f1f"/><rect x="187" y="419.5" width="2" height="1.6" fill="#d50f1f"/><rect x="188" y="419.5" width="2" height="1.4" fill="#d50f1f"/><rect x="190" y="419.5" width="2" height="1.3" fill="#d50f1f"/><rect x="192" y="419.5" width="2" height="1.2" fill="#d50f1f"/><rect x="193" y="419.5" width="2" height="1.2" fill="#d50f1f"/><rect x="194" y="419.5" width="2" height="1.2" fill="#d50f1f"/><rect x="195" y="419.5" width="2" height="1.2" fill="#d50f1f"/><rect x="199" y="418.3" width="2" height="1.2" fill="#1e7fd0"/><rect x="200" y="418.3" width="2" height="1.2" fill="#1e7fd0"/><rect x="201" y="418.3" width="2" height="1.2" fill="#1e7fd0"/><rect x="202" y="418.3" width="2" height="1.2" fill="#1e7fd0"/><rect x="205" y="418.3" width="2" height="1.2" fill="#1e7fd0"/><rect x="206" y="418.3" width="2" height="1.2" fill="#1e7fd0"/><rect x="208" y="419.5" width="2" height="1.2" fill="#d50f1f"/><rect x="209" y="419.5" width="2" height="1.2" fill="#d50f1f"/><rect x="212" y="419.5" width="2" height="1.2" fill="#d50f1f"/><rect x="213" y="419.5" width="2" height="1.3" fill="#d50f1f"/><rect x="214" y="419.5" width="2" height="1.4" fill="#d50f1f"/><rect x="215" y="419.5" width="2" height="1.5" fill="#d50f1f"/><rect x="217" y="419.5" width="2" height="1.5" fill="#d50f1f"/><rect x="218" y="419.5" width="2" height="1.6" fill="#d50f1f"/><rect x="219" y="419.5" width="2" height="1.6" fill="#d50f1f"/><rect x="220" y="419.5" width="2" height="1.6" fill="#d50f1f"/><rect x="221" y="419.5" width="2" height="1.3" fill="#d50f1f"/><rect x="222" y="419.5" width="2" height="1.2" fill="#d50f1f"/><rect x="226" y="419.5" width="2" height="1.2" fill="#d50f1f"/><rect x="227" y="419.5" width="2" height="1.2" fill="#d50f1f"/><rect x="228" y="419.5" width="2" height="1.2" fill="#d50f1f"/><rect x="229" y="419.5" width="2" height="1.2" fill="#d50f1f"/><rect x="232" y="419.5" width="2" height="1.2" fill="#d50f1f"/><rect x="233" y="419.5" width="2" height="1.2" fill="#d50f1f"/><rect x="235" y="419.5" width="2" height="1.2" fill="#d50f1f"/><rect x="236" y="419.5" width="2" height="1.2" fill="#d50f1f"/><rect x="239" y="419.5" width="2" height="1.2" fill="#d50f1f"/><rect x="240" y="419.5" width="2" height="1.2" fill="#d50f1f"/><rect x="241" y="419.5" width="2" height="1.2" fill="#d50f1f"/><rect x="242" y="419.5" width="2" height="1.2" fill="#d50f1f"/><rect x="246" y="419.5" width="2" height="1.2" fill="#d50f1f"/><rect x="247" y="419.5" width="2" height="1.2" fill="#d50f1f"/><rect x="248" y="419.5" width="2" height="1.2" fill="#d50f1f"/><rect x="249" y="419.5" width="2" height="1.2" fill="#d50f1f"/><rect x="253" y="419.5" width="2" height="1.2" fill="#d50f1f"/><rect x="254" y="418.3" width="2" height="1.2" fill="#1e7fd0"/><rect x="255" y="418.3" width="2" height="1.2" fill="#1e7fd0"/><rect x="256" y="418.3" width="2" height="1.2" fill="#1e7fd0"/><rect x="259" y="418.1" width="2" height="1.4" fill="#1e7fd0"/><rect x="260" y="417.5" width="2" height="2.0" fill="#1e7fd0"/><rect x="262" y="416.9" width="2" height="2.6" fill="#1e7fd0"/><rect x="263" y="416.5" width="2" height="3.0" fill="#1e7fd0"/><rect x="264" y="416.2" width="2" height="3.3" fill="#1e7fd0"/><rect x="265" y="415.9" width="2" height="3.6" fill="#1e7fd0"/><rect x="266" y="415.7" width="2" height="3.8" fill="#1e7fd0"/><rect x="267" y="415.6" width="2" height="3.9" fill="#1e7fd0"/><rect x="268" y="415.4" width="2" height="4.1" fill="#1e7fd0"/><rect x="269" y="415.4" width="2" height="4.1" fill="#1e7fd0"/><rect x="271" y="415.3" width="2" height="4.2" fill="#1e7fd0"/><rect x="272" y="415.2" width="2" height="4.3" fill="#1e7fd0"/><rect x="273" y="415.7" width="2" height="3.8" fill="#1e7fd0"/><rect x="274" y="416.4" width="2" height="3.1" fill="#1e7fd0"/><rect x="275" y="416.9" width="2" height="2.6" fill="#1e7fd0"/><rect x="276" y="417.4" width="2" height="2.1" fill="#1e7fd0"/><rect x="277" y="417.7" width="2" height="1.8" fill="#1e7fd0"/><rect x="278" y="417.9" width="2" height="1.6" fill="#1e7fd0"/><rect x="280" y="418.1" width="2" height="1.4" fill="#1e7fd0"/><rect x="281" y="418.3" width="2" height="1.2" fill="#1e7fd0"/><rect x="282" y="418.3" width="2" height="1.2" fill="#1e7fd0"/><rect x="283" y="418.3" width="2" height="1.2" fill="#1e7fd0"/><rect x="286" y="419.5" width="2" height="2.5" fill="#d50f1f"/><rect x="287" y="419.5" width="2" height="4.0" fill="#d50f1f"/><rect x="288" y="419.5" width="2" height="5.2" fill="#d50f1f"/><rect x="290" y="419.5" width="2" height="6.2" fill="#d50f1f"/><rect x="291" y="419.5" width="2" height="6.1" fill="#d50f1f"/><rect x="292" y="419.5" width="2" height="5.7" fill="#d50f1f"/><rect x="293" y="419.5" width="2" height="5.4" fill="#d50f1f"/><rect x="294" y="419.5" width="2" height="5.1" fill="#d50f1f"/><rect x="295" y="419.5" width="2" height="4.7" fill="#d50f1f"/><rect x="296" y="419.5" width="2" height="3.8" fill="#d50f1f"/><rect x="297" y="419.5" width="2" height="3.0" fill="#d50f1f"/><rect x="299" y="419.5" width="2" height="2.5" fill="#d50f1f"/><rect x="300" y="419.5" width="2" height="2.0" fill="#d50f1f"/><rect x="301" y="419.5" width="2" height="1.7" fill="#d50f1f"/><rect x="302" y="419.5" width="2" height="1.4" fill="#d50f1f"/><rect x="303" y="419.5" width="2" height="1.2" fill="#d50f1f"/><rect x="306" y="418.3" width="2" height="1.2" fill="#1e7fd0"/><rect x="308" y="418.3" width="2" height="1.2" fill="#1e7fd0"/><rect x="309" y="418.3" width="2" height="1.2" fill="#1e7fd0"/><rect x="310" y="418.2" width="2" height="1.3" fill="#1e7fd0"/><rect x="311" y="418.1" width="2" height="1.4" fill="#1e7fd0"/><rect x="312" y="418.0" width="2" height="1.5" fill="#1e7fd0"/><rect x="313" y="417.9" width="2" height="1.6" fill="#1e7fd0"/><rect x="314" y="417.9" width="2" height="1.6" fill="#1e7fd0"/><rect x="315" y="417.9" width="2" height="1.6" fill="#1e7fd0"/><rect x="317" y="418.1" width="2" height="1.4" fill="#1e7fd0"/><rect x="318" y="418.3" width="2" height="1.2" fill="#1e7fd0"/><rect x="320" y="418.3" width="2" height="1.2" fill="#1e7fd0"/><rect x="321" y="418.3" width="2" height="1.2" fill="#1e7fd0"/><rect x="322" y="418.3" width="2" height="1.2" fill="#1e7fd0"/><rect x="323" y="418.3" width="2" height="1.2" fill="#1e7fd0"/><rect x="327" y="418.3" width="2" height="1.2" fill="#1e7fd0"/><rect x="328" y="418.3" width="2" height="1.2" fill="#1e7fd0"/><rect x="329" y="418.3" width="2" height="1.2" fill="#1e7fd0"/><rect x="330" y="418.3" width="2" height="1.2" fill="#1e7fd0"/><rect x="333" y="418.3" width="2" height="1.2" fill="#1e7fd0"/><rect x="335" y="418.3" width="2" height="1.2" fill="#1e7fd0"/><rect x="336" y="418.3" width="2" height="1.2" fill="#1e7fd0"/><rect x="337" y="418.3" width="2" height="1.2" fill="#1e7fd0"/><rect x="340" y="418.3" width="2" height="1.2" fill="#1e7fd0"/><rect x="341" y="418.3" width="2" height="1.2" fill="#1e7fd0"/><rect x="342" y="418.3" width="2" height="1.2" fill="#1e7fd0"/><rect x="344" y="418.3" width="2" height="1.2" fill="#1e7fd0"/><rect x="347" y="418.3" width="2" height="1.2" fill="#1e7fd0"/><rect x="348" y="418.3" width="2" height="1.2" fill="#1e7fd0"/><rect x="349" y="418.3" width="2" height="1.2" fill="#1e7fd0"/><rect x="350" y="418.3" width="2" height="1.2" fill="#1e7fd0"/><rect x="354" y="417.9" width="2" height="1.6" fill="#1e7fd0"/><rect x="355" y="417.3" width="2" height="2.2" fill="#1e7fd0"/><rect x="356" y="416.7" width="2" height="2.8" fill="#1e7fd0"/><rect x="357" y="416.3" width="2" height="3.2" fill="#1e7fd0"/><rect x="358" y="416.0" width="2" height="3.5" fill="#1e7fd0"/><rect x="359" y="415.8" width="2" height="3.7" fill="#1e7fd0"/><rect x="360" y="415.9" width="2" height="3.6" fill="#1e7fd0"/><rect x="362" y="416.5" width="2" height="3.0" fill="#1e7fd0"/><rect x="363" y="416.9" width="2" height="2.6" fill="#1e7fd0"/><rect x="364" y="417.3" width="2" height="2.2" fill="#1e7fd0"/><rect x="365" y="417.5" width="2" height="2.0" fill="#1e7fd0"/><rect x="366" y="417.7" width="2" height="1.8" fill="#1e7fd0"/><rect x="367" y="418.0" width="2" height="1.5" fill="#1e7fd0"/><rect x="368" y="418.3" width="2" height="1.2" fill="#1e7fd0"/><rect x="369" y="418.3" width="2" height="1.2" fill="#1e7fd0"/><rect x="371" y="419.5" width="2" height="1.2" fill="#d50f1f"/><rect x="374" y="419.5" width="2" height="1.4" fill="#d50f1f"/><rect x="375" y="419.5" width="2" height="1.6" fill="#d50f1f"/><rect x="376" y="419.5" width="2" height="2.0" fill="#d50f1f"/><rect x="377" y="419.5" width="2" height="2.4" fill="#d50f1f"/><rect x="378" y="419.5" width="2" height="2.7" fill="#d50f1f"/><rect x="380" y="419.5" width="2" height="2.9" fill="#d50f1f"/><rect x="381" y="419.5" width="2" height="3.1" fill="#d50f1f"/><rect x="382" y="419.5" width="2" height="3.2" fill="#d50f1f"/><rect x="383" y="419.5" width="2" height="3.3" fill="#d50f1f"/><rect x="384" y="419.5" width="2" height="3.4" fill="#d50f1f"/><rect x="385" y="419.5" width="2" height="3.4" fill="#d50f1f"/><rect x="386" y="419.5" width="2" height="3.0" fill="#d50f1f"/><rect x="387" y="419.5" width="2" height="2.7" fill="#d50f1f"/><rect x="389" y="419.5" width="2" height="2.4" fill="#d50f1f"/><rect x="390" y="419.5" width="2" height="2.3" fill="#d50f1f"/><rect x="391" y="419.5" width="2" height="2.1" fill="#d50f1f"/><rect x="392" y="419.5" width="2" height="2.0" fill="#d50f1f"/><rect x="393" y="419.5" width="2" height="1.9" fill="#d50f1f"/><rect x="394" y="419.5" width="2" height="1.8" fill="#d50f1f"/><rect x="395" y="419.5" width="2" height="1.6" fill="#d50f1f"/><rect x="396" y="419.5" width="2" height="1.2" fill="#d50f1f"/><rect x="398" y="419.5" width="2" height="1.2" fill="#d50f1f"/><rect x="401" y="418.3" width="2" height="1.2" fill="#1e7fd0"/><rect x="402" y="418.3" width="2" height="1.2" fill="#1e7fd0"/><rect x="403" y="418.3" width="2" height="1.2" fill="#1e7fd0"/><rect x="404" y="418.3" width="2" height="1.2" fill="#1e7fd0"/><rect x="407" y="417.9" width="2" height="1.6" fill="#1e7fd0"/><rect x="408" y="417.5" width="2" height="2.0" fill="#1e7fd0"/><rect x="409" y="417.1" width="2" height="2.4" fill="#1e7fd0"/><rect x="410" y="416.8" width="2" height="2.7" fill="#1e7fd0"/><rect x="411" y="416.6" width="2" height="2.9" fill="#1e7fd0"/><rect x="412" y="416.4" width="2" height="3.1" fill="#1e7fd0"/><rect x="413" y="416.3" width="2" height="3.2" fill="#1e7fd0"/><rect x="414" y="416.2" width="2" height="3.3" fill="#1e7fd0"/><rect x="416" y="415.6" width="2" height="3.9" fill="#1e7fd0"/><rect x="417" y="414.5" width="2" height="5.0" fill="#1e7fd0"/><rect x="418" y="413.6" width="2" height="5.9" fill="#1e7fd0"/><rect x="419" y="412.9" width="2" height="6.6" fill="#1e7fd0"/><rect x="420" y="412.4" width="2" height="7.1" fill="#1e7fd0"/><rect x="421" y="412.0" width="2" height="7.5" fill="#1e7fd0"/><rect x="422" y="412.0" width="2" height="7.5" fill="#1e7fd0"/><rect x="423" y="412.9" width="2" height="6.6" fill="#1e7fd0"/><rect x="425" y="413.7" width="2" height="5.8" fill="#1e7fd0"/><rect x="426" y="414.3" width="2" height="5.2" fill="#1e7fd0"/><rect x="427" y="414.7" width="2" height="4.8" fill="#1e7fd0"/><rect x="428" y="415.1" width="2" height="4.4" fill="#1e7fd0"/><rect x="429" y="416.4" width="2" height="3.1" fill="#1e7fd0"/><rect x="430" y="417.5" width="2" height="2.0" fill="#1e7fd0"/><rect x="431" y="418.3" width="2" height="1.2" fill="#1e7fd0"/><rect x="435" y="419.5" width="2" height="1.2" fill="#d50f1f"/><rect x="436" y="419.5" width="2" height="1.2" fill="#d50f1f"/><rect x="437" y="419.5" width="2" height="1.2" fill="#d50f1f"/><rect x="438" y="419.5" width="2" height="1.3" fill="#d50f1f"/><rect x="439" y="419.5" width="2" height="1.4" fill="#d50f1f"/><rect x="440" y="419.5" width="2" height="1.7" fill="#d50f1f"/><rect x="441" y="419.5" width="2" height="2.5" fill="#d50f1f"/><rect x="442" y="419.5" width="2" height="3.1" fill="#d50f1f"/><rect x="444" y="419.5" width="2" height="3.6" fill="#d50f1f"/><rect x="445" y="419.5" width="2" height="4.0" fill="#d50f1f"/><rect x="446" y="419.5" width="2" height="4.1" fill="#d50f1f"/><rect x="447" y="419.5" width="2" height="4.2" fill="#d50f1f"/><rect x="448" y="419.5" width="2" height="4.3" fill="#d50f1f"/><rect x="449" y="419.5" width="2" height="4.3" fill="#d50f1f"/><rect x="450" y="419.5" width="2" height="4.3" fill="#d50f1f"/><rect x="451" y="419.5" width="2" height="4.4" fill="#d50f1f"/><rect x="453" y="419.5" width="2" height="4.0" fill="#d50f1f"/><rect x="454" y="419.5" width="2" height="3.4" fill="#d50f1f"/><rect x="455" y="419.5" width="2" height="3.0" fill="#d50f1f"/><rect x="456" y="419.5" width="2" height="2.6" fill="#d50f1f"/><rect x="457" y="419.5" width="2" height="2.3" fill="#d50f1f"/><rect x="458" y="419.5" width="2" height="2.1" fill="#d50f1f"/><rect x="459" y="419.5" width="2" height="1.9" fill="#d50f1f"/><rect x="460" y="419.5" width="2" height="1.5" fill="#d50f1f"/><rect x="462" y="419.5" width="2" height="1.2" fill="#d50f1f"/><rect x="463" y="419.5" width="2" height="1.2" fill="#d50f1f"/><rect x="464" y="418.3" width="2" height="1.2" fill="#1e7fd0"/><rect x="465" y="418.3" width="2" height="1.2" fill="#1e7fd0"/><rect x="468" y="418.3" width="2" height="1.2" fill="#1e7fd0"/><rect x="469" y="418.3" width="2" height="1.2" fill="#1e7fd0"/><rect x="471" y="418.3" width="2" height="1.2" fill="#1e7fd0"/><rect x="472" y="418.3" width="2" height="1.2" fill="#1e7fd0"/><rect x="475" y="418.3" width="2" height="1.2" fill="#1e7fd0"/><rect x="476" y="418.3" width="2" height="1.2" fill="#1e7fd0"/><rect x="477" y="418.3" width="2" height="1.2" fill="#1e7fd0"/><rect x="478" y="418.3" width="2" height="1.2" fill="#1e7fd0"/><rect x="482" y="418.3" width="2" height="1.2" fill="#1e7fd0"/><rect x="483" y="418.3" width="2" height="1.2" fill="#1e7fd0"/><rect x="484" y="419.5" width="2" height="1.2" fill="#d50f1f"/><rect x="485" y="419.5" width="2" height="1.2" fill="#d50f1f"/><rect x="489" y="419.5" width="2" height="1.2" fill="#d50f1f"/><rect x="490" y="419.5" width="2" height="1.2" fill="#d50f1f"/><rect x="491" y="419.5" width="2" height="1.2" fill="#d50f1f"/><rect x="492" y="419.5" width="2" height="1.2" fill="#d50f1f"/><rect x="495" y="419.5" width="2" height="1.3" fill="#d50f1f"/><rect x="496" y="419.5" width="2" height="1.3" fill="#d50f1f"/><rect x="498" y="419.5" width="2" height="1.4" fill="#d50f1f"/><rect x="499" y="419.5" width="2" height="1.4" fill="#d50f1f"/><rect x="500" y="419.5" width="2" height="1.5" fill="#d50f1f"/><rect x="501" y="419.5" width="2" height="1.3" fill="#d50f1f"/><rect x="502" y="419.5" width="2" height="1.2" fill="#d50f1f"/><rect x="503" y="419.5" width="2" height="1.2" fill="#d50f1f"/><rect x="504" y="419.5" width="2" height="1.2" fill="#d50f1f"/><rect x="505" y="419.5" width="2" height="1.2" fill="#d50f1f"/><rect x="509" y="419.5" width="2" height="1.2" fill="#d50f1f"/><rect x="510" y="419.5" width="2" height="1.2" fill="#d50f1f"/><rect x="511" y="419.5" width="2" height="1.2" fill="#d50f1f"/><rect x="512" y="419.5" width="2" height="1.2" fill="#d50f1f"/><rect x="516" y="419.5" width="2" height="1.2" fill="#d50f1f"/><rect x="517" y="419.5" width="2" height="1.2" fill="#d50f1f"/><rect x="518" y="419.5" width="2" height="1.2" fill="#d50f1f"/><rect x="519" y="419.5" width="2" height="1.4" fill="#d50f1f"/><rect x="520" y="419.5" width="2" height="1.5" fill="#d50f1f"/><rect x="521" y="419.5" width="2" height="1.7" fill="#d50f1f"/><rect x="522" y="419.5" width="2" height="1.8" fill="#d50f1f"/><rect x="523" y="419.5" width="2" height="1.8" fill="#d50f1f"/><rect x="525" y="419.5" width="2" height="1.9" fill="#d50f1f"/><rect x="526" y="419.5" width="2" height="1.8" fill="#d50f1f"/><rect x="527" y="419.5" width="2" height="1.6" fill="#d50f1f"/><rect x="528" y="419.5" width="2" height="1.5" fill="#d50f1f"/><rect x="529" y="419.5" width="2" height="1.4" fill="#d50f1f"/><rect x="530" y="419.5" width="2" height="1.2" fill="#d50f1f"/><rect x="531" y="419.5" width="2" height="1.2" fill="#d50f1f"/><rect x="532" y="419.5" width="2" height="1.2" fill="#d50f1f"/><rect x="536" y="418.3" width="2" height="1.2" fill="#1e7fd0"/><rect x="537" y="418.3" width="2" height="1.2" fill="#1e7fd0"/><rect x="538" y="418.3" width="2" height="1.2" fill="#1e7fd0"/><rect x="539" y="418.3" width="2" height="1.2" fill="#1e7fd0"/><rect x="540" y="418.1" width="2" height="1.4" fill="#1e7fd0"/><rect x="541" y="417.6" width="2" height="1.9" fill="#1e7fd0"/><rect x="543" y="417.2" width="2" height="2.3" fill="#1e7fd0"/><rect x="544" y="416.9" width="2" height="2.6" fill="#1e7fd0"/><rect x="545" y="416.6" width="2" height="2.9" fill="#1e7fd0"/><rect x="546" y="416.4" width="2" height="3.1" fill="#1e7fd0"/><rect x="547" y="416.2" width="2" height="3.3" fill="#1e7fd0"/><rect x="548" y="414.7" width="2" height="4.8" fill="#1e7fd0"/><rect x="549" y="413.4" width="2" height="6.1" fill="#1e7fd0"/><rect x="550" y="412.5" width="2" height="7.0" fill="#1e7fd0"/><rect x="552" y="411.7" width="2" height="7.8" fill="#1e7fd0"/><rect x="553" y="411.7" width="2" height="7.8" fill="#1e7fd0"/><rect x="554" y="412.0" width="2" height="7.5" fill="#1e7fd0"/><rect x="555" y="412.3" width="2" height="7.2" fill="#1e7fd0"/><rect x="556" y="412.6" width="2" height="6.9" fill="#1e7fd0"/><rect x="557" y="412.7" width="2" height="6.8" fill="#1e7fd0"/><rect x="558" y="413.2" width="2" height="6.3" fill="#1e7fd0"/><rect x="559" y="415.0" width="2" height="4.5" fill="#1e7fd0"/><rect x="561" y="416.3" width="2" height="3.2" fill="#1e7fd0"/><rect x="562" y="417.3" width="2" height="2.2" fill="#1e7fd0"/><rect x="563" y="418.1" width="2" height="1.4" fill="#1e7fd0"/><rect x="564" y="418.3" width="2" height="1.2" fill="#1e7fd0"/><rect x="565" y="418.3" width="2" height="1.2" fill="#1e7fd0"/><rect x="566" y="419.5" width="2" height="1.2" fill="#d50f1f"/><rect x="567" y="419.5" width="2" height="1.9" fill="#d50f1f"/><rect x="568" y="419.5" width="2" height="2.7" fill="#d50f1f"/><rect x="569" y="419.5" width="2" height="3.2" fill="#d50f1f"/><rect x="571" y="419.5" width="2" height="4.1" fill="#d50f1f"/><rect x="572" y="419.5" width="2" height="5.0" fill="#d50f1f"/><rect x="573" y="419.5" width="2" height="5.7" fill="#d50f1f"/><rect x="574" y="419.5" width="2" height="6.3" fill="#d50f1f"/><rect x="575" y="419.5" width="2" height="6.6" fill="#d50f1f"/><rect x="576" y="419.5" width="2" height="5.6" fill="#d50f1f"/><rect x="577" y="419.5" width="2" height="4.9" fill="#d50f1f"/><rect x="578" y="419.5" width="2" height="4.2" fill="#d50f1f"/><rect x="580" y="419.5" width="2" height="3.8" fill="#d50f1f"/><rect x="581" y="419.5" width="2" height="3.4" fill="#d50f1f"/><rect x="582" y="419.5" width="2" height="3.1" fill="#d50f1f"/><rect x="583" y="419.5" width="2" height="2.9" fill="#d50f1f"/><rect x="584" y="419.5" width="2" height="2.7" fill="#d50f1f"/><rect x="585" y="419.5" width="2" height="2.5" fill="#d50f1f"/><rect x="586" y="419.5" width="2" height="2.2" fill="#d50f1f"/><rect x="587" y="419.5" width="2" height="1.9" fill="#d50f1f"/><rect x="589" y="419.5" width="2" height="1.8" fill="#d50f1f"/><rect x="590" y="419.5" width="2" height="1.6" fill="#d50f1f"/><rect x="591" y="419.5" width="2" height="1.5" fill="#d50f1f"/><rect x="592" y="419.5" width="2" height="1.4" fill="#d50f1f"/><rect x="593" y="419.5" width="2" height="1.3" fill="#d50f1f"/><rect x="594" y="419.5" width="2" height="1.2" fill="#d50f1f"/><rect x="596" y="419.5" width="2" height="1.2" fill="#d50f1f"/><rect x="598" y="419.5" width="2" height="1.2" fill="#d50f1f"/><rect x="599" y="419.5" width="2" height="1.2" fill="#d50f1f"/><rect x="600" y="419.5" width="2" height="1.2" fill="#d50f1f"/><rect x="603" y="419.5" width="2" height="1.2" fill="#d50f1f"/><rect x="604" y="419.5" width="2" height="1.3" fill="#d50f1f"/><rect x="605" y="419.5" width="2" height="1.4" fill="#d50f1f"/><rect x="607" y="419.5" width="2" height="1.5" fill="#d50f1f"/><rect x="608" y="419.5" width="2" height="1.6" fill="#d50f1f"/><rect x="609" y="419.5" width="2" height="1.7" fill="#d50f1f"/><rect x="610" y="419.5" width="2" height="1.7" fill="#d50f1f"/><rect x="611" y="419.5" width="2" height="1.3" fill="#d50f1f"/><rect x="612" y="419.5" width="2" height="1.2" fill="#d50f1f"/><rect x="613" y="419.5" width="2" height="1.2" fill="#d50f1f"/><rect x="617" y="419.5" width="2" height="1.2" fill="#d50f1f"/><rect x="618" y="418.3" width="2" height="1.2" fill="#1e7fd0"/><rect x="619" y="418.3" width="2" height="1.2" fill="#1e7fd0"/><rect x="620" y="418.3" width="2" height="1.2" fill="#1e7fd0"/><rect x="623" y="419.5" width="2" height="1.5" fill="#d50f1f"/><rect x="625" y="419.5" width="2" height="1.9" fill="#d50f1f"/><rect x="626" y="419.5" width="2" height="2.6" fill="#d50f1f"/><rect x="627" y="419.5" width="2" height="3.6" fill="#d50f1f"/><rect x="628" y="419.5" width="2" height="4.3" fill="#d50f1f"/><rect x="629" y="419.5" width="2" height="4.8" fill="#d50f1f"/><rect x="630" y="419.5" width="2" height="4.9" fill="#d50f1f"/><rect x="631" y="419.5" width="2" height="3.6" fill="#d50f1f"/><rect x="632" y="419.5" width="2" height="2.5" fill="#d50f1f"/><rect x="634" y="419.5" width="2" height="1.7" fill="#d50f1f"/><rect x="637" y="419.5" width="2" height="1.2" fill="#d50f1f"/><rect x="638" y="418.3" width="2" height="1.2" fill="#1e7fd0"/><rect x="639" y="418.3" width="2" height="1.2" fill="#1e7fd0"/><rect x="640" y="418.3" width="2" height="1.2" fill="#1e7fd0"/><rect x="644" y="418.3" width="2" height="1.2" fill="#1e7fd0"/><rect x="645" y="418.3" width="2" height="1.2" fill="#1e7fd0"/><rect x="646" y="418.3" width="2" height="1.2" fill="#1e7fd0"/><rect x="647" y="418.3" width="2" height="1.2" fill="#1e7fd0"/><rect x="650" y="418.3" width="2" height="1.2" fill="#1e7fd0"/><rect x="652" y="417.3" width="2" height="2.2" fill="#1e7fd0"/><rect x="653" y="416.4" width="2" height="3.1" fill="#1e7fd0"/><rect x="654" y="415.7" width="2" height="3.8" fill="#1e7fd0"/><rect x="655" y="415.2" width="2" height="4.3" fill="#1e7fd0"/><rect x="656" y="415.0" width="2" height="4.5" fill="#1e7fd0"/><rect x="657" y="414.8" width="2" height="4.7" fill="#1e7fd0"/><rect x="658" y="414.7" width="2" height="4.8" fill="#1e7fd0"/><rect x="659" y="414.6" width="2" height="4.9" fill="#1e7fd0"/><rect x="661" y="414.9" width="2" height="4.6" fill="#1e7fd0"/><rect x="662" y="415.7" width="2" height="3.8" fill="#1e7fd0"/><rect x="663" y="416.3" width="2" height="3.2" fill="#1e7fd0"/><rect x="664" y="416.8" width="2" height="2.7" fill="#1e7fd0"/><rect x="665" y="417.2" width="2" height="2.3" fill="#1e7fd0"/><rect x="666" y="417.4" width="2" height="2.1" fill="#1e7fd0"/><rect x="667" y="417.7" width="2" height="1.8" fill="#1e7fd0"/><rect x="668" y="417.8" width="2" height="1.7" fill="#1e7fd0"/><rect x="670" y="418.0" width="2" height="1.5" fill="#1e7fd0"/><rect x="671" y="418.3" width="2" height="1.2" fill="#1e7fd0"/><rect x="672" y="418.3" width="2" height="1.2" fill="#1e7fd0"/><rect x="673" y="418.3" width="2" height="1.2" fill="#1e7fd0"/><rect x="674" y="418.3" width="2" height="1.2" fill="#1e7fd0"/><rect x="677" y="418.3" width="2" height="1.2" fill="#1e7fd0"/><rect x="679" y="419.5" width="2" height="1.2" fill="#d50f1f"/><rect x="680" y="419.5" width="2" height="1.2" fill="#d50f1f"/><rect x="681" y="419.5" width="2" height="1.2" fill="#d50f1f"/><rect x="684" y="419.5" width="2" height="1.2" fill="#d50f1f"/><rect x="685" y="419.5" width="2" height="1.2" fill="#d50f1f"/><rect x="686" y="419.5" width="2" height="1.2" fill="#d50f1f"/><rect x="688" y="419.5" width="2" height="1.2" fill="#d50f1f"/><rect x="691" y="419.5" width="2" height="1.2" fill="#d50f1f"/><rect x="692" y="419.5" width="2" height="1.2" fill="#d50f1f"/><rect x="693" y="419.5" width="2" height="1.2" fill="#d50f1f"/><rect x="694" y="419.5" width="2" height="1.2" fill="#d50f1f"/><rect x="698" y="419.5" width="2" height="1.2" fill="#d50f1f"/><rect x="699" y="419.5" width="2" height="1.2" fill="#d50f1f"/><rect x="700" y="419.5" width="2" height="1.2" fill="#d50f1f"/><rect x="701" y="419.5" width="2" height="1.2" fill="#d50f1f"/><rect x="702" y="419.5" width="2" height="1.2" fill="#d50f1f"/><rect x="703" y="419.5" width="2" height="1.3" fill="#d50f1f"/><rect x="704" y="419.5" width="2" height="1.4" fill="#d50f1f"/><rect x="706" y="419.5" width="2" height="1.4" fill="#d50f1f"/><rect x="707" y="419.5" width="2" height="1.5" fill="#d50f1f"/><rect x="708" y="419.5" width="2" height="1.5" fill="#d50f1f"/><rect x="709" y="419.5" width="2" height="1.5" fill="#d50f1f"/><rect x="710" y="419.5" width="2" height="1.5" fill="#d50f1f"/><rect x="711" y="419.5" width="2" height="1.2" fill="#d50f1f"/><rect x="712" y="419.5" width="2" height="1.2" fill="#d50f1f"/><rect x="713" y="419.5" width="2" height="1.2" fill="#d50f1f"/><rect x="714" y="419.5" width="2" height="1.2" fill="#d50f1f"/><rect x="718" y="419.5" width="2" height="1.2" fill="#d50f1f"/><rect x="719" y="419.5" width="2" height="1.2" fill="#d50f1f"/><rect x="720" y="419.5" width="2" height="1.2" fill="#d50f1f"/><rect x="721" y="418.3" width="2" height="1.2" fill="#1e7fd0"/><rect x="723" y="417.9" width="2" height="1.6" fill="#1e7fd0"/><rect x="725" y="417.5" width="2" height="2.0" fill="#1e7fd0"/><rect x="726" y="417.3" width="2" height="2.2" fill="#1e7fd0"/><rect x="727" y="417.1" width="2" height="2.4" fill="#1e7fd0"/><rect x="728" y="417.0" width="2" height="2.5" fill="#1e7fd0"/><rect x="729" y="416.9" width="2" height="2.6" fill="#1e7fd0"/><rect x="730" y="416.8" width="2" height="2.7" fill="#1e7fd0"/><rect x="731" y="416.7" width="2" height="2.8" fill="#1e7fd0"/><rect x="732" y="417.3" width="2" height="2.2" fill="#1e7fd0"/><rect x="734" y="418.3" width="2" height="1.2" fill="#1e7fd0"/><rect x="735" y="418.3" width="2" height="1.2" fill="#1e7fd0"/><rect x="738" y="419.5" width="2" height="1.9" fill="#d50f1f"/><rect x="739" y="419.5" width="2" height="2.5" fill="#d50f1f"/><rect x="740" y="419.5" width="2" height="2.9" fill="#d50f1f"/><rect x="741" y="419.5" width="2" height="3.3" fill="#d50f1f"/><rect x="743" y="419.5" width="2" height="3.6" fill="#d50f1f"/><rect x="744" y="419.5" width="2" height="3.8" fill="#d50f1f"/><rect x="745" y="419.5" width="2" height="4.0" fill="#d50f1f"/><rect x="746" y="419.5" width="2" height="3.3" fill="#d50f1f"/><rect x="747" y="419.5" width="2" height="2.7" fill="#d50f1f"/><rect x="748" y="419.5" width="2" height="2.2" fill="#d50f1f"/><rect x="749" y="419.5" width="2" height="1.9" fill="#d50f1f"/><rect x="750" y="419.5" width="2" height="1.6" fill="#d50f1f"/><rect x="752" y="419.5" width="2" height="1.4" fill="#d50f1f"/><rect x="753" y="419.5" width="2" height="1.2" fill="#d50f1f"/><rect x="754" y="419.5" width="2" height="1.2" fill="#d50f1f"/><rect x="755" y="419.5" width="2" height="1.2" fill="#d50f1f"/><rect x="758" y="418.3" width="2" height="1.2" fill="#1e7fd0"/><rect x="759" y="418.3" width="2" height="1.2" fill="#1e7fd0"/><rect x="761" y="418.2" width="2" height="1.3" fill="#1e7fd0"/><rect x="762" y="418.0" width="2" height="1.5" fill="#1e7fd0"/><rect x="763" y="417.9" width="2" height="1.6" fill="#1e7fd0"/><rect x="764" y="418.0" width="2" height="1.5" fill="#1e7fd0"/><rect x="765" y="418.0" width="2" height="1.5" fill="#1e7fd0"/><rect x="766" y="418.1" width="2" height="1.4" fill="#1e7fd0"/><rect x="767" y="418.1" width="2" height="1.4" fill="#1e7fd0"/><rect x="768" y="418.1" width="2" height="1.4" fill="#1e7fd0"/><rect x="770" y="418.1" width="2" height="1.4" fill="#1e7fd0"/><rect x="772" y="418.3" width="2" height="1.2" fill="#1e7fd0"/><rect x="773" y="419.5" width="2" height="1.2" fill="#d50f1f"/><rect x="774" y="419.5" width="2" height="1.2" fill="#d50f1f"/><rect x="775" y="419.5" width="2" height="1.2" fill="#d50f1f"/><rect x="779" y="419.5" width="2" height="1.2" fill="#d50f1f"/><rect x="780" y="419.5" width="2" height="1.2" fill="#d50f1f"/><rect x="781" y="419.5" width="2" height="1.3" fill="#d50f1f"/><rect x="782" y="419.5" width="2" height="1.3" fill="#d50f1f"/><rect x="783" y="419.5" width="2" height="1.3" fill="#d50f1f"/><rect x="784" y="419.5" width="2" height="1.4" fill="#d50f1f"/><rect x="785" y="419.5" width="2" height="1.4" fill="#d50f1f"/><rect x="786" y="419.5" width="2" height="1.2" fill="#d50f1f"/><rect x="788" y="419.5" width="2" height="1.2" fill="#d50f1f"/><rect x="789" y="419.5" width="2" height="1.2" fill="#d50f1f"/><rect x="792" y="418.3" width="2" height="1.2" fill="#1e7fd0"/><rect x="793" y="418.3" width="2" height="1.2" fill="#1e7fd0"/><rect x="794" y="418.3" width="2" height="1.2" fill="#1e7fd0"/><rect x="795" y="418.3" width="2" height="1.2" fill="#1e7fd0"/><rect x="797" y="418.2" width="2" height="1.3" fill="#1e7fd0"/><rect x="798" y="418.2" width="2" height="1.3" fill="#1e7fd0"/><rect x="799" y="418.1" width="2" height="1.4" fill="#1e7fd0"/><rect x="800" y="418.1" width="2" height="1.4" fill="#1e7fd0"/><rect x="801" y="418.1" width="2" height="1.4" fill="#1e7fd0"/><rect x="802" y="418.0" width="2" height="1.5" fill="#1e7fd0"/><rect x="803" y="418.0" width="2" height="1.5" fill="#1e7fd0"/><rect x="804" y="418.0" width="2" height="1.5" fill="#1e7fd0"/><rect x="806" y="417.8" width="2" height="1.7" fill="#1e7fd0"/><rect x="807" y="417.4" width="2" height="2.1" fill="#1e7fd0"/><rect x="808" y="417.1" width="2" height="2.4" fill="#1e7fd0"/><rect x="809" y="416.9" width="2" height="2.6" fill="#1e7fd0"/><rect x="810" y="416.7" width="2" height="2.8" fill="#1e7fd0"/><rect x="811" y="416.5" width="2" height="3.0" fill="#1e7fd0"/><rect x="812" y="416.6" width="2" height="2.9" fill="#1e7fd0"/><rect x="813" y="417.5" width="2" height="2.0" fill="#1e7fd0"/><rect x="815" y="418.1" width="2" height="1.4" fill="#1e7fd0"/><rect x="816" y="418.3" width="2" height="1.2" fill="#1e7fd0"/><rect x="819" y="418.3" width="2" height="1.2" fill="#1e7fd0"/><rect x="820" y="419.5" width="2" height="1.2" fill="#d50f1f"/><rect x="821" y="419.5" width="2" height="1.2" fill="#d50f1f"/><rect x="822" y="419.5" width="2" height="1.2" fill="#d50f1f"/><rect x="825" y="419.5" width="2" height="1.2" fill="#d50f1f"/><rect x="826" y="419.5" width="2" height="1.3" fill="#d50f1f"/><rect x="827" y="419.5" width="2" height="1.4" fill="#d50f1f"/><rect x="828" y="419.5" width="2" height="1.5" fill="#d50f1f"/><rect x="829" y="419.5" width="2" height="1.6" fill="#d50f1f"/><rect x="830" y="419.5" width="2" height="1.7" fill="#d50f1f"/><rect x="831" y="419.5" width="2" height="1.9" fill="#d50f1f"/><rect x="833" y="419.5" width="2" height="2.0" fill="#d50f1f"/><rect x="834" y="419.5" width="2" height="2.2" fill="#d50f1f"/><rect x="835" y="419.5" width="2" height="2.3" fill="#d50f1f"/><rect x="836" y="419.5" width="2" height="2.3" fill="#d50f1f"/><rect x="837" y="419.5" width="2" height="2.4" fill="#d50f1f"/><rect x="838" y="419.5" width="2" height="2.4" fill="#d50f1f"/><rect x="839" y="419.5" width="2" height="1.7" fill="#d50f1f"/><rect x="840" y="419.5" width="2" height="1.3" fill="#d50f1f"/><rect x="842" y="419.5" width="2" height="1.2" fill="#d50f1f"/><rect x="843" y="419.5" width="2" height="1.2" fill="#d50f1f"/><rect x="846" y="419.5" width="2" height="1.2" fill="#d50f1f"/><rect x="847" y="418.3" width="2" height="1.2" fill="#1e7fd0"/><rect x="848" y="418.3" width="2" height="1.2" fill="#1e7fd0"/><rect x="849" y="418.3" width="2" height="1.2" fill="#1e7fd0"/><rect x="853" y="418.3" width="2" height="1.2" fill="#1e7fd0"/><rect x="854" y="418.3" width="2" height="1.2" fill="#1e7fd0"/><rect x="855" y="418.3" width="2" height="1.2" fill="#1e7fd0"/><rect x="856" y="418.3" width="2" height="1.2" fill="#1e7fd0"/><rect x="859" y="418.3" width="2" height="1.2" fill="#1e7fd0"/><rect x="861" y="418.3" width="2" height="1.2" fill="#1e7fd0"/><rect x="862" y="418.3" width="2" height="1.2" fill="#1e7fd0"/><rect x="863" y="418.3" width="2" height="1.2" fill="#1e7fd0"/><rect x="866" y="418.3" width="2" height="1.2" fill="#1e7fd0"/><rect x="867" y="418.3" width="2" height="1.2" fill="#1e7fd0"/><rect x="868" y="418.3" width="2" height="1.2" fill="#1e7fd0"/><rect x="870" y="418.3" width="2" height="1.2" fill="#1e7fd0"/><rect x="873" y="418.3" width="2" height="1.2" fill="#1e7fd0"/><rect x="874" y="418.3" width="2" height="1.2" fill="#1e7fd0"/><rect x="875" y="418.3" width="2" height="1.2" fill="#1e7fd0"/><rect x="876" y="418.3" width="2" height="1.2" fill="#1e7fd0"/><rect x="880" y="418.3" width="2" height="1.2" fill="#1e7fd0"/><rect x="881" y="418.3" width="2" height="1.2" fill="#1e7fd0"/><rect x="882" y="418.3" width="2" height="1.2" fill="#1e7fd0"/><rect x="883" y="418.3" width="2" height="1.2" fill="#1e7fd0"/><rect x="886" y="418.3" width="2" height="1.2" fill="#1e7fd0"/><rect x="888" y="418.3" width="2" height="1.2" fill="#1e7fd0"/><rect x="889" y="418.3" width="2" height="1.2" fill="#1e7fd0"/><rect x="890" y="418.3" width="2" height="1.2" fill="#1e7fd0"/><rect x="893" y="418.3" width="2" height="1.2" fill="#1e7fd0"/><rect x="894" y="418.3" width="2" height="1.2" fill="#1e7fd0"/><rect x="895" y="418.3" width="2" height="1.2" fill="#1e7fd0"/><rect x="897" y="418.3" width="2" height="1.2" fill="#1e7fd0"/><rect x="898" y="418.3" width="2" height="1.2" fill="#1e7fd0"/><rect x="899" y="418.0" width="2" height="1.5" fill="#1e7fd0"/><rect x="900" y="417.8" width="2" height="1.7" fill="#1e7fd0"/><rect x="901" y="417.7" width="2" height="1.8" fill="#1e7fd0"/><rect x="902" y="417.6" width="2" height="1.9" fill="#1e7fd0"/><rect x="903" y="417.5" width="2" height="2.0" fill="#1e7fd0"/><rect x="904" y="417.4" width="2" height="2.1" fill="#1e7fd0"/><rect x="906" y="417.5" width="2" height="2.0" fill="#1e7fd0"/><rect x="907" y="417.7" width="2" height="1.8" fill="#1e7fd0"/><rect x="908" y="417.9" width="2" height="1.6" fill="#1e7fd0"/><rect x="909" y="418.1" width="2" height="1.4" fill="#1e7fd0"/><rect x="910" y="418.2" width="2" height="1.3" fill="#1e7fd0"/><rect x="911" y="418.3" width="2" height="1.2" fill="#1e7fd0"/><rect x="913" y="418.3" width="2" height="1.2" fill="#1e7fd0"/><rect x="915" y="419.5" width="2" height="1.2" fill="#d50f1f"/><rect x="916" y="419.5" width="2" height="1.2" fill="#d50f1f"/><rect x="917" y="419.5" width="2" height="1.2" fill="#d50f1f"/><rect x="920" y="419.5" width="2" height="1.2" fill="#d50f1f"/><rect x="921" y="419.5" width="2" height="1.3" fill="#d50f1f"/><rect x="922" y="419.5" width="2" height="1.4" fill="#d50f1f"/><rect x="924" y="419.5" width="2" height="1.5" fill="#d50f1f"/><rect x="925" y="419.5" width="2" height="1.5" fill="#d50f1f"/><rect x="926" y="419.5" width="2" height="1.6" fill="#d50f1f"/><rect x="927" y="419.5" width="2" height="1.6" fill="#d50f1f"/><rect x="928" y="419.5" width="2" height="1.6" fill="#d50f1f"/><rect x="929" y="419.5" width="2" height="1.6" fill="#d50f1f"/><rect x="930" y="419.5" width="2" height="1.6" fill="#d50f1f"/><rect x="931" y="419.5" width="2" height="1.7" fill="#d50f1f"/><rect x="934" y="418.3" width="2" height="1.2" fill="#1e7fd0"/><rect x="935" y="418.0" width="2" height="1.5" fill="#1e7fd0"/><rect x="936" y="417.1" width="2" height="2.4" fill="#1e7fd0"/><rect x="937" y="416.5" width="2" height="3.0" fill="#1e7fd0"/><rect x="938" y="416.1" width="2" height="3.4" fill="#1e7fd0"/><rect x="939" y="416.4" width="2" height="3.1" fill="#1e7fd0"/><rect x="940" y="416.6" width="2" height="2.9" fill="#1e7fd0"/><rect x="942" y="416.7" width="2" height="2.8" fill="#1e7fd0"/><rect x="943" y="416.9" width="2" height="2.6" fill="#1e7fd0"/><rect x="944" y="417.2" width="2" height="2.3" fill="#1e7fd0"/><rect x="945" y="417.5" width="2" height="2.0" fill="#1e7fd0"/><rect x="946" y="417.7" width="2" height="1.8" fill="#1e7fd0"/><rect x="947" y="417.9" width="2" height="1.6" fill="#1e7fd0"/><rect x="948" y="418.1" width="2" height="1.4" fill="#1e7fd0"/><rect x="949" y="418.2" width="2" height="1.3" fill="#1e7fd0"/><rect x="951" y="418.3" width="2" height="1.2" fill="#1e7fd0"/><rect x="954" y="418.3" width="2" height="1.2" fill="#1e7fd0"/><rect x="955" y="419.5" width="2" height="1.2" fill="#d50f1f"/><rect x="956" y="419.5" width="2" height="1.2" fill="#d50f1f"/><rect x="957" y="419.5" width="2" height="1.2" fill="#d50f1f"/><rect x="960" y="419.5" width="2" height="1.2" fill="#d50f1f"/><rect x="961" y="419.5" width="2" height="1.7" fill="#d50f1f"/><rect x="962" y="419.5" width="2" height="2.1" fill="#d50f1f"/><rect x="963" y="419.5" width="2" height="1.7" fill="#d50f1f"/><rect x="964" y="419.5" width="2" height="1.2" fill="#d50f1f"/><rect x="967" y="419.5" width="2" height="1.2" fill="#d50f1f"/><rect x="969" y="419.5" width="2" height="1.2" fill="#d50f1f"/><rect x="970" y="419.5" width="2" height="1.2" fill="#d50f1f"/><rect x="971" y="419.5" width="2" height="1.2" fill="#d50f1f"/><rect x="974" y="419.5" width="2" height="1.3" fill="#d50f1f"/><rect x="975" y="419.5" width="2" height="1.4" fill="#d50f1f"/><rect x="976" y="419.5" width="2" height="1.4" fill="#d50f1f"/><rect x="978" y="419.5" width="2" height="1.5" fill="#d50f1f"/><rect x="979" y="419.5" width="2" height="1.5" fill="#d50f1f"/><rect x="980" y="419.5" width="2" height="1.6" fill="#d50f1f"/><rect x="981" y="419.5" width="2" height="1.6" fill="#d50f1f"/><rect x="982" y="419.5" width="2" height="1.6" fill="#d50f1f"/><rect x="983" y="419.5" width="2" height="1.6" fill="#d50f1f"/></g>
<polyline points="3.0,422.9 4.1,421.9 5.2,420.9 6.4,419.9 7.5,418.9 8.6,417.8 9.7,416.8 10.9,416.8 12.0,417.0 13.1,417.3 14.2,417.5 15.4,418.2 16.5,419.9 17.6,421.5 18.7,423.2 19.9,424.8 21.0,426.0 22.1,427.2 23.2,428.4 24.4,429.6 25.5,430.7 26.6,431.6 27.7,432.6 28.9,433.5 30.0,434.5 31.1,434.7 32.2,435.0 33.3,435.2 34.5,435.5 35.6,435.5 36.7,435.2 37.8,435.0 39.0,434.7 40.1,434.6 41.2,435.5 42.3,436.5 43.5,437.4 44.6,438.4 45.7,439.1 46.8,439.8 48.0,440.5 49.1,441.2 50.2,441.8 51.3,442.5 52.5,442.5 53.6,441.7 54.7,440.8 55.8,439.9 57.0,439.0 58.1,438.1 59.2,437.2 60.3,436.4 61.4,435.5 62.6,434.7 63.7,433.9 64.8,433.0 65.9,432.2 67.1,431.4 68.2,430.5 69.3,429.7 70.4,428.8 71.6,427.9 72.7,426.9 73.8,426.0 74.9,425.1 76.1,424.1 77.2,423.2 78.3,422.2 79.4,421.3 80.6,420.4 81.7,419.7 82.8,418.9 83.9,418.2 85.1,417.5 86.2,416.7 87.3,416.0 88.4,415.4 89.5,415.0 90.7,414.7 91.8,414.4 92.9,414.0 94.0,413.7 95.2,413.4 96.3,413.7 97.4,413.9 98.5,414.2 99.7,414.4 100.8,413.2 101.9,411.3 103.0,409.4 104.2,407.5 105.3,405.9 106.4,404.9 107.5,404.0 108.7,403.0 109.8,402.1 110.9,401.5 112.0,400.9 113.2,400.4 114.3,399.9 115.4,399.4 116.5,398.8 117.6,398.3 118.8,397.8 119.9,397.2 121.0,397.8 122.1,398.4 123.3,399.1 124.4,399.7 125.5,400.3 126.6,401.0 127.8,401.6 128.9,402.3 130.0,402.9 131.1,403.9 132.3,404.8 133.4,405.7 134.5,406.7 135.6,407.6 136.8,408.6 137.9,409.5 139.0,410.5 140.1,411.3 141.3,411.4 142.4,411.6 143.5,411.7 144.6,411.8 145.7,411.9 146.9,412.1 148.0,412.2 149.1,412.3 150.2,412.4 151.4,412.5 152.5,412.6 153.6,412.8 154.7,412.9 155.9,413.0 157.0,413.1 158.1,413.2 159.2,413.3 160.4,413.4 161.5,413.3 162.6,413.2 163.7,413.1 164.9,413.0 166.0,412.9 167.1,412.8 168.2,412.7 169.4,412.6 170.5,412.5 171.6,412.4 172.7,412.9 173.8,413.8 175.0,414.6 176.1,415.4 177.2,416.3 178.3,417.1 179.5,417.9 180.6,418.8 181.7,419.6 182.8,419.9 184.0,420.1 185.1,420.3 186.2,420.5 187.3,420.7 188.5,420.8 189.6,421.0 190.7,421.2 191.8,421.4 193.0,421.6 194.1,421.8 195.2,421.9 196.3,421.6 197.5,421.4 198.6,421.1 199.7,420.9 200.8,420.7 201.9,420.4 203.1,420.2 204.2,420.0 205.3,419.9 206.4,420.3 207.6,420.7 208.7,421.1 209.8,421.5 210.9,421.9 212.1,422.2 213.2,422.6 214.3,423.0 215.4,423.4 216.6,423.8 217.7,424.2 218.8,424.6 219.9,425.0 221.1,425.0 222.2,425.0 223.3,425.0 224.4,425.0 225.6,425.0 226.7,425.0 227.8,425.0 228.9,425.0 230.0,425.0 231.2,425.0 232.3,425.0 233.4,425.0 234.5,425.0 235.7,425.2 236.8,425.4 237.9,425.7 239.0,426.0 240.2,426.3 241.3,426.5 242.4,426.8 243.5,427.1 244.7,427.4 245.8,427.7 246.9,427.9 248.0,428.2 249.2,428.1 250.3,427.9 251.4,427.8 252.5,427.7 253.7,427.6 254.8,427.5 255.9,427.3 257.0,427.2 258.1,427.0 259.3,426.0 260.4,424.9 261.5,423.9 262.6,422.9 263.8,421.9 264.9,420.9 266.0,419.9 267.1,418.9 268.3,417.9 269.4,416.9 270.5,415.8 271.6,414.8 272.8,414.4 273.9,414.2 275.0,414.1 276.1,413.9 277.3,413.8 278.4,413.6 279.5,413.5 280.6,413.5 281.8,413.8 282.9,414.0 284.0,414.3 285.1,414.7 286.2,416.9 287.4,419.0 288.5,421.1 289.6,423.3 290.7,424.6 291.9,425.6 293.0,426.5 294.1,427.5 295.2,428.2 296.4,428.3 297.5,428.4 298.6,428.5 299.7,428.6 300.9,428.7 302.0,428.8 303.1,428.4 304.2,428.0 305.4,427.6 306.5,427.1 307.6,426.7 308.7,426.3 309.9,425.9 311.0,425.5 312.1,425.1 313.2,424.7 314.3,424.2 315.5,423.9 316.6,423.8 317.7,423.6 318.8,423.5 320.0,423.3 321.1,423.1 322.2,423.0 323.3,422.8 324.5,422.7 325.6,422.5 326.7,422.4 327.8,422.2 329.0,422.0 330.1,421.9 331.2,421.6 332.3,421.4 333.5,421.2 334.6,420.9 335.7,420.7 336.8,420.4 338.0,420.2 339.1,420.0 340.2,419.7 341.3,419.5 342.4,419.2 343.6,419.0 344.7,418.8 345.8,418.7 346.9,418.7 348.1,418.7 349.2,418.7 350.3,418.7 351.4,418.7 352.6,418.2 353.7,417.1 354.8,416.1 355.9,415.1 357.1,414.0 358.2,413.0 359.3,411.9 360.4,411.2 361.6,411.0 362.7,410.8 363.8,410.5 364.9,410.3 366.1,410.1 367.2,410.0 368.3,410.5 369.4,411.0 370.5,411.5 371.7,411.9 372.8,412.4 373.9,412.9 375.0,413.4 376.2,414.3 377.3,415.1 378.4,415.9 379.5,416.8 380.7,417.6 381.8,418.4 382.9,419.3 384.0,420.1 385.2,420.9 386.3,421.2 387.4,421.6 388.5,421.9 389.7,422.3 390.8,422.6 391.9,423.0 393.0,423.4 394.2,423.7 395.3,423.9 396.4,423.7 397.5,423.5 398.6,423.2 399.8,423.0 400.9,422.8 402.0,422.5 403.1,422.3 404.3,422.1 405.4,421.6 406.5,420.8 407.6,419.9 408.8,419.1 409.9,418.3 411.0,417.5 412.1,416.6 413.3,415.8 414.4,415.0 415.5,413.6 416.6,411.6 417.8,409.5 418.9,407.5 420.0,405.5 421.1,403.5 422.3,401.7 423.4,401.0 424.5,400.3 425.6,399.6 426.7,398.9 427.9,398.2 429.0,398.5 430.1,398.9 431.2,399.4 432.4,399.8 433.5,400.3 434.6,400.7 435.7,401.2 436.9,401.6 438.0,402.1 439.1,402.5 440.2,403.2 441.4,404.3 442.5,405.5 443.6,406.7 444.7,407.9 445.9,409.0 447.0,410.0 448.1,411.0 449.2,412.0 450.4,413.0 451.5,414.0 452.6,414.7 453.7,415.0 454.8,415.2 456.0,415.5 457.1,415.8 458.2,416.1 459.3,416.4 460.5,416.5 461.6,416.1 462.7,415.7 463.8,415.4 465.0,415.0 466.1,414.7 467.2,414.3 468.3,413.9 469.5,413.6 470.6,413.3 471.7,413.2 472.8,413.0 474.0,412.8 475.1,412.7 476.2,412.5 477.3,412.4 478.5,412.2 479.6,412.1 480.7,412.1 481.8,412.3 482.9,412.4 484.1,412.6 485.2,412.7 486.3,412.9 487.4,413.0 488.6,413.2 489.7,413.4 490.8,413.7 491.9,414.0 493.1,414.4 494.2,414.7 495.3,415.1 496.4,415.5 497.6,415.8 498.7,416.2 499.8,416.5 500.9,416.7 502.1,416.8 503.2,416.8 504.3,416.9 505.4,417.0 506.6,417.1 507.7,417.2 508.8,417.2 509.9,417.3 511.0,417.4 512.2,417.5 513.3,417.6 514.4,417.7 515.5,417.9 516.7,418.4 517.8,418.9 518.9,419.3 520.0,419.8 521.2,420.3 522.3,420.8 523.4,421.2 524.5,421.7 525.7,422.0 526.8,422.3 527.9,422.5 529.0,422.7 530.2,422.9 531.3,422.5 532.4,422.2 533.5,421.8 534.7,421.5 535.8,421.1 536.9,420.8 538.0,420.4 539.1,420.1 540.3,419.6 541.4,418.7 542.5,417.9 543.6,417.0 544.8,416.2 545.9,415.3 547.0,414.5 548.1,412.1 549.3,409.7 550.4,407.4 551.5,405.0 552.6,403.2 553.8,401.8 554.9,400.4 556.0,399.1 557.1,397.7 558.3,396.7 559.4,397.0 560.5,397.4 561.6,397.7 562.8,398.0 563.9,398.4 565.0,398.7 566.1,399.9 567.2,401.1 568.4,402.3 569.5,403.5 570.6,405.0 571.7,406.9 572.9,408.8 574.0,410.7 575.1,412.4 576.2,412.9 577.4,413.4 578.5,413.9 579.6,414.3 580.7,414.8 581.9,415.3 583.0,415.8 584.1,416.2 585.2,416.6 586.4,416.9 587.5,417.1 588.6,417.4 589.7,417.6 590.9,417.8 592.0,418.1 593.1,418.3 594.2,418.5 595.3,418.8 596.5,418.9 597.6,419.1 598.7,419.3 599.8,419.5 601.0,419.6 602.1,419.8 603.2,420.3 604.3,420.7 605.5,421.1 606.6,421.6 607.7,422.0 608.8,422.4 610.0,422.9 611.1,422.8 612.2,422.7 613.3,422.6 614.5,422.5 615.6,422.3 616.7,422.2 617.8,422.1 619.0,422.0 620.1,421.9 621.2,422.6 622.3,423.3 623.4,424.0 624.6,424.7 625.7,425.9 626.8,427.5 627.9,429.0 629.1,430.5 630.2,431.8 631.3,431.5 632.4,431.2 633.6,430.9 634.7,430.6 635.8,430.3 636.9,430.0 638.1,429.7 639.2,429.4 640.3,429.2 641.4,429.1 642.6,428.9 643.7,428.8 644.8,428.7 645.9,428.6 647.1,428.5 648.2,428.4 649.3,428.3 650.4,427.7 651.5,426.2 652.7,424.8 653.8,423.4 654.9,422.0 656.0,420.8 657.2,419.6 658.3,418.4 659.4,417.2 660.5,416.5 661.7,416.3 662.8,416.0 663.9,415.8 665.0,415.5 666.2,415.3 667.3,415.1 668.4,414.8 669.5,414.6 670.7,414.5 671.8,414.6 672.9,414.7 674.0,414.7 675.2,414.8 676.3,414.9 677.4,414.9 678.5,415.0 679.6,415.1 680.8,415.2 681.9,415.4 683.0,415.6 684.1,415.7 685.3,415.9 686.4,416.1 687.5,416.2 688.6,416.4 689.8,416.6 690.9,416.8 692.0,417.0 693.1,417.3 694.3,417.5 695.4,417.7 696.5,418.0 697.6,418.2 698.8,418.4 699.9,418.7 701.0,419.0 702.1,419.4 703.3,419.7 704.4,420.1 705.5,420.5 706.6,420.8 707.7,421.2 708.9,421.5 710.0,421.9 711.1,421.9 712.2,421.9 713.4,421.9 714.5,421.9 715.6,421.9 716.7,421.9 717.9,421.9 719.0,421.9 720.1,421.8 721.2,421.1 722.4,420.4 723.5,419.7 724.6,419.0 725.7,418.3 726.9,417.6 728.0,416.9 729.1,416.2 730.2,415.6 731.4,414.9 732.5,414.8 733.6,415.5 734.7,416.2 735.8,417.0 737.0,417.7 738.1,418.7 739.2,419.7 740.3,420.8 741.5,421.8 742.6,422.8 743.7,423.8 744.8,424.9 746.0,425.1 747.1,425.2 748.2,425.4 749.3,425.5 750.5,425.6 751.6,425.7 752.7,425.8 753.8,426.0 755.0,426.1 756.1,425.6 757.2,425.1 758.3,424.6 759.5,424.1 760.6,423.6 761.7,423.0 762.8,422.7 763.9,422.4 765.1,422.1 766.2,421.8 767.3,421.5 768.4,421.2 769.6,420.9 770.7,421.0 771.8,421.4 772.9,421.7 774.1,422.1 775.2,422.5 776.3,422.8 777.4,423.2 778.6,423.5 779.7,423.9 780.8,424.2 781.9,424.5 783.1,424.9 784.2,425.2 785.3,425.5 786.4,425.6 787.6,425.2 788.7,424.9 789.8,424.5 790.9,424.2 792.0,423.8 793.2,423.5 794.3,423.1 795.4,422.8 796.5,422.4 797.7,422.1 798.8,421.7 799.9,421.4 801.0,421.0 802.2,420.7 803.3,420.3 804.4,420.0 805.5,419.4 806.7,418.6 807.8,417.9 808.9,417.1 810.0,416.3 811.2,415.5 812.3,414.9 813.4,415.1 814.5,415.3 815.7,415.5 816.8,415.7 817.9,415.9 819.0,416.0 820.1,416.3 821.3,416.7 822.4,417.1 823.5,417.5 824.6,417.9 825.8,418.3 826.9,418.7 828.0,419.1 829.1,419.5 830.3,419.9 831.4,420.5 832.5,421.1 833.6,421.7 834.8,422.3 835.9,422.9 837.0,423.5 838.1,424.0 839.3,423.9 840.4,423.8 841.5,423.7 842.6,423.6 843.8,423.5 844.9,423.4 846.0,423.3 847.1,423.2 848.2,423.1 849.4,423.0 850.5,422.8 851.6,422.7 852.7,422.6 853.9,422.5 855.0,422.3 856.1,422.2 857.2,422.1 858.4,422.0 859.5,421.8 860.6,421.7 861.7,421.6 862.9,421.4 864.0,421.3 865.1,421.2 866.2,421.0 867.4,420.9 868.5,420.7 869.6,420.5 870.7,420.4 871.9,420.2 873.0,420.0 874.1,419.9 875.2,419.7 876.3,419.6 877.5,419.4 878.6,419.2 879.7,419.1 880.8,418.9 882.0,418.7 883.1,418.6 884.2,418.4 885.3,418.3 886.5,418.2 887.6,418.1 888.7,418.1 889.8,418.0 891.0,417.9 892.1,417.9 893.2,417.8 894.3,417.7 895.5,417.5 896.6,417.0 897.7,416.4 898.8,415.9 900.0,415.4 901.1,414.8 902.2,414.3 903.3,413.8 904.4,413.3 905.6,412.9 906.7,412.7 907.8,412.5 908.9,412.3 910.1,412.1 911.2,411.9 912.3,411.8 913.4,412.2 914.6,412.6 915.7,412.9 916.8,413.3 917.9,413.7 919.1,414.1 920.2,414.5 921.3,414.8 922.4,415.2 923.6,415.6 924.7,416.0 925.8,416.4 926.9,416.8 928.1,417.2 929.2,417.5 930.3,417.9 931.4,418.3 932.5,417.9 933.7,416.7 934.8,415.5 935.9,414.3 937.0,413.1 938.2,412.0 939.3,411.5 940.4,411.0 941.5,410.5 942.7,410.0 943.8,409.8 944.9,409.6 946.0,409.4 947.2,409.2 948.3,409.0 949.4,408.8 950.5,408.8 951.7,408.9 952.8,409.1 953.9,409.3 955.0,409.5 956.2,409.6 957.3,409.8 958.4,410.2 959.5,410.9 960.6,411.7 961.8,412.4 962.9,412.5 964.0,412.4 965.1,412.3 966.3,412.2 967.4,412.2 968.5,412.3 969.6,412.6 970.8,413.0 971.9,413.4 973.0,413.7 974.1,414.1 975.3,414.5 976.4,414.9 977.5,415.2 978.6,415.6 979.8,416.0 980.9,416.4 982.0,416.8 983.1,417.1" fill="none" stroke="#3a9be0" stroke-width="1.8"/>
<polyline points="3.0,422.9 4.1,422.7 5.2,422.3 6.4,421.7 7.5,421.1 8.6,420.4 9.7,419.6 10.9,419.0 12.0,418.6 13.1,418.3 14.2,418.1 15.4,418.1 16.5,418.5 17.6,419.2 18.7,420.1 19.9,421.1 21.0,422.2 22.1,423.3 23.2,424.4 24.4,425.6 25.5,426.7 26.6,427.8 27.7,428.8 28.9,429.9 30.0,430.9 31.1,431.7 32.2,432.5 33.3,433.1 34.5,433.6 35.6,434.0 36.7,434.3 37.8,434.4 39.0,434.5 40.1,434.5 41.2,434.7 42.3,435.1 43.5,435.6 44.6,436.2 45.7,436.9 46.8,437.5 48.0,438.2 49.1,438.8 50.2,439.5 51.3,440.1 52.5,440.7 53.6,440.9 54.7,440.9 55.8,440.6 57.0,440.3 58.1,439.8 59.2,439.2 60.3,438.6 61.4,437.9 62.6,437.2 63.7,436.5 64.8,435.7 65.9,434.9 67.1,434.2 68.2,433.4 69.3,432.6 70.4,431.7 71.6,430.9 72.7,430.0 73.8,429.1 74.9,428.2 76.1,427.3 77.2,426.4 78.3,425.5 79.4,424.6 80.6,423.7 81.7,422.8 82.8,421.9 83.9,421.1 85.1,420.3 86.2,419.5 87.3,418.7 88.4,418.0 89.5,417.3 90.7,416.8 91.8,416.2 92.9,415.7 94.0,415.3 95.2,414.9 96.3,414.6 97.4,414.5 98.5,414.4 99.7,414.4 100.8,414.1 101.9,413.5 103.0,412.6 104.2,411.5 105.3,410.2 106.4,409.1 107.5,408.0 108.7,406.9 109.8,405.8 110.9,404.9 112.0,404.0 113.2,403.2 114.3,402.5 115.4,401.8 116.5,401.1 117.6,400.5 118.8,399.9 119.9,399.3 121.0,399.0 122.1,398.9 123.3,398.9 124.4,399.1 125.5,399.4 126.6,399.7 127.8,400.1 128.9,400.6 130.0,401.1 131.1,401.7 132.3,402.4 133.4,403.1 134.5,403.9 135.6,404.7 136.8,405.6 137.9,406.4 139.0,407.3 140.1,408.2 141.3,408.9 142.4,409.5 143.5,410.0 144.6,410.4 145.7,410.7 146.9,411.0 148.0,411.3 149.1,411.5 150.2,411.7 151.4,411.9 152.5,412.1 153.6,412.2 154.7,412.4 155.9,412.5 157.0,412.6 158.1,412.8 159.2,412.9 160.4,413.0 161.5,413.1 162.6,413.1 163.7,413.1 164.9,413.1 166.0,413.0 167.1,413.0 168.2,412.9 169.4,412.9 170.5,412.8 171.6,412.7 172.7,412.8 173.8,413.0 175.0,413.3 176.1,413.8 177.2,414.3 178.3,414.9 179.5,415.6 180.6,416.3 181.7,417.0 182.8,417.7 184.0,418.2 185.1,418.7 186.2,419.1 187.3,419.4 188.5,419.7 189.6,420.0 190.7,420.3 191.8,420.5 193.0,420.8 194.1,421.0 195.2,421.2 196.3,421.3 197.5,421.3 198.6,421.3 199.7,421.2 200.8,421.1 201.9,420.9 203.1,420.8 204.2,420.6 205.3,420.4 206.4,420.4 207.6,420.5 208.7,420.6 209.8,420.8 210.9,421.0 212.1,421.3 213.2,421.6 214.3,421.9 215.4,422.2 216.6,422.6 217.7,422.9 218.8,423.3 219.9,423.7 221.1,424.0 222.2,424.2 223.3,424.4 224.4,424.5 225.6,424.6 226.7,424.7 227.8,424.8 228.9,424.8 230.0,424.9 231.2,424.9 232.3,424.9 233.4,424.9 234.5,424.9 235.7,425.0 236.8,425.1 237.9,425.2 239.0,425.4 240.2,425.6 241.3,425.8 242.4,426.0 243.5,426.3 244.7,426.5 245.8,426.8 246.9,427.0 248.0,427.3 249.2,427.5 250.3,427.6 251.4,427.6 252.5,427.6 253.7,427.6 254.8,427.6 255.9,427.5 257.0,427.5 258.1,427.4 259.3,427.0 260.4,426.6 261.5,426.0 262.6,425.3 263.8,424.6 264.9,423.8 266.0,422.9 267.1,422.0 268.3,421.1 269.4,420.2 270.5,419.2 271.6,418.3 272.8,417.4 273.9,416.7 275.0,416.1 276.1,415.6 277.3,415.2 278.4,414.9 279.5,414.6 280.6,414.3 281.8,414.2 282.9,414.2 284.0,414.2 285.1,414.3 286.2,414.9 287.4,415.8 288.5,417.0 289.6,418.4 290.7,419.7 291.9,421.0 293.0,422.2 294.1,423.4 295.2,424.4 296.4,425.3 297.5,426.0 298.6,426.5 299.7,427.0 300.9,427.4 302.0,427.7 303.1,427.8 304.2,427.9 305.4,427.8 306.5,427.7 307.6,427.5 308.7,427.2 309.9,426.9 311.0,426.6 312.1,426.3 313.2,425.9 314.3,425.5 315.5,425.2 316.6,424.9 317.7,424.6 318.8,424.4 320.0,424.1 321.1,423.9 322.2,423.7 323.3,423.5 324.5,423.3 325.6,423.2 326.7,423.0 327.8,422.8 329.0,422.6 330.1,422.5 331.2,422.3 332.3,422.1 333.5,421.9 334.6,421.7 335.7,421.5 336.8,421.2 338.0,421.0 339.1,420.8 340.2,420.5 341.3,420.3 342.4,420.1 343.6,419.8 344.7,419.6 345.8,419.4 346.9,419.3 348.1,419.1 349.2,419.0 350.3,419.0 351.4,418.9 352.6,418.7 353.7,418.4 354.8,417.9 355.9,417.3 357.1,416.6 358.2,415.8 359.3,414.9 360.4,414.1 361.6,413.4 362.7,412.8 363.8,412.3 364.9,411.9 366.1,411.5 367.2,411.2 368.3,411.0 369.4,411.0 370.5,411.1 371.7,411.3 372.8,411.5 373.9,411.8 375.0,412.2 376.2,412.6 377.3,413.2 378.4,413.8 379.5,414.4 380.7,415.1 381.8,415.9 382.9,416.6 384.0,417.4 385.2,418.1 386.3,418.8 387.4,419.4 388.5,420.0 389.7,420.5 390.8,421.0 391.9,421.4 393.0,421.8 394.2,422.3 395.3,422.6 396.4,422.9 397.5,423.0 398.6,423.0 399.8,423.0 400.9,423.0 402.0,422.9 403.1,422.7 404.3,422.6 405.4,422.4 406.5,422.0 407.6,421.6 408.8,421.0 409.9,420.4 411.0,419.8 412.1,419.1 413.3,418.4 414.4,417.6 415.5,416.7 416.6,415.6 417.8,414.3 418.9,412.8 420.0,411.2 421.1,409.5 422.3,407.8 423.4,406.3 424.5,405.0 425.6,403.8 426.7,402.7 427.9,401.7 429.0,401.0 430.1,400.6 431.2,400.3 432.4,400.2 433.5,400.2 434.6,400.3 435.7,400.5 436.9,400.8 438.0,401.1 439.1,401.4 440.2,401.8 441.4,402.3 442.5,403.0 443.6,403.9 444.7,404.7 445.9,405.7 447.0,406.6 448.1,407.6 449.2,408.6 450.4,409.5 451.5,410.5 452.6,411.4 453.7,412.2 454.8,412.9 456.0,413.5 457.1,414.0 458.2,414.5 459.3,414.9 460.5,415.2 461.6,415.4 462.7,415.5 463.8,415.5 465.0,415.4 466.1,415.2 467.2,415.0 468.3,414.8 469.5,414.5 470.6,414.2 471.7,414.0 472.8,413.8 474.0,413.6 475.1,413.4 476.2,413.2 477.3,413.0 478.5,412.8 479.6,412.7 480.7,412.5 481.8,412.5 482.9,412.5 484.1,412.5 485.2,412.5 486.3,412.6 487.4,412.7 488.6,412.8 489.7,412.9 490.8,413.1 491.9,413.3 493.1,413.5 494.2,413.8 495.3,414.1 496.4,414.4 497.6,414.7 498.7,415.0 499.8,415.4 500.9,415.6 502.1,415.9 503.2,416.1 504.3,416.3 505.4,416.4 506.6,416.6 507.7,416.7 508.8,416.8 509.9,416.9 511.0,417.0 512.2,417.1 513.3,417.2 514.4,417.3 515.5,417.5 516.7,417.7 517.8,417.9 518.9,418.2 520.0,418.6 521.2,419.0 522.3,419.4 523.4,419.8 524.5,420.2 525.7,420.6 526.8,421.0 527.9,421.3 529.0,421.6 530.2,421.9 531.3,422.0 532.4,422.0 533.5,422.0 534.7,421.9 535.8,421.7 536.9,421.5 538.0,421.3 539.1,421.0 540.3,420.7 541.4,420.3 542.5,419.7 543.6,419.1 544.8,418.5 545.9,417.8 547.0,417.1 548.1,416.0 549.3,414.6 550.4,413.0 551.5,411.3 552.6,409.5 553.8,407.8 554.9,406.2 556.0,404.6 557.1,403.1 558.3,401.7 559.4,400.7 560.5,399.9 561.6,399.4 562.8,399.1 563.9,399.0 565.0,398.9 566.1,399.1 567.2,399.6 568.4,400.1 569.5,400.9 570.6,401.8 571.7,402.9 572.9,404.2 574.0,405.6 575.1,407.1 576.2,408.4 577.4,409.5 578.5,410.5 579.6,411.3 580.7,412.1 581.9,412.8 583.0,413.4 584.1,414.1 585.2,414.6 586.4,415.1 587.5,415.6 588.6,416.0 589.7,416.3 590.9,416.6 592.0,417.0 593.1,417.3 594.2,417.5 595.3,417.8 596.5,418.1 597.6,418.3 598.7,418.5 599.8,418.7 601.0,418.9 602.1,419.1 603.2,419.4 604.3,419.7 605.5,420.0 606.6,420.3 607.7,420.7 608.8,421.1 610.0,421.5 611.1,421.8 612.2,422.0 613.3,422.1 614.5,422.2 615.6,422.2 616.7,422.2 617.8,422.2 619.0,422.2 620.1,422.1 621.2,422.2 622.3,422.5 623.4,422.8 624.6,423.2 625.7,423.8 626.8,424.6 627.9,425.6 629.1,426.7 630.2,427.8 631.3,428.6 632.4,429.2 633.6,429.5 634.7,429.8 635.8,429.9 636.9,429.9 638.1,429.9 639.2,429.8 640.3,429.6 641.4,429.5 642.6,429.4 643.7,429.3 644.8,429.1 645.9,429.0 647.1,428.9 648.2,428.8 649.3,428.7 650.4,428.5 651.5,428.0 652.7,427.3 653.8,426.4 654.9,425.5 656.0,424.4 657.2,423.4 658.3,422.3 659.4,421.2 660.5,420.1 661.7,419.3 662.8,418.6 663.9,417.9 665.0,417.4 666.2,417.0 667.3,416.5 668.4,416.2 669.5,415.8 670.7,415.5 671.8,415.3 672.9,415.2 674.0,415.1 675.2,415.0 676.3,415.0 677.4,415.0 678.5,415.0 679.6,415.0 680.8,415.1 681.9,415.1 683.0,415.2 684.1,415.3 685.3,415.5 686.4,415.6 687.5,415.7 688.6,415.9 689.8,416.0 690.9,416.2 692.0,416.4 693.1,416.6 694.3,416.8 695.4,417.0 696.5,417.2 697.6,417.4 698.8,417.6 699.9,417.9 701.0,418.1 702.1,418.4 703.3,418.7 704.4,419.0 705.5,419.3 706.6,419.7 707.7,420.0 708.9,420.3 710.0,420.7 711.1,420.9 712.2,421.2 713.4,421.3 714.5,421.4 715.6,421.5 716.7,421.6 717.9,421.7 719.0,421.7 720.1,421.8 721.2,421.6 722.4,421.3 723.5,421.0 724.6,420.5 725.7,420.0 726.9,419.5 728.0,418.9 729.1,418.3 730.2,417.7 731.4,417.1 732.5,416.6 733.6,416.4 734.7,416.3 735.8,416.5 737.0,416.7 738.1,417.2 739.2,417.7 740.3,418.4 741.5,419.1 742.6,419.9 743.7,420.8 744.8,421.7 746.0,422.4 747.1,423.1 748.2,423.6 749.3,424.0 750.5,424.3 751.6,424.6 752.7,424.9 753.8,425.1 755.0,425.4 756.1,425.4 757.2,425.3 758.3,425.2 759.5,424.9 760.6,424.6 761.7,424.3 762.8,423.9 763.9,423.6 765.1,423.3 766.2,422.9 767.3,422.6 768.4,422.3 769.6,422.0 770.7,421.8 771.8,421.7 772.9,421.7 774.1,421.8 775.2,421.9 776.3,422.1 777.4,422.4 778.6,422.6 779.7,422.9 780.8,423.2 781.9,423.5 783.1,423.8 784.2,424.1 785.3,424.4 786.4,424.7 787.6,424.8 788.7,424.8 789.8,424.7 790.9,424.6 792.0,424.4 793.2,424.2 794.3,424.0 795.4,423.7 796.5,423.4 797.7,423.1 798.8,422.8 799.9,422.5 801.0,422.2 802.2,421.8 803.3,421.5 804.4,421.2 805.5,420.8 806.7,420.3 807.8,419.8 808.9,419.2 810.0,418.5 811.2,417.9 812.3,417.2 813.4,416.8 814.5,416.4 815.7,416.2 816.8,416.1 817.9,416.1 819.0,416.1 820.1,416.1 821.3,416.2 822.4,416.4 823.5,416.6 824.6,416.9 825.8,417.2 826.9,417.5 828.0,417.9 829.1,418.2 830.3,418.6 831.4,419.0 832.5,419.5 833.6,420.0 834.8,420.5 835.9,421.0 837.0,421.6 838.1,422.1 839.3,422.5 840.4,422.8 841.5,423.0 842.6,423.1 843.8,423.2 844.9,423.2 846.0,423.2 847.1,423.2 848.2,423.2 849.4,423.1 850.5,423.1 851.6,423.0 852.7,422.9 853.9,422.8 855.0,422.7 856.1,422.6 857.2,422.5 858.4,422.4 859.5,422.2 860.6,422.1 861.7,422.0 862.9,421.9 864.0,421.8 865.1,421.6 866.2,421.5 867.4,421.4 868.5,421.2 869.6,421.1 870.7,420.9 871.9,420.8 873.0,420.6 874.1,420.4 875.2,420.3 876.3,420.1 877.5,420.0 878.6,419.8 879.7,419.6 880.8,419.5 882.0,419.3 883.1,419.2 884.2,419.0 885.3,418.8 886.5,418.7 887.6,418.6 888.7,418.5 889.8,418.4 891.0,418.3 892.1,418.2 893.2,418.1 894.3,418.0 895.5,417.9 896.6,417.7 897.7,417.4 898.8,417.1 900.0,416.7 901.1,416.3 902.2,415.9 903.3,415.4 904.4,414.9 905.6,414.5 906.7,414.1 907.8,413.7 908.9,413.4 910.1,413.1 911.2,412.8 912.3,412.6 913.4,412.5 914.6,412.5 915.7,412.6 916.8,412.8 917.9,413.0 919.1,413.2 920.2,413.5 921.3,413.8 922.4,414.1 923.6,414.4 924.7,414.8 925.8,415.1 926.9,415.5 928.1,415.9 929.2,416.2 930.3,416.6 931.4,417.0 932.5,417.2 933.7,417.1 934.8,416.7 935.9,416.2 937.0,415.5 938.2,414.8 939.3,414.0 940.4,413.4 941.5,412.8 942.7,412.2 943.8,411.6 944.9,411.2 946.0,410.8 947.2,410.4 948.3,410.1 949.4,409.8 950.5,409.6 951.7,409.5 952.8,409.4 953.9,409.4 955.0,409.4 956.2,409.4 957.3,409.5 958.4,409.7 959.5,409.9 960.6,410.3 961.8,410.8 962.9,411.2 964.0,411.4 965.1,411.6 966.3,411.8 967.4,411.9 968.5,411.9 969.6,412.1 970.8,412.3 971.9,412.5 973.0,412.8 974.1,413.1 975.3,413.4 976.4,413.7 977.5,414.1 978.6,414.4 979.8,414.8 980.9,415.1 982.0,415.5 983.1,415.8" fill="none" stroke="#df2b2b" stroke-width="1.8"/>
<text x="1104" y="58.7" font-size="12" fill="#3c4a50">70161.52</text>
<text x="1104" y="96.8" font-size="12" fill="#3c4a50">68150.68</text>
<text x="1104" y="134" font-size="12" fill="#3c4a50">66139.84</text>
<text x="1104" y="170.8" font-size="12" fill="#3c4a50">64129.00</text>
<text x="1104" y="208.3" font-size="12" fill="#3c4a50">62118.16</text>
<text x="1104" y="245.3" font-size="12" fill="#3c4a50">60107.32</text>
<text x="1104" y="282.8" font-size="12" fill="#3c4a50">58096.48</text>
<text x="1104" y="314.7" font-size="12" fill="#3c4a50">56085.64</text>
<text x="1104" y="326.6" font-size="12" fill="#3c4a50">100.0</text>
<text x="1104" y="343.3" font-size="12" fill="#3c4a50">70.0</text>
<text x="1104" y="374.3" font-size="12" fill="#3c4a50">30.0</text>
<text x="1104" y="392.1" font-size="12" fill="#3c4a50">0.0</text>
<text x="1104" y="404" font-size="12" fill="#3c4a50">1343.727</text>
<text x="1104" y="423.9" font-size="12" fill="#3c4a50">0.00000</text>
<text x="1104" y="445.8" font-size="12" fill="#3c4a50">-1343.73</text>
<path d="M1092 42.4 L1100 34 L1158 34 L1158 51 L1100 51 Z" fill="#7f8a91"/>
<text x="1103" y="46.8" font-size="12.4" fill="#fff">70861.00</text>
<g font-size="13.2" font-weight="bold"><text x="1038.3" y="299.8" fill="#f7941d">10</text><text x="1054.5" y="299.8" fill="#b0bec5" font-weight="normal">m</text><text x="1070.8" y="299.8" fill="#f7941d">13</text><text x="1088" y="299.8" fill="#b0bec5" font-weight="normal">s</text></g>
<rect x="0" y="0" width="125" height="18" fill="#fff"/>
<rect x="125" y="0" width="70" height="26" fill="#fff"/>
<text x="21" y="22" font-size="12" font-weight="bold" fill="#37474f" letter-spacing="-0.4">BITCOIN</text>
<text x="71" y="20.6" font-size="8.2" fill="#78909c">CFD</text>
<path d="M94 15 L100.5 15 L97.25 18.5 Z" fill="#757575"/>
<text x="143" y="22" font-size="10" fill="#546e7a">H1</text>
<path d="M170.5 15.8 L177 15.8 L173.75 19.2 Z" fill="#757575"/>
<text x="4.6" y="459" font-size="12" fill="#3c4a50">29.04.2024</text>
<text x="72.7" y="459" font-size="12" fill="#3c4a50">22:00</text>
<text x="140.7" y="459" font-size="12" fill="#3c4a50">05.05</text>
<text x="175.9" y="459" font-size="12" fill="#3c4a50">05:00</text>
<text x="277" y="459" font-size="12" fill="#3c4a50">10.05</text>
<text x="312.2" y="459" font-size="12" fill="#3c4a50">06:00</text>
<text x="412.7" y="459" font-size="12" fill="#3c4a50">15.05</text>
<text x="447.9" y="459" font-size="12" fill="#3c4a50">13:00</text>
<text x="548.5" y="459" font-size="12" fill="#3c4a50">20.05</text>
<text x="583.7" y="459" font-size="12" fill="#3c4a50">20:00</text>
<text x="684.3" y="459" font-size="12" fill="#3c4a50">26.05</text>
<text x="719.5" y="459" font-size="12" fill="#3c4a50">03:00</text>
<text x="821.1" y="459" font-size="12" fill="#3c4a50">31.05</text>
<text x="856.3" y="459" font-size="12" fill="#3c4a50">04:00</text>
<text x="956.5" y="459" font-size="12" fill="#3c4a50">05.06</text>
<text x="991.7" y="459" font-size="12" fill="#3c4a50">11:00</text>
<text x="1093.6" y="459" font-size="12" fill="#3c4a50">10.06</text>
<text x="1128.8" y="459" font-size="12" fill="#3c4a50">12:00</text>
</svg></body></html>
